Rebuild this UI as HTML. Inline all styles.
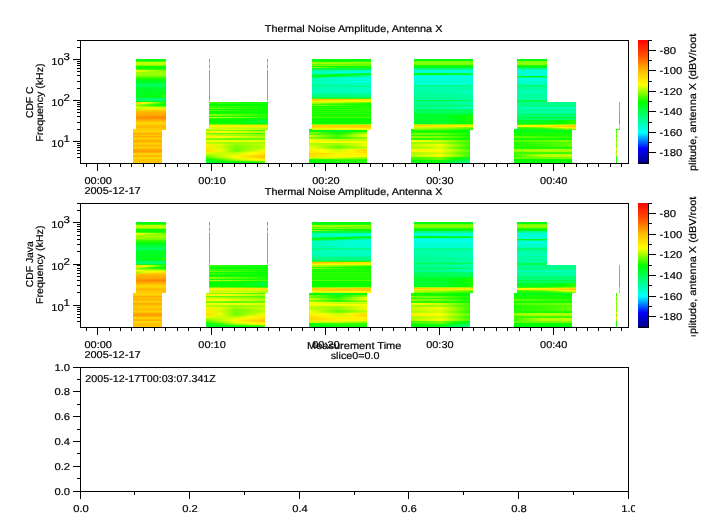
<!DOCTYPE html>
<html><head><meta charset="utf-8"><title>Thermal Noise Amplitude</title>
<style>
html,body{margin:0;padding:0;background:#fff;}
body{width:718px;height:532px;overflow:hidden;}
svg{display:block;}
text{font-family:"Liberation Sans",sans-serif;font-size:10px;fill:#000;stroke:#000;stroke-width:0.2px;}
</style></head><body>
<svg width="718" height="532" viewBox="0 0 718 532">
<defs>
<linearGradient id="a1"><stop offset="0" stop-color="#50ff00"/><stop offset="0.25" stop-color="#46ff00"/><stop offset="0.5" stop-color="#3cff00"/><stop offset="0.75" stop-color="#32ff00"/><stop offset="1" stop-color="#28ff00"/></linearGradient>
<linearGradient id="a2"><stop offset="0" stop-color="#fffa00"/><stop offset="0.25" stop-color="#dcff00"/><stop offset="0.5" stop-color="#aaff00"/><stop offset="0.75" stop-color="#91ff00"/><stop offset="1" stop-color="#78ff00"/></linearGradient>
<linearGradient id="a3"><stop offset="0" stop-color="#e6ff00"/><stop offset="0.25" stop-color="#c3ff00"/><stop offset="0.5" stop-color="#a0ff00"/><stop offset="0.75" stop-color="#91ff00"/><stop offset="1" stop-color="#82ff00"/></linearGradient>
<linearGradient id="a4"><stop offset="0" stop-color="#00ff1e"/><stop offset="0.25" stop-color="#00ff19"/><stop offset="0.5" stop-color="#00ff14"/><stop offset="0.75" stop-color="#0dff00"/><stop offset="1" stop-color="#3cff00"/></linearGradient>
<linearGradient id="a5"><stop offset="0" stop-color="#00ff1e"/><stop offset="0.25" stop-color="#00ff19"/><stop offset="0.5" stop-color="#00ff14"/><stop offset="0.75" stop-color="#08ff00"/><stop offset="1" stop-color="#32ff00"/></linearGradient>
<linearGradient id="a6"><stop offset="0" stop-color="#ffc800"/><stop offset="0.25" stop-color="#ffed00"/><stop offset="0.5" stop-color="#c8ff00"/><stop offset="0.75" stop-color="#6eff00"/><stop offset="1" stop-color="#14ff00"/></linearGradient>
<linearGradient id="a7"><stop offset="0" stop-color="#ffd200"/><stop offset="0.25" stop-color="#fffa00"/><stop offset="0.5" stop-color="#96ff00"/><stop offset="0.75" stop-color="#4bff00"/><stop offset="1" stop-color="#00ff00"/></linearGradient>
<linearGradient id="a8"><stop offset="0" stop-color="#c8ff00"/><stop offset="0.25" stop-color="#82ff00"/><stop offset="0.5" stop-color="#3cff00"/><stop offset="0.75" stop-color="#1eff00"/><stop offset="1" stop-color="#00ff00"/></linearGradient>
<linearGradient id="a9"><stop offset="0" stop-color="#96ff00"/><stop offset="0.25" stop-color="#5fff00"/><stop offset="0.5" stop-color="#28ff00"/><stop offset="0.75" stop-color="#14ff00"/><stop offset="1" stop-color="#00ff00"/></linearGradient>
<linearGradient id="a10"><stop offset="0" stop-color="#aaff00"/><stop offset="0.25" stop-color="#9bff00"/><stop offset="0.5" stop-color="#8cff00"/><stop offset="0.75" stop-color="#78ff00"/><stop offset="1" stop-color="#64ff00"/></linearGradient>
<linearGradient id="a11"><stop offset="0" stop-color="#f0ff00"/><stop offset="0.25" stop-color="#e1ff00"/><stop offset="0.5" stop-color="#d2ff00"/><stop offset="0.75" stop-color="#c8ff00"/><stop offset="1" stop-color="#beff00"/></linearGradient>
<linearGradient id="a12"><stop offset="0" stop-color="#c8ff00"/><stop offset="0.25" stop-color="#dcff00"/><stop offset="0.5" stop-color="#f0ff00"/><stop offset="0.75" stop-color="#ebff00"/><stop offset="1" stop-color="#e6ff00"/></linearGradient>
<linearGradient id="a13"><stop offset="0" stop-color="#78ff00"/><stop offset="0.25" stop-color="#daff00"/><stop offset="0.5" stop-color="#ffeb00"/><stop offset="0.75" stop-color="#ffe600"/><stop offset="1" stop-color="#ffe100"/></linearGradient>
<linearGradient id="a14"><stop offset="0" stop-color="#ff9b00"/><stop offset="0.25" stop-color="#ff9800"/><stop offset="0.5" stop-color="#ff9600"/><stop offset="0.75" stop-color="#ff9100"/><stop offset="1" stop-color="#ff8c00"/></linearGradient>
<linearGradient id="a15"><stop offset="0" stop-color="#ff8c00"/><stop offset="0.25" stop-color="#ff8900"/><stop offset="0.5" stop-color="#ff8700"/><stop offset="0.75" stop-color="#ff8400"/><stop offset="1" stop-color="#ff8200"/></linearGradient>
<linearGradient id="a16"><stop offset="0" stop-color="#96ff00"/><stop offset="0.25" stop-color="#7dff00"/><stop offset="0.5" stop-color="#64ff00"/><stop offset="0.75" stop-color="#50ff00"/><stop offset="1" stop-color="#3cff00"/></linearGradient>
<linearGradient id="a17"><stop offset="0" stop-color="#a0ff00"/><stop offset="0.25" stop-color="#87ff00"/><stop offset="0.5" stop-color="#6eff00"/><stop offset="0.75" stop-color="#55ff00"/><stop offset="1" stop-color="#3cff00"/></linearGradient>
<linearGradient id="a18"><stop offset="0" stop-color="#ffeb00"/><stop offset="0.25" stop-color="#fff900"/><stop offset="0.5" stop-color="#e6ff00"/><stop offset="0.75" stop-color="#c8ff00"/><stop offset="1" stop-color="#aaff00"/></linearGradient>
<linearGradient id="a19"><stop offset="0" stop-color="#fff000"/><stop offset="0.25" stop-color="#fffd00"/><stop offset="0.5" stop-color="#dcff00"/><stop offset="0.75" stop-color="#beff00"/><stop offset="1" stop-color="#a0ff00"/></linearGradient>
<linearGradient id="a20"><stop offset="0" stop-color="#64ff00"/><stop offset="0.25" stop-color="#5fff00"/><stop offset="0.5" stop-color="#5aff00"/><stop offset="0.75" stop-color="#55ff00"/><stop offset="1" stop-color="#50ff00"/></linearGradient>
<linearGradient id="a21"><stop offset="0" stop-color="#beff00"/><stop offset="0.25" stop-color="#afff00"/><stop offset="0.5" stop-color="#a0ff00"/><stop offset="0.75" stop-color="#8cff00"/><stop offset="1" stop-color="#78ff00"/></linearGradient>
<linearGradient id="a22"><stop offset="0" stop-color="#c8ff00"/><stop offset="0.25" stop-color="#b9ff00"/><stop offset="0.5" stop-color="#aaff00"/><stop offset="0.75" stop-color="#96ff00"/><stop offset="1" stop-color="#82ff00"/></linearGradient>
<linearGradient id="a23"><stop offset="0" stop-color="#fff000"/><stop offset="0.25" stop-color="#fffc00"/><stop offset="0.5" stop-color="#e6ff00"/><stop offset="0.75" stop-color="#c8ff00"/><stop offset="1" stop-color="#aaff00"/></linearGradient>
<linearGradient id="a24"><stop offset="0" stop-color="#fff000"/><stop offset="0.25" stop-color="#fffd00"/><stop offset="0.5" stop-color="#dcff00"/><stop offset="0.75" stop-color="#c3ff00"/><stop offset="1" stop-color="#aaff00"/></linearGradient>
<linearGradient id="a25"><stop offset="0" stop-color="#8cff00"/><stop offset="0.25" stop-color="#78ff00"/><stop offset="0.5" stop-color="#64ff00"/><stop offset="0.75" stop-color="#64ff00"/><stop offset="1" stop-color="#64ff00"/></linearGradient>
<linearGradient id="a26"><stop offset="0" stop-color="#78ff00"/><stop offset="0.25" stop-color="#69ff00"/><stop offset="0.5" stop-color="#5aff00"/><stop offset="0.75" stop-color="#64ff00"/><stop offset="1" stop-color="#6eff00"/></linearGradient>
<linearGradient id="a27"><stop offset="0" stop-color="#f0ff00"/><stop offset="0.25" stop-color="#eeff00"/><stop offset="0.5" stop-color="#ebff00"/><stop offset="0.75" stop-color="#e4ff00"/><stop offset="1" stop-color="#dcff00"/></linearGradient>
<linearGradient id="a28"><stop offset="0" stop-color="#f0ff00"/><stop offset="0.25" stop-color="#eeff00"/><stop offset="0.5" stop-color="#ebff00"/><stop offset="0.75" stop-color="#e4ff00"/><stop offset="1" stop-color="#dcff00"/></linearGradient>
<linearGradient id="a29"><stop offset="0" stop-color="#b4ff00"/><stop offset="0.25" stop-color="#aaff00"/><stop offset="0.5" stop-color="#a0ff00"/><stop offset="0.75" stop-color="#a5ff00"/><stop offset="1" stop-color="#aaff00"/></linearGradient>
<linearGradient id="a30"><stop offset="0" stop-color="#beff00"/><stop offset="0.25" stop-color="#aaff00"/><stop offset="0.5" stop-color="#96ff00"/><stop offset="0.75" stop-color="#a0ff00"/><stop offset="1" stop-color="#aaff00"/></linearGradient>
<linearGradient id="a31"><stop offset="0" stop-color="#fff000"/><stop offset="0.25" stop-color="#e1ff00"/><stop offset="0.5" stop-color="#96ff00"/><stop offset="0.75" stop-color="#afff00"/><stop offset="1" stop-color="#c8ff00"/></linearGradient>
<linearGradient id="a32"><stop offset="0" stop-color="#fff000"/><stop offset="0.25" stop-color="#d7ff00"/><stop offset="0.5" stop-color="#82ff00"/><stop offset="0.75" stop-color="#a0ff00"/><stop offset="1" stop-color="#beff00"/></linearGradient>
<linearGradient id="a33"><stop offset="0" stop-color="#ffeb00"/><stop offset="0.25" stop-color="#daff00"/><stop offset="0.5" stop-color="#78ff00"/><stop offset="0.75" stop-color="#96ff00"/><stop offset="1" stop-color="#b4ff00"/></linearGradient>
<linearGradient id="a34"><stop offset="0" stop-color="#fff000"/><stop offset="0.25" stop-color="#d2ff00"/><stop offset="0.5" stop-color="#78ff00"/><stop offset="0.75" stop-color="#9bff00"/><stop offset="1" stop-color="#beff00"/></linearGradient>
<linearGradient id="a35"><stop offset="0" stop-color="#ffeb00"/><stop offset="0.25" stop-color="#daff00"/><stop offset="0.5" stop-color="#78ff00"/><stop offset="0.75" stop-color="#a0ff00"/><stop offset="1" stop-color="#c8ff00"/></linearGradient>
<linearGradient id="a36"><stop offset="0" stop-color="#ffdc00"/><stop offset="0.25" stop-color="#ecff00"/><stop offset="0.5" stop-color="#6eff00"/><stop offset="0.75" stop-color="#aaff00"/><stop offset="1" stop-color="#e6ff00"/></linearGradient>
<linearGradient id="a37"><stop offset="0" stop-color="#ffdc00"/><stop offset="0.25" stop-color="#ecff00"/><stop offset="0.5" stop-color="#6eff00"/><stop offset="0.75" stop-color="#afff00"/><stop offset="1" stop-color="#f0ff00"/></linearGradient>
<linearGradient id="a38"><stop offset="0" stop-color="#ffe100"/><stop offset="0.25" stop-color="#e9ff00"/><stop offset="0.5" stop-color="#78ff00"/><stop offset="0.75" stop-color="#cbff00"/><stop offset="1" stop-color="#fff500"/></linearGradient>
<linearGradient id="a39"><stop offset="0" stop-color="#ebff00"/><stop offset="0.25" stop-color="#cbff00"/><stop offset="0.5" stop-color="#aaff00"/><stop offset="0.75" stop-color="#f3ff00"/><stop offset="1" stop-color="#ffeb00"/></linearGradient>
<linearGradient id="a40"><stop offset="0" stop-color="#d2ff00"/><stop offset="0.25" stop-color="#cdff00"/><stop offset="0.5" stop-color="#c8ff00"/><stop offset="0.75" stop-color="#fffc00"/><stop offset="1" stop-color="#ffe600"/></linearGradient>
<linearGradient id="a41"><stop offset="0" stop-color="#beff00"/><stop offset="0.25" stop-color="#cdff00"/><stop offset="0.5" stop-color="#dcff00"/><stop offset="0.75" stop-color="#fff600"/><stop offset="1" stop-color="#ffe100"/></linearGradient>
<linearGradient id="a42"><stop offset="0" stop-color="#82ff00"/><stop offset="0.25" stop-color="#bbff00"/><stop offset="0.5" stop-color="#f5ff00"/><stop offset="0.75" stop-color="#ffe800"/><stop offset="1" stop-color="#ffcd00"/></linearGradient>
<linearGradient id="a43"><stop offset="0" stop-color="#64ff00"/><stop offset="0.25" stop-color="#b9ff00"/><stop offset="0.5" stop-color="#fffa00"/><stop offset="0.75" stop-color="#ffdc00"/><stop offset="1" stop-color="#ffbe00"/></linearGradient>
<linearGradient id="a44"><stop offset="0" stop-color="#5aff00"/><stop offset="0.25" stop-color="#a8ff00"/><stop offset="0.5" stop-color="#f5ff00"/><stop offset="0.75" stop-color="#ffe300"/><stop offset="1" stop-color="#ffc300"/></linearGradient>
<linearGradient id="a45"><stop offset="0" stop-color="#14ff00"/><stop offset="0.25" stop-color="#78ff00"/><stop offset="0.5" stop-color="#dcff00"/><stop offset="0.75" stop-color="#fff600"/><stop offset="1" stop-color="#ffe100"/></linearGradient>
<linearGradient id="a46"><stop offset="0" stop-color="#00ff14"/><stop offset="0.25" stop-color="#49ff00"/><stop offset="0.5" stop-color="#b4ff00"/><stop offset="0.75" stop-color="#f0ff00"/><stop offset="1" stop-color="#fff000"/></linearGradient>
<linearGradient id="a47"><stop offset="0" stop-color="#00ff1e"/><stop offset="0.25" stop-color="#27ff00"/><stop offset="0.5" stop-color="#82ff00"/><stop offset="0.75" stop-color="#b9ff00"/><stop offset="1" stop-color="#f0ff00"/></linearGradient>
<linearGradient id="a48"><stop offset="0" stop-color="#00ff28"/><stop offset="0.25" stop-color="#00ff09"/><stop offset="0.5" stop-color="#28ff00"/><stop offset="0.75" stop-color="#46ff00"/><stop offset="1" stop-color="#64ff00"/></linearGradient>
<linearGradient id="a49"><stop offset="0" stop-color="#00ff28"/><stop offset="0.25" stop-color="#00ff1e"/><stop offset="0.5" stop-color="#00ff14"/><stop offset="0.75" stop-color="#0dff00"/><stop offset="1" stop-color="#3cff00"/></linearGradient>
<linearGradient id="a50"><stop offset="0" stop-color="#3cff00"/><stop offset="0.25" stop-color="#32ff00"/><stop offset="0.5" stop-color="#28ff00"/><stop offset="0.75" stop-color="#1eff00"/><stop offset="1" stop-color="#14ff00"/></linearGradient>
<linearGradient id="a51"><stop offset="0" stop-color="#32ff00"/><stop offset="0.25" stop-color="#28ff00"/><stop offset="0.5" stop-color="#1eff00"/><stop offset="0.75" stop-color="#19ff00"/><stop offset="1" stop-color="#14ff00"/></linearGradient>
<linearGradient id="a52"><stop offset="0" stop-color="#3cff00"/><stop offset="0.25" stop-color="#32ff00"/><stop offset="0.5" stop-color="#28ff00"/><stop offset="0.75" stop-color="#1eff00"/><stop offset="1" stop-color="#14ff00"/></linearGradient>
<linearGradient id="a53"><stop offset="0" stop-color="#3cff00"/><stop offset="0.25" stop-color="#32ff00"/><stop offset="0.5" stop-color="#28ff00"/><stop offset="0.75" stop-color="#19ff00"/><stop offset="1" stop-color="#0aff00"/></linearGradient>
<linearGradient id="a54"><stop offset="0" stop-color="#6eff00"/><stop offset="0.25" stop-color="#55ff00"/><stop offset="0.5" stop-color="#3cff00"/><stop offset="0.75" stop-color="#28ff00"/><stop offset="1" stop-color="#14ff00"/></linearGradient>
<linearGradient id="a55"><stop offset="0" stop-color="#5aff00"/><stop offset="0.25" stop-color="#41ff00"/><stop offset="0.5" stop-color="#28ff00"/><stop offset="0.75" stop-color="#19ff00"/><stop offset="1" stop-color="#0aff00"/></linearGradient>
<linearGradient id="a56"><stop offset="0" stop-color="#96ff00"/><stop offset="0.25" stop-color="#78ff00"/><stop offset="0.5" stop-color="#5aff00"/><stop offset="0.75" stop-color="#3cff00"/><stop offset="1" stop-color="#1eff00"/></linearGradient>
<linearGradient id="a57"><stop offset="0" stop-color="#82ff00"/><stop offset="0.25" stop-color="#69ff00"/><stop offset="0.5" stop-color="#50ff00"/><stop offset="0.75" stop-color="#37ff00"/><stop offset="1" stop-color="#1eff00"/></linearGradient>
<linearGradient id="a58"><stop offset="0" stop-color="#c8ff00"/><stop offset="0.25" stop-color="#aaff00"/><stop offset="0.5" stop-color="#8cff00"/><stop offset="0.75" stop-color="#64ff00"/><stop offset="1" stop-color="#3cff00"/></linearGradient>
<linearGradient id="a59"><stop offset="0" stop-color="#28ff00"/><stop offset="0.25" stop-color="#1eff00"/><stop offset="0.5" stop-color="#14ff00"/><stop offset="0.75" stop-color="#00ff04"/><stop offset="1" stop-color="#00ff14"/></linearGradient>
<linearGradient id="a60"><stop offset="0" stop-color="#00ff00"/><stop offset="0.25" stop-color="#00ff00"/><stop offset="0.5" stop-color="#00ff00"/><stop offset="0.75" stop-color="#00ff14"/><stop offset="1" stop-color="#00ff28"/></linearGradient>
<linearGradient id="a61"><stop offset="0" stop-color="#00ff00"/><stop offset="0.25" stop-color="#00ff00"/><stop offset="0.5" stop-color="#00ff00"/><stop offset="0.75" stop-color="#00ff1e"/><stop offset="1" stop-color="#00ff3c"/></linearGradient>
<linearGradient id="a62"><stop offset="0" stop-color="#00ff00"/><stop offset="0.25" stop-color="#00ff05"/><stop offset="0.5" stop-color="#00ff0a"/><stop offset="0.75" stop-color="#00ff28"/><stop offset="1" stop-color="#00ff46"/></linearGradient>
<linearGradient id="a63"><stop offset="0" stop-color="#00ff00"/><stop offset="0.25" stop-color="#00ff05"/><stop offset="0.5" stop-color="#00ff0a"/><stop offset="0.75" stop-color="#00ff23"/><stop offset="1" stop-color="#00ff3c"/></linearGradient>
<linearGradient id="a64"><stop offset="0" stop-color="#14ff00"/><stop offset="0.25" stop-color="#0fff00"/><stop offset="0.5" stop-color="#0aff00"/><stop offset="0.75" stop-color="#00ff07"/><stop offset="1" stop-color="#00ff14"/></linearGradient>
<linearGradient id="a65"><stop offset="0" stop-color="#78ff00"/><stop offset="0.25" stop-color="#6eff00"/><stop offset="0.5" stop-color="#64ff00"/><stop offset="0.75" stop-color="#5aff00"/><stop offset="1" stop-color="#50ff00"/></linearGradient>
<linearGradient id="a66"><stop offset="0" stop-color="#fff000"/><stop offset="0.25" stop-color="#ffee00"/><stop offset="0.5" stop-color="#ffeb00"/><stop offset="0.75" stop-color="#ffe700"/><stop offset="1" stop-color="#ffe400"/></linearGradient>
<linearGradient id="a67"><stop offset="0" stop-color="#fff500"/><stop offset="0.25" stop-color="#fff300"/><stop offset="0.5" stop-color="#fff000"/><stop offset="0.75" stop-color="#ffeb00"/><stop offset="1" stop-color="#ffe600"/></linearGradient>
<linearGradient id="a68"><stop offset="0" stop-color="#e1ff00"/><stop offset="0.25" stop-color="#d9ff00"/><stop offset="0.5" stop-color="#d2ff00"/><stop offset="0.75" stop-color="#d4ff00"/><stop offset="1" stop-color="#d7ff00"/></linearGradient>
<linearGradient id="a69"><stop offset="0" stop-color="#dcff00"/><stop offset="0.25" stop-color="#cdff00"/><stop offset="0.5" stop-color="#beff00"/><stop offset="0.75" stop-color="#b9ff00"/><stop offset="1" stop-color="#b4ff00"/></linearGradient>
<linearGradient id="a70"><stop offset="0" stop-color="#c8ff00"/><stop offset="0.25" stop-color="#d7ff00"/><stop offset="0.5" stop-color="#e6ff00"/><stop offset="0.75" stop-color="#c8ff00"/><stop offset="1" stop-color="#aaff00"/></linearGradient>
<linearGradient id="a71"><stop offset="0" stop-color="#00ff0a"/><stop offset="0.25" stop-color="#00ff23"/><stop offset="0.5" stop-color="#00ff3c"/><stop offset="0.75" stop-color="#00ff0d"/><stop offset="1" stop-color="#3cff00"/></linearGradient>
<linearGradient id="a72"><stop offset="0" stop-color="#00ff0a"/><stop offset="0.25" stop-color="#00ff23"/><stop offset="0.5" stop-color="#00ff3c"/><stop offset="0.75" stop-color="#00ff18"/><stop offset="1" stop-color="#14ff00"/></linearGradient>
<linearGradient id="a73"><stop offset="0" stop-color="#14ff00"/><stop offset="0.25" stop-color="#00ff13"/><stop offset="0.5" stop-color="#00ff32"/><stop offset="0.75" stop-color="#00ff10"/><stop offset="1" stop-color="#1eff00"/></linearGradient>
<linearGradient id="a74"><stop offset="0" stop-color="#82ff00"/><stop offset="0.25" stop-color="#46ff00"/><stop offset="0.5" stop-color="#0aff00"/><stop offset="0.75" stop-color="#46ff00"/><stop offset="1" stop-color="#82ff00"/></linearGradient>
<linearGradient id="a75"><stop offset="0" stop-color="#82ff00"/><stop offset="0.25" stop-color="#4bff00"/><stop offset="0.5" stop-color="#14ff00"/><stop offset="0.75" stop-color="#55ff00"/><stop offset="1" stop-color="#96ff00"/></linearGradient>
<linearGradient id="a76"><stop offset="0" stop-color="#64ff00"/><stop offset="0.25" stop-color="#41ff00"/><stop offset="0.5" stop-color="#1eff00"/><stop offset="0.75" stop-color="#87ff00"/><stop offset="1" stop-color="#f0ff00"/></linearGradient>
<linearGradient id="a77"><stop offset="0" stop-color="#c8ff00"/><stop offset="0.25" stop-color="#82ff00"/><stop offset="0.5" stop-color="#3cff00"/><stop offset="0.75" stop-color="#9bff00"/><stop offset="1" stop-color="#faff00"/></linearGradient>
<linearGradient id="a78"><stop offset="0" stop-color="#c8ff00"/><stop offset="0.25" stop-color="#82ff00"/><stop offset="0.5" stop-color="#3cff00"/><stop offset="0.75" stop-color="#9bff00"/><stop offset="1" stop-color="#faff00"/></linearGradient>
<linearGradient id="a79"><stop offset="0" stop-color="#8cff00"/><stop offset="0.25" stop-color="#5aff00"/><stop offset="0.5" stop-color="#28ff00"/><stop offset="0.75" stop-color="#5fff00"/><stop offset="1" stop-color="#96ff00"/></linearGradient>
<linearGradient id="a80"><stop offset="0" stop-color="#8cff00"/><stop offset="0.25" stop-color="#5fff00"/><stop offset="0.5" stop-color="#32ff00"/><stop offset="0.75" stop-color="#5fff00"/><stop offset="1" stop-color="#8cff00"/></linearGradient>
<linearGradient id="a81"><stop offset="0" stop-color="#faff00"/><stop offset="0.25" stop-color="#e1ff00"/><stop offset="0.5" stop-color="#c8ff00"/><stop offset="0.75" stop-color="#c8ff00"/><stop offset="1" stop-color="#c8ff00"/></linearGradient>
<linearGradient id="a82"><stop offset="0" stop-color="#faff00"/><stop offset="0.25" stop-color="#e1ff00"/><stop offset="0.5" stop-color="#c8ff00"/><stop offset="0.75" stop-color="#c3ff00"/><stop offset="1" stop-color="#beff00"/></linearGradient>
<linearGradient id="a83"><stop offset="0" stop-color="#beff00"/><stop offset="0.25" stop-color="#aaff00"/><stop offset="0.5" stop-color="#96ff00"/><stop offset="0.75" stop-color="#c3ff00"/><stop offset="1" stop-color="#f0ff00"/></linearGradient>
<linearGradient id="a84"><stop offset="0" stop-color="#beff00"/><stop offset="0.25" stop-color="#aaff00"/><stop offset="0.5" stop-color="#96ff00"/><stop offset="0.75" stop-color="#c3ff00"/><stop offset="1" stop-color="#f0ff00"/></linearGradient>
<linearGradient id="a85"><stop offset="0" stop-color="#c8ff00"/><stop offset="0.25" stop-color="#aaff00"/><stop offset="0.5" stop-color="#8cff00"/><stop offset="0.75" stop-color="#beff00"/><stop offset="1" stop-color="#f0ff00"/></linearGradient>
<linearGradient id="a86"><stop offset="0" stop-color="#f0ff00"/><stop offset="0.25" stop-color="#aaff00"/><stop offset="0.5" stop-color="#64ff00"/><stop offset="0.75" stop-color="#96ff00"/><stop offset="1" stop-color="#c8ff00"/></linearGradient>
<linearGradient id="a87"><stop offset="0" stop-color="#f0ff00"/><stop offset="0.25" stop-color="#aaff00"/><stop offset="0.5" stop-color="#64ff00"/><stop offset="0.75" stop-color="#91ff00"/><stop offset="1" stop-color="#beff00"/></linearGradient>
<linearGradient id="a88"><stop offset="0" stop-color="#f5ff00"/><stop offset="0.25" stop-color="#b6ff00"/><stop offset="0.5" stop-color="#78ff00"/><stop offset="0.75" stop-color="#a5ff00"/><stop offset="1" stop-color="#d2ff00"/></linearGradient>
<linearGradient id="a89"><stop offset="0" stop-color="#fff000"/><stop offset="0.25" stop-color="#faff00"/><stop offset="0.5" stop-color="#c8ff00"/><stop offset="0.75" stop-color="#fff700"/><stop offset="1" stop-color="#ffdc00"/></linearGradient>
<linearGradient id="a90"><stop offset="0" stop-color="#fff000"/><stop offset="0.25" stop-color="#faff00"/><stop offset="0.5" stop-color="#c8ff00"/><stop offset="0.75" stop-color="#fff400"/><stop offset="1" stop-color="#ffd700"/></linearGradient>
<linearGradient id="a91"><stop offset="0" stop-color="#ffeb00"/><stop offset="0.25" stop-color="#fffc00"/><stop offset="0.5" stop-color="#d2ff00"/><stop offset="0.75" stop-color="#fff200"/><stop offset="1" stop-color="#ffd700"/></linearGradient>
<linearGradient id="a92"><stop offset="0" stop-color="#ffe600"/><stop offset="0.25" stop-color="#fff700"/><stop offset="0.5" stop-color="#e6ff00"/><stop offset="0.75" stop-color="#fff200"/><stop offset="1" stop-color="#ffdc00"/></linearGradient>
<linearGradient id="a93"><stop offset="0" stop-color="#ffd700"/><stop offset="0.25" stop-color="#ffe600"/><stop offset="0.5" stop-color="#fff500"/><stop offset="0.75" stop-color="#fff300"/><stop offset="1" stop-color="#fff000"/></linearGradient>
<linearGradient id="a94"><stop offset="0" stop-color="#ffd700"/><stop offset="0.25" stop-color="#ffe600"/><stop offset="0.5" stop-color="#fff500"/><stop offset="0.75" stop-color="#fff300"/><stop offset="1" stop-color="#fff000"/></linearGradient>
<linearGradient id="a95"><stop offset="0" stop-color="#ffd700"/><stop offset="0.25" stop-color="#ffe600"/><stop offset="0.5" stop-color="#fff500"/><stop offset="0.75" stop-color="#fff300"/><stop offset="1" stop-color="#fff000"/></linearGradient>
<linearGradient id="a96"><stop offset="0" stop-color="#ffe100"/><stop offset="0.25" stop-color="#ffee00"/><stop offset="0.5" stop-color="#fffa00"/><stop offset="0.75" stop-color="#fffe00"/><stop offset="1" stop-color="#f5ff00"/></linearGradient>
<linearGradient id="a97"><stop offset="0" stop-color="#c8ff00"/><stop offset="0.25" stop-color="#d2ff00"/><stop offset="0.5" stop-color="#dcff00"/><stop offset="0.75" stop-color="#b9ff00"/><stop offset="1" stop-color="#96ff00"/></linearGradient>
<linearGradient id="a98"><stop offset="0" stop-color="#beff00"/><stop offset="0.25" stop-color="#b9ff00"/><stop offset="0.5" stop-color="#b4ff00"/><stop offset="0.75" stop-color="#a0ff00"/><stop offset="1" stop-color="#8cff00"/></linearGradient>
<linearGradient id="a99"><stop offset="0" stop-color="#14ff00"/><stop offset="0.25" stop-color="#28ff00"/><stop offset="0.5" stop-color="#3cff00"/><stop offset="0.75" stop-color="#37ff00"/><stop offset="1" stop-color="#32ff00"/></linearGradient>
<linearGradient id="a100"><stop offset="0" stop-color="#00ff00"/><stop offset="0.25" stop-color="#14ff00"/><stop offset="0.5" stop-color="#28ff00"/><stop offset="0.75" stop-color="#28ff00"/><stop offset="1" stop-color="#28ff00"/></linearGradient>
<linearGradient id="a101"><stop offset="0" stop-color="#00ff0a"/><stop offset="0.25" stop-color="#06ff00"/><stop offset="0.5" stop-color="#1eff00"/><stop offset="0.75" stop-color="#1eff00"/><stop offset="1" stop-color="#1eff00"/></linearGradient>
<linearGradient id="a102"><stop offset="0" stop-color="#00ff0a"/><stop offset="0.25" stop-color="#01ff00"/><stop offset="0.5" stop-color="#14ff00"/><stop offset="0.75" stop-color="#19ff00"/><stop offset="1" stop-color="#1eff00"/></linearGradient>
<linearGradient id="a103"><stop offset="0" stop-color="#a0ff00"/><stop offset="0.25" stop-color="#9bff00"/><stop offset="0.5" stop-color="#96ff00"/><stop offset="0.75" stop-color="#8cff00"/><stop offset="1" stop-color="#82ff00"/></linearGradient>
<linearGradient id="a104"><stop offset="0" stop-color="#82ff00"/><stop offset="0.25" stop-color="#7dff00"/><stop offset="0.5" stop-color="#78ff00"/><stop offset="0.75" stop-color="#73ff00"/><stop offset="1" stop-color="#6eff00"/></linearGradient>
<linearGradient id="a105"><stop offset="0" stop-color="#aaff00"/><stop offset="0.25" stop-color="#64ff00"/><stop offset="0.5" stop-color="#1eff00"/><stop offset="0.75" stop-color="#14ff00"/><stop offset="1" stop-color="#0aff00"/></linearGradient>
<linearGradient id="a106"><stop offset="0" stop-color="#00ff32"/><stop offset="0.25" stop-color="#00ff37"/><stop offset="0.5" stop-color="#00ff3c"/><stop offset="0.75" stop-color="#00ff3c"/><stop offset="1" stop-color="#00ff3c"/></linearGradient>
<linearGradient id="a107"><stop offset="0" stop-color="#00ffa0"/><stop offset="0.25" stop-color="#00ffa7"/><stop offset="0.5" stop-color="#00ffaf"/><stop offset="0.75" stop-color="#00ffb6"/><stop offset="1" stop-color="#00ffbe"/></linearGradient>
<linearGradient id="a108"><stop offset="0" stop-color="#00ffb4"/><stop offset="0.25" stop-color="#00ffbe"/><stop offset="0.5" stop-color="#00ffc8"/><stop offset="0.75" stop-color="#00ffd2"/><stop offset="1" stop-color="#00ffdc"/></linearGradient>
<linearGradient id="a109"><stop offset="0" stop-color="#00ffbe"/><stop offset="0.25" stop-color="#00ffcd"/><stop offset="0.5" stop-color="#00ffdc"/><stop offset="0.75" stop-color="#00ffe4"/><stop offset="1" stop-color="#00ffeb"/></linearGradient>
<linearGradient id="a110"><stop offset="0" stop-color="#00ffb4"/><stop offset="0.25" stop-color="#00ffaf"/><stop offset="0.5" stop-color="#00ffaa"/><stop offset="0.75" stop-color="#00ff5f"/><stop offset="1" stop-color="#00ff14"/></linearGradient>
<linearGradient id="a111"><stop offset="0" stop-color="#00ff82"/><stop offset="0.25" stop-color="#00ff4b"/><stop offset="0.5" stop-color="#00ff14"/><stop offset="0.75" stop-color="#00ff19"/><stop offset="1" stop-color="#00ff1e"/></linearGradient>
<linearGradient id="a112"><stop offset="0" stop-color="#00ff28"/><stop offset="0.25" stop-color="#00ff19"/><stop offset="0.5" stop-color="#00ff0a"/><stop offset="0.75" stop-color="#00ff50"/><stop offset="1" stop-color="#00ff96"/></linearGradient>
<linearGradient id="a113"><stop offset="0" stop-color="#00ff0a"/><stop offset="0.25" stop-color="#00ff32"/><stop offset="0.5" stop-color="#00ff5a"/><stop offset="0.75" stop-color="#00ff87"/><stop offset="1" stop-color="#00ffb4"/></linearGradient>
<linearGradient id="a114"><stop offset="0" stop-color="#00ff64"/><stop offset="0.25" stop-color="#00ff91"/><stop offset="0.5" stop-color="#00ffbe"/><stop offset="0.75" stop-color="#00ffcd"/><stop offset="1" stop-color="#00ffdc"/></linearGradient>
<linearGradient id="a115"><stop offset="0" stop-color="#00ffb4"/><stop offset="0.25" stop-color="#00ffc6"/><stop offset="0.5" stop-color="#00ffd7"/><stop offset="0.75" stop-color="#00ffdc"/><stop offset="1" stop-color="#00ffe1"/></linearGradient>
<linearGradient id="a116"><stop offset="0" stop-color="#00ffbe"/><stop offset="0.25" stop-color="#00ffca"/><stop offset="0.5" stop-color="#00ffd7"/><stop offset="0.75" stop-color="#00ffdc"/><stop offset="1" stop-color="#00ffe1"/></linearGradient>
<linearGradient id="a117"><stop offset="0" stop-color="#00ffaa"/><stop offset="0.25" stop-color="#00ffb4"/><stop offset="0.5" stop-color="#00ffbe"/><stop offset="0.75" stop-color="#00ffc3"/><stop offset="1" stop-color="#00ffc8"/></linearGradient>
<linearGradient id="a118"><stop offset="0" stop-color="#00ffbe"/><stop offset="0.25" stop-color="#00ffca"/><stop offset="0.5" stop-color="#00ffd7"/><stop offset="0.75" stop-color="#00ffdc"/><stop offset="1" stop-color="#00ffe1"/></linearGradient>
<linearGradient id="a119"><stop offset="0" stop-color="#00ffb9"/><stop offset="0.25" stop-color="#00ffc5"/><stop offset="0.5" stop-color="#00ffd2"/><stop offset="0.75" stop-color="#00ffd4"/><stop offset="1" stop-color="#00ffd7"/></linearGradient>
<linearGradient id="a120"><stop offset="0" stop-color="#00ffaa"/><stop offset="0.25" stop-color="#00ffb4"/><stop offset="0.5" stop-color="#00ffbe"/><stop offset="0.75" stop-color="#00ffc0"/><stop offset="1" stop-color="#00ffc3"/></linearGradient>
<linearGradient id="a121"><stop offset="0" stop-color="#00ffb4"/><stop offset="0.25" stop-color="#00ffbe"/><stop offset="0.5" stop-color="#00ffc8"/><stop offset="0.75" stop-color="#00ffca"/><stop offset="1" stop-color="#00ffcd"/></linearGradient>
<linearGradient id="a122"><stop offset="0" stop-color="#00ff82"/><stop offset="0.25" stop-color="#00ff87"/><stop offset="0.5" stop-color="#00ff8c"/><stop offset="0.75" stop-color="#00ff91"/><stop offset="1" stop-color="#00ff96"/></linearGradient>
<linearGradient id="a123"><stop offset="0" stop-color="#00ffb4"/><stop offset="0.25" stop-color="#00ffb9"/><stop offset="0.5" stop-color="#00ffbe"/><stop offset="0.75" stop-color="#00ffc0"/><stop offset="1" stop-color="#00ffc3"/></linearGradient>
<linearGradient id="a124"><stop offset="0" stop-color="#00ffb4"/><stop offset="0.25" stop-color="#00ffb9"/><stop offset="0.5" stop-color="#00ffbe"/><stop offset="0.75" stop-color="#00ffc0"/><stop offset="1" stop-color="#00ffc3"/></linearGradient>
<linearGradient id="a125"><stop offset="0" stop-color="#00ffb4"/><stop offset="0.25" stop-color="#00ffb9"/><stop offset="0.5" stop-color="#00ffbe"/><stop offset="0.75" stop-color="#00ffc0"/><stop offset="1" stop-color="#00ffc3"/></linearGradient>
<linearGradient id="a126"><stop offset="0" stop-color="#00ffb4"/><stop offset="0.25" stop-color="#00ffb9"/><stop offset="0.5" stop-color="#00ffbe"/><stop offset="0.75" stop-color="#00ffc0"/><stop offset="1" stop-color="#00ffc3"/></linearGradient>
<linearGradient id="a127"><stop offset="0" stop-color="#00ffb4"/><stop offset="0.25" stop-color="#00ffb9"/><stop offset="0.5" stop-color="#00ffbe"/><stop offset="0.75" stop-color="#00ffc0"/><stop offset="1" stop-color="#00ffc3"/></linearGradient>
<linearGradient id="a128"><stop offset="0" stop-color="#00ffb4"/><stop offset="0.25" stop-color="#00ffb9"/><stop offset="0.5" stop-color="#00ffbe"/><stop offset="0.75" stop-color="#00ffc0"/><stop offset="1" stop-color="#00ffc3"/></linearGradient>
<linearGradient id="a129"><stop offset="0" stop-color="#3cff00"/><stop offset="0.25" stop-color="#32ff00"/><stop offset="0.5" stop-color="#28ff00"/><stop offset="0.75" stop-color="#28ff00"/><stop offset="1" stop-color="#28ff00"/></linearGradient>
<linearGradient id="a130"><stop offset="0" stop-color="#ffbe00"/><stop offset="0.25" stop-color="#ffc500"/><stop offset="0.5" stop-color="#ffcd00"/><stop offset="0.75" stop-color="#ffd400"/><stop offset="1" stop-color="#ffdc00"/></linearGradient>
<linearGradient id="a131"><stop offset="0" stop-color="#ffd700"/><stop offset="0.25" stop-color="#ffde00"/><stop offset="0.5" stop-color="#ffe600"/><stop offset="0.75" stop-color="#ffeb00"/><stop offset="1" stop-color="#fff000"/></linearGradient>
<linearGradient id="a132"><stop offset="0" stop-color="#c8ff00"/><stop offset="0.25" stop-color="#b4ff00"/><stop offset="0.5" stop-color="#a0ff00"/><stop offset="0.75" stop-color="#82ff00"/><stop offset="1" stop-color="#64ff00"/></linearGradient>
<linearGradient id="a133"><stop offset="0" stop-color="#96ff00"/><stop offset="0.25" stop-color="#73ff00"/><stop offset="0.5" stop-color="#50ff00"/><stop offset="0.75" stop-color="#37ff00"/><stop offset="1" stop-color="#1eff00"/></linearGradient>
<linearGradient id="a134"><stop offset="0" stop-color="#3cff00"/><stop offset="0.25" stop-color="#2dff00"/><stop offset="0.5" stop-color="#1eff00"/><stop offset="0.75" stop-color="#14ff00"/><stop offset="1" stop-color="#0aff00"/></linearGradient>
<linearGradient id="a135"><stop offset="0" stop-color="#96ff00"/><stop offset="0.25" stop-color="#73ff00"/><stop offset="0.5" stop-color="#50ff00"/><stop offset="0.75" stop-color="#2dff00"/><stop offset="1" stop-color="#0aff00"/></linearGradient>
<linearGradient id="a136"><stop offset="0" stop-color="#78ff00"/><stop offset="0.25" stop-color="#82ff00"/><stop offset="0.5" stop-color="#8cff00"/><stop offset="0.75" stop-color="#96ff00"/><stop offset="1" stop-color="#a0ff00"/></linearGradient>
<linearGradient id="a137"><stop offset="0" stop-color="#ffd700"/><stop offset="0.25" stop-color="#ffd400"/><stop offset="0.5" stop-color="#ffd200"/><stop offset="0.75" stop-color="#ffcd00"/><stop offset="1" stop-color="#ffc800"/></linearGradient>
<linearGradient id="a138"><stop offset="0" stop-color="#ffd200"/><stop offset="0.25" stop-color="#ffd000"/><stop offset="0.5" stop-color="#ffcd00"/><stop offset="0.75" stop-color="#ffca00"/><stop offset="1" stop-color="#ffc800"/></linearGradient>
<linearGradient id="a139"><stop offset="0" stop-color="#ffe100"/><stop offset="0.25" stop-color="#ffdc00"/><stop offset="0.5" stop-color="#ffd700"/><stop offset="0.75" stop-color="#ffd400"/><stop offset="1" stop-color="#ffd200"/></linearGradient>
<linearGradient id="a140"><stop offset="0" stop-color="#ebff00"/><stop offset="0.25" stop-color="#eeff00"/><stop offset="0.5" stop-color="#f0ff00"/><stop offset="0.75" stop-color="#fffa00"/><stop offset="1" stop-color="#fff000"/></linearGradient>
<linearGradient id="a141"><stop offset="0" stop-color="#c8ff00"/><stop offset="0.25" stop-color="#d2ff00"/><stop offset="0.5" stop-color="#dcff00"/><stop offset="0.75" stop-color="#e1ff00"/><stop offset="1" stop-color="#e6ff00"/></linearGradient>
<linearGradient id="a142"><stop offset="0" stop-color="#14ff00"/><stop offset="0.25" stop-color="#14ff00"/><stop offset="0.5" stop-color="#14ff00"/><stop offset="0.75" stop-color="#0aff00"/><stop offset="1" stop-color="#00ff00"/></linearGradient>
<linearGradient id="a143"><stop offset="0" stop-color="#14ff00"/><stop offset="0.25" stop-color="#14ff00"/><stop offset="0.5" stop-color="#14ff00"/><stop offset="0.75" stop-color="#0aff00"/><stop offset="1" stop-color="#00ff00"/></linearGradient>
<linearGradient id="a144"><stop offset="0" stop-color="#14ff00"/><stop offset="0.25" stop-color="#14ff00"/><stop offset="0.5" stop-color="#14ff00"/><stop offset="0.75" stop-color="#01ff00"/><stop offset="1" stop-color="#00ff0a"/></linearGradient>
<linearGradient id="a145"><stop offset="0" stop-color="#1eff00"/><stop offset="0.25" stop-color="#1eff00"/><stop offset="0.5" stop-color="#1eff00"/><stop offset="0.75" stop-color="#06ff00"/><stop offset="1" stop-color="#00ff0a"/></linearGradient>
<linearGradient id="a146"><stop offset="0" stop-color="#78ff00"/><stop offset="0.25" stop-color="#73ff00"/><stop offset="0.5" stop-color="#6eff00"/><stop offset="0.75" stop-color="#41ff00"/><stop offset="1" stop-color="#14ff00"/></linearGradient>
<linearGradient id="a147"><stop offset="0" stop-color="#78ff00"/><stop offset="0.25" stop-color="#73ff00"/><stop offset="0.5" stop-color="#6eff00"/><stop offset="0.75" stop-color="#41ff00"/><stop offset="1" stop-color="#14ff00"/></linearGradient>
<linearGradient id="a148"><stop offset="0" stop-color="#28ff00"/><stop offset="0.25" stop-color="#23ff00"/><stop offset="0.5" stop-color="#1eff00"/><stop offset="0.75" stop-color="#0fff00"/><stop offset="1" stop-color="#00ff00"/></linearGradient>
<linearGradient id="a149"><stop offset="0" stop-color="#8cff00"/><stop offset="0.25" stop-color="#87ff00"/><stop offset="0.5" stop-color="#82ff00"/><stop offset="0.75" stop-color="#50ff00"/><stop offset="1" stop-color="#1eff00"/></linearGradient>
<linearGradient id="a150"><stop offset="0" stop-color="#8cff00"/><stop offset="0.25" stop-color="#82ff00"/><stop offset="0.5" stop-color="#78ff00"/><stop offset="0.75" stop-color="#4bff00"/><stop offset="1" stop-color="#1eff00"/></linearGradient>
<linearGradient id="a151"><stop offset="0" stop-color="#28ff00"/><stop offset="0.25" stop-color="#28ff00"/><stop offset="0.5" stop-color="#28ff00"/><stop offset="0.75" stop-color="#19ff00"/><stop offset="1" stop-color="#0aff00"/></linearGradient>
<linearGradient id="a152"><stop offset="0" stop-color="#32ff00"/><stop offset="0.25" stop-color="#2dff00"/><stop offset="0.5" stop-color="#28ff00"/><stop offset="0.75" stop-color="#19ff00"/><stop offset="1" stop-color="#0aff00"/></linearGradient>
<linearGradient id="a153"><stop offset="0" stop-color="#faff00"/><stop offset="0.25" stop-color="#e1ff00"/><stop offset="0.5" stop-color="#c8ff00"/><stop offset="0.75" stop-color="#87ff00"/><stop offset="1" stop-color="#46ff00"/></linearGradient>
<linearGradient id="a154"><stop offset="0" stop-color="#f5ff00"/><stop offset="0.25" stop-color="#dfff00"/><stop offset="0.5" stop-color="#c8ff00"/><stop offset="0.75" stop-color="#87ff00"/><stop offset="1" stop-color="#46ff00"/></linearGradient>
<linearGradient id="a155"><stop offset="0" stop-color="#96ff00"/><stop offset="0.25" stop-color="#9bff00"/><stop offset="0.5" stop-color="#a0ff00"/><stop offset="0.75" stop-color="#69ff00"/><stop offset="1" stop-color="#32ff00"/></linearGradient>
<linearGradient id="a156"><stop offset="0" stop-color="#96ff00"/><stop offset="0.25" stop-color="#a0ff00"/><stop offset="0.5" stop-color="#aaff00"/><stop offset="0.75" stop-color="#6eff00"/><stop offset="1" stop-color="#32ff00"/></linearGradient>
<linearGradient id="a157"><stop offset="0" stop-color="#beff00"/><stop offset="0.25" stop-color="#d7ff00"/><stop offset="0.5" stop-color="#f0ff00"/><stop offset="0.75" stop-color="#96ff00"/><stop offset="1" stop-color="#3cff00"/></linearGradient>
<linearGradient id="a158"><stop offset="0" stop-color="#beff00"/><stop offset="0.25" stop-color="#d9ff00"/><stop offset="0.5" stop-color="#f5ff00"/><stop offset="0.75" stop-color="#99ff00"/><stop offset="1" stop-color="#3cff00"/></linearGradient>
<linearGradient id="a159"><stop offset="0" stop-color="#b4ff00"/><stop offset="0.25" stop-color="#cdff00"/><stop offset="0.5" stop-color="#e6ff00"/><stop offset="0.75" stop-color="#8cff00"/><stop offset="1" stop-color="#32ff00"/></linearGradient>
<linearGradient id="a160"><stop offset="0" stop-color="#a0ff00"/><stop offset="0.25" stop-color="#b9ff00"/><stop offset="0.5" stop-color="#d2ff00"/><stop offset="0.75" stop-color="#78ff00"/><stop offset="1" stop-color="#1eff00"/></linearGradient>
<linearGradient id="a161"><stop offset="0" stop-color="#aaff00"/><stop offset="0.25" stop-color="#beff00"/><stop offset="0.5" stop-color="#d2ff00"/><stop offset="0.75" stop-color="#78ff00"/><stop offset="1" stop-color="#1eff00"/></linearGradient>
<linearGradient id="a162"><stop offset="0" stop-color="#fff500"/><stop offset="0.25" stop-color="#fffb00"/><stop offset="0.5" stop-color="#faff00"/><stop offset="0.75" stop-color="#a5ff00"/><stop offset="1" stop-color="#50ff00"/></linearGradient>
<linearGradient id="a163"><stop offset="0" stop-color="#fff000"/><stop offset="0.25" stop-color="#fff500"/><stop offset="0.5" stop-color="#fffa00"/><stop offset="0.75" stop-color="#b4ff00"/><stop offset="1" stop-color="#5aff00"/></linearGradient>
<linearGradient id="a164"><stop offset="0" stop-color="#fff500"/><stop offset="0.25" stop-color="#fffc00"/><stop offset="0.5" stop-color="#f5ff00"/><stop offset="0.75" stop-color="#a2ff00"/><stop offset="1" stop-color="#50ff00"/></linearGradient>
<linearGradient id="a165"><stop offset="0" stop-color="#aaff00"/><stop offset="0.25" stop-color="#c1ff00"/><stop offset="0.5" stop-color="#d7ff00"/><stop offset="0.75" stop-color="#84ff00"/><stop offset="1" stop-color="#32ff00"/></linearGradient>
<linearGradient id="a166"><stop offset="0" stop-color="#aaff00"/><stop offset="0.25" stop-color="#c1ff00"/><stop offset="0.5" stop-color="#d7ff00"/><stop offset="0.75" stop-color="#84ff00"/><stop offset="1" stop-color="#32ff00"/></linearGradient>
<linearGradient id="a167"><stop offset="0" stop-color="#aaff00"/><stop offset="0.25" stop-color="#cdff00"/><stop offset="0.5" stop-color="#f0ff00"/><stop offset="0.75" stop-color="#96ff00"/><stop offset="1" stop-color="#3cff00"/></linearGradient>
<linearGradient id="a168"><stop offset="0" stop-color="#b4ff00"/><stop offset="0.25" stop-color="#d4ff00"/><stop offset="0.5" stop-color="#f5ff00"/><stop offset="0.75" stop-color="#9eff00"/><stop offset="1" stop-color="#46ff00"/></linearGradient>
<linearGradient id="a169"><stop offset="0" stop-color="#aaff00"/><stop offset="0.25" stop-color="#cbff00"/><stop offset="0.5" stop-color="#ebff00"/><stop offset="0.75" stop-color="#93ff00"/><stop offset="1" stop-color="#3cff00"/></linearGradient>
<linearGradient id="a170"><stop offset="0" stop-color="#3cff00"/><stop offset="0.25" stop-color="#5aff00"/><stop offset="0.5" stop-color="#78ff00"/><stop offset="0.75" stop-color="#19ff00"/><stop offset="1" stop-color="#00ff28"/></linearGradient>
<linearGradient id="a171"><stop offset="0" stop-color="#3cff00"/><stop offset="0.25" stop-color="#5aff00"/><stop offset="0.5" stop-color="#78ff00"/><stop offset="0.75" stop-color="#19ff00"/><stop offset="1" stop-color="#00ff28"/></linearGradient>
<linearGradient id="a172"><stop offset="0" stop-color="#28ff00"/><stop offset="0.25" stop-color="#41ff00"/><stop offset="0.5" stop-color="#5aff00"/><stop offset="0.75" stop-color="#00ff04"/><stop offset="1" stop-color="#00ff3c"/></linearGradient>
<linearGradient id="a173"><stop offset="0" stop-color="#00ff00"/><stop offset="0.25" stop-color="#0aff00"/><stop offset="0.5" stop-color="#14ff00"/><stop offset="0.75" stop-color="#00ff2c"/><stop offset="1" stop-color="#00ff64"/></linearGradient>
<linearGradient id="a174"><stop offset="0" stop-color="#00ff00"/><stop offset="0.25" stop-color="#00ff05"/><stop offset="0.5" stop-color="#00ff0a"/><stop offset="0.75" stop-color="#00ff41"/><stop offset="1" stop-color="#00ff78"/></linearGradient>
<linearGradient id="a175"><stop offset="0" stop-color="#00ff00"/><stop offset="0.25" stop-color="#00ff0a"/><stop offset="0.5" stop-color="#00ff14"/><stop offset="0.75" stop-color="#00ff4b"/><stop offset="1" stop-color="#00ff82"/></linearGradient>
<linearGradient id="a176"><stop offset="0" stop-color="#00ff0a"/><stop offset="0.25" stop-color="#00ff0f"/><stop offset="0.5" stop-color="#00ff14"/><stop offset="0.75" stop-color="#00ff3c"/><stop offset="1" stop-color="#00ff64"/></linearGradient>
<linearGradient id="a177"><stop offset="0" stop-color="#00ff14"/><stop offset="0.25" stop-color="#00ff19"/><stop offset="0.5" stop-color="#00ff1e"/><stop offset="0.75" stop-color="#00ff23"/><stop offset="1" stop-color="#00ff28"/></linearGradient>
<linearGradient id="a178"><stop offset="0" stop-color="#00ffa0"/><stop offset="0.25" stop-color="#00ffa4"/><stop offset="0.5" stop-color="#00ffa8"/><stop offset="0.75" stop-color="#00ffb0"/><stop offset="1" stop-color="#00ffb9"/></linearGradient>
<linearGradient id="a179"><stop offset="0" stop-color="#00ffa0"/><stop offset="0.25" stop-color="#00ffa4"/><stop offset="0.5" stop-color="#00ffa8"/><stop offset="0.75" stop-color="#00ffb0"/><stop offset="1" stop-color="#00ffb9"/></linearGradient>
<linearGradient id="a180"><stop offset="0" stop-color="#00ffa0"/><stop offset="0.25" stop-color="#00ffa4"/><stop offset="0.5" stop-color="#00ffa8"/><stop offset="0.75" stop-color="#00ffb0"/><stop offset="1" stop-color="#00ffb9"/></linearGradient>
<linearGradient id="a181"><stop offset="0" stop-color="#00ffa0"/><stop offset="0.25" stop-color="#00ffa4"/><stop offset="0.5" stop-color="#00ffa8"/><stop offset="0.75" stop-color="#00ffb0"/><stop offset="1" stop-color="#00ffb9"/></linearGradient>
<linearGradient id="a182"><stop offset="0" stop-color="#00ff96"/><stop offset="0.25" stop-color="#00ff96"/><stop offset="0.5" stop-color="#00ff96"/><stop offset="0.75" stop-color="#00ff9d"/><stop offset="1" stop-color="#00ffa5"/></linearGradient>
<linearGradient id="a183"><stop offset="0" stop-color="#00ff96"/><stop offset="0.25" stop-color="#00ff96"/><stop offset="0.5" stop-color="#00ff96"/><stop offset="0.75" stop-color="#00ff9d"/><stop offset="1" stop-color="#00ffa5"/></linearGradient>
<linearGradient id="a184"><stop offset="0" stop-color="#00ff96"/><stop offset="0.25" stop-color="#00ff96"/><stop offset="0.5" stop-color="#00ff96"/><stop offset="0.75" stop-color="#00ff9d"/><stop offset="1" stop-color="#00ffa5"/></linearGradient>
<linearGradient id="a185"><stop offset="0" stop-color="#00ff96"/><stop offset="0.25" stop-color="#00ff96"/><stop offset="0.5" stop-color="#00ff96"/><stop offset="0.75" stop-color="#00ff9d"/><stop offset="1" stop-color="#00ffa5"/></linearGradient>
<linearGradient id="a186"><stop offset="0" stop-color="#00ff96"/><stop offset="0.25" stop-color="#00ff96"/><stop offset="0.5" stop-color="#00ff96"/><stop offset="0.75" stop-color="#00ff9d"/><stop offset="1" stop-color="#00ffa5"/></linearGradient>
<linearGradient id="a187"><stop offset="0" stop-color="#00ff96"/><stop offset="0.25" stop-color="#00ff96"/><stop offset="0.5" stop-color="#00ff96"/><stop offset="0.75" stop-color="#00ff9d"/><stop offset="1" stop-color="#00ffa5"/></linearGradient>
<linearGradient id="a188"><stop offset="0" stop-color="#00ff82"/><stop offset="0.25" stop-color="#00ff84"/><stop offset="0.5" stop-color="#00ff87"/><stop offset="0.75" stop-color="#00ff94"/><stop offset="1" stop-color="#00ffa0"/></linearGradient>
<linearGradient id="a189"><stop offset="0" stop-color="#00ff8c"/><stop offset="0.25" stop-color="#00ff8e"/><stop offset="0.5" stop-color="#00ff91"/><stop offset="0.75" stop-color="#00ff9d"/><stop offset="1" stop-color="#00ffaa"/></linearGradient>
<linearGradient id="a190"><stop offset="0" stop-color="#00ff8c"/><stop offset="0.25" stop-color="#00ff8e"/><stop offset="0.5" stop-color="#00ff91"/><stop offset="0.75" stop-color="#00ff9d"/><stop offset="1" stop-color="#00ffaa"/></linearGradient>
<linearGradient id="a191"><stop offset="0" stop-color="#00ff87"/><stop offset="0.25" stop-color="#00ff8a"/><stop offset="0.5" stop-color="#00ff8c"/><stop offset="0.75" stop-color="#00ff99"/><stop offset="1" stop-color="#00ffa5"/></linearGradient>
<linearGradient id="a192"><stop offset="0" stop-color="#00ff87"/><stop offset="0.25" stop-color="#00ff8c"/><stop offset="0.5" stop-color="#00ff91"/><stop offset="0.75" stop-color="#00ffa5"/><stop offset="1" stop-color="#00ffb9"/></linearGradient>
<linearGradient id="a193"><stop offset="0" stop-color="#00ff8c"/><stop offset="0.25" stop-color="#00ff91"/><stop offset="0.5" stop-color="#00ff96"/><stop offset="0.75" stop-color="#00ffaa"/><stop offset="1" stop-color="#00ffbe"/></linearGradient>
<linearGradient id="a194"><stop offset="0" stop-color="#00ff87"/><stop offset="0.25" stop-color="#00ff8c"/><stop offset="0.5" stop-color="#00ff91"/><stop offset="0.75" stop-color="#00ffa2"/><stop offset="1" stop-color="#00ffb4"/></linearGradient>
<linearGradient id="a195"><stop offset="0" stop-color="#00ff5a"/><stop offset="0.25" stop-color="#00ff5c"/><stop offset="0.5" stop-color="#00ff5f"/><stop offset="0.75" stop-color="#00ff66"/><stop offset="1" stop-color="#00ff6e"/></linearGradient>
<linearGradient id="a196"><stop offset="0" stop-color="#00ff50"/><stop offset="0.25" stop-color="#00ff55"/><stop offset="0.5" stop-color="#00ff5a"/><stop offset="0.75" stop-color="#00ff5f"/><stop offset="1" stop-color="#00ff64"/></linearGradient>
<linearGradient id="a197"><stop offset="0" stop-color="#00ff32"/><stop offset="0.25" stop-color="#00ff30"/><stop offset="0.5" stop-color="#00ff2d"/><stop offset="0.75" stop-color="#00ff11"/><stop offset="1" stop-color="#14ff00"/></linearGradient>
<linearGradient id="a198"><stop offset="0" stop-color="#00ff2d"/><stop offset="0.25" stop-color="#00ff2a"/><stop offset="0.5" stop-color="#00ff28"/><stop offset="0.75" stop-color="#00ff0b"/><stop offset="1" stop-color="#1eff00"/></linearGradient>
<linearGradient id="a199"><stop offset="0" stop-color="#00ff32"/><stop offset="0.25" stop-color="#00ff30"/><stop offset="0.5" stop-color="#00ff2d"/><stop offset="0.75" stop-color="#00ff11"/><stop offset="1" stop-color="#14ff00"/></linearGradient>
<linearGradient id="a200"><stop offset="0" stop-color="#00ff2d"/><stop offset="0.25" stop-color="#00ff2a"/><stop offset="0.5" stop-color="#00ff28"/><stop offset="0.75" stop-color="#00ff0b"/><stop offset="1" stop-color="#1eff00"/></linearGradient>
<linearGradient id="a201"><stop offset="0" stop-color="#00ff32"/><stop offset="0.25" stop-color="#00ff30"/><stop offset="0.5" stop-color="#00ff2d"/><stop offset="0.75" stop-color="#00ff11"/><stop offset="1" stop-color="#14ff00"/></linearGradient>
<linearGradient id="a202"><stop offset="0" stop-color="#00ff2d"/><stop offset="0.25" stop-color="#00ff2a"/><stop offset="0.5" stop-color="#00ff28"/><stop offset="0.75" stop-color="#00ff0b"/><stop offset="1" stop-color="#1eff00"/></linearGradient>
<linearGradient id="a203"><stop offset="0" stop-color="#00ff32"/><stop offset="0.25" stop-color="#00ff30"/><stop offset="0.5" stop-color="#00ff2d"/><stop offset="0.75" stop-color="#00ff11"/><stop offset="1" stop-color="#14ff00"/></linearGradient>
<linearGradient id="a204"><stop offset="0" stop-color="#00ff2d"/><stop offset="0.25" stop-color="#00ff2a"/><stop offset="0.5" stop-color="#00ff28"/><stop offset="0.75" stop-color="#00ff0b"/><stop offset="1" stop-color="#1eff00"/></linearGradient>
<linearGradient id="a205"><stop offset="0" stop-color="#00ff32"/><stop offset="0.25" stop-color="#00ff30"/><stop offset="0.5" stop-color="#00ff2d"/><stop offset="0.75" stop-color="#00ff11"/><stop offset="1" stop-color="#14ff00"/></linearGradient>
<linearGradient id="a206"><stop offset="0" stop-color="#ffcd00"/><stop offset="0.25" stop-color="#ffd400"/><stop offset="0.5" stop-color="#ffdc00"/><stop offset="0.75" stop-color="#ffe400"/><stop offset="1" stop-color="#ffeb00"/></linearGradient>
<linearGradient id="a207"><stop offset="0" stop-color="#ffe600"/><stop offset="0.25" stop-color="#ffe800"/><stop offset="0.5" stop-color="#ffeb00"/><stop offset="0.75" stop-color="#fff000"/><stop offset="1" stop-color="#fff500"/></linearGradient>
<linearGradient id="a208"><stop offset="0" stop-color="#c8ff00"/><stop offset="0.25" stop-color="#beff00"/><stop offset="0.5" stop-color="#b4ff00"/><stop offset="0.75" stop-color="#96ff00"/><stop offset="1" stop-color="#78ff00"/></linearGradient>
<linearGradient id="a209"><stop offset="0" stop-color="#aaff00"/><stop offset="0.25" stop-color="#9bff00"/><stop offset="0.5" stop-color="#8cff00"/><stop offset="0.75" stop-color="#69ff00"/><stop offset="1" stop-color="#46ff00"/></linearGradient>
<linearGradient id="a210"><stop offset="0" stop-color="#8cff00"/><stop offset="0.25" stop-color="#78ff00"/><stop offset="0.5" stop-color="#64ff00"/><stop offset="0.75" stop-color="#46ff00"/><stop offset="1" stop-color="#28ff00"/></linearGradient>
<linearGradient id="a211"><stop offset="0" stop-color="#00ff1e"/><stop offset="0.25" stop-color="#00ff1e"/><stop offset="0.5" stop-color="#00ff1e"/><stop offset="0.75" stop-color="#18ff00"/><stop offset="1" stop-color="#64ff00"/></linearGradient>
<linearGradient id="a212"><stop offset="0" stop-color="#00ff1e"/><stop offset="0.25" stop-color="#00ff1e"/><stop offset="0.5" stop-color="#00ff1e"/><stop offset="0.75" stop-color="#00ff14"/><stop offset="1" stop-color="#00ff0a"/></linearGradient>
<linearGradient id="a213"><stop offset="0" stop-color="#64ff00"/><stop offset="0.25" stop-color="#55ff00"/><stop offset="0.5" stop-color="#46ff00"/><stop offset="0.75" stop-color="#37ff00"/><stop offset="1" stop-color="#28ff00"/></linearGradient>
<linearGradient id="a214"><stop offset="0" stop-color="#64ff00"/><stop offset="0.25" stop-color="#55ff00"/><stop offset="0.5" stop-color="#46ff00"/><stop offset="0.75" stop-color="#37ff00"/><stop offset="1" stop-color="#28ff00"/></linearGradient>
<linearGradient id="a215"><stop offset="0" stop-color="#50ff00"/><stop offset="0.25" stop-color="#5aff00"/><stop offset="0.5" stop-color="#64ff00"/><stop offset="0.75" stop-color="#73ff00"/><stop offset="1" stop-color="#82ff00"/></linearGradient>
<linearGradient id="a216"><stop offset="0" stop-color="#50ff00"/><stop offset="0.25" stop-color="#5aff00"/><stop offset="0.5" stop-color="#64ff00"/><stop offset="0.75" stop-color="#73ff00"/><stop offset="1" stop-color="#82ff00"/></linearGradient>
<linearGradient id="a217"><stop offset="0" stop-color="#1eff00"/><stop offset="0.25" stop-color="#2dff00"/><stop offset="0.5" stop-color="#3cff00"/><stop offset="0.75" stop-color="#46ff00"/><stop offset="1" stop-color="#50ff00"/></linearGradient>
<linearGradient id="a218"><stop offset="0" stop-color="#1eff00"/><stop offset="0.25" stop-color="#32ff00"/><stop offset="0.5" stop-color="#46ff00"/><stop offset="0.75" stop-color="#50ff00"/><stop offset="1" stop-color="#5aff00"/></linearGradient>
<linearGradient id="a219"><stop offset="0" stop-color="#1eff00"/><stop offset="0.25" stop-color="#28ff00"/><stop offset="0.5" stop-color="#32ff00"/><stop offset="0.75" stop-color="#4bff00"/><stop offset="1" stop-color="#64ff00"/></linearGradient>
<linearGradient id="a220"><stop offset="0" stop-color="#28ff00"/><stop offset="0.25" stop-color="#32ff00"/><stop offset="0.5" stop-color="#3cff00"/><stop offset="0.75" stop-color="#55ff00"/><stop offset="1" stop-color="#6eff00"/></linearGradient>
<linearGradient id="a221"><stop offset="0" stop-color="#1eff00"/><stop offset="0.25" stop-color="#28ff00"/><stop offset="0.5" stop-color="#32ff00"/><stop offset="0.75" stop-color="#46ff00"/><stop offset="1" stop-color="#5aff00"/></linearGradient>
<linearGradient id="a222"><stop offset="0" stop-color="#96ff00"/><stop offset="0.25" stop-color="#a5ff00"/><stop offset="0.5" stop-color="#b4ff00"/><stop offset="0.75" stop-color="#afff00"/><stop offset="1" stop-color="#aaff00"/></linearGradient>
<linearGradient id="a223"><stop offset="0" stop-color="#96ff00"/><stop offset="0.25" stop-color="#a8ff00"/><stop offset="0.5" stop-color="#b9ff00"/><stop offset="0.75" stop-color="#b2ff00"/><stop offset="1" stop-color="#aaff00"/></linearGradient>
<linearGradient id="a224"><stop offset="0" stop-color="#8cff00"/><stop offset="0.25" stop-color="#9bff00"/><stop offset="0.5" stop-color="#aaff00"/><stop offset="0.75" stop-color="#a5ff00"/><stop offset="1" stop-color="#a0ff00"/></linearGradient>
<linearGradient id="a225"><stop offset="0" stop-color="#3cff00"/><stop offset="0.25" stop-color="#73ff00"/><stop offset="0.5" stop-color="#aaff00"/><stop offset="0.75" stop-color="#b4ff00"/><stop offset="1" stop-color="#beff00"/></linearGradient>
<linearGradient id="a226"><stop offset="0" stop-color="#3cff00"/><stop offset="0.25" stop-color="#7dff00"/><stop offset="0.5" stop-color="#beff00"/><stop offset="0.75" stop-color="#c3ff00"/><stop offset="1" stop-color="#c8ff00"/></linearGradient>
<linearGradient id="a227"><stop offset="0" stop-color="#32ff00"/><stop offset="0.25" stop-color="#73ff00"/><stop offset="0.5" stop-color="#b4ff00"/><stop offset="0.75" stop-color="#b9ff00"/><stop offset="1" stop-color="#beff00"/></linearGradient>
<linearGradient id="a228"><stop offset="0" stop-color="#64ff00"/><stop offset="0.25" stop-color="#69ff00"/><stop offset="0.5" stop-color="#6eff00"/><stop offset="0.75" stop-color="#78ff00"/><stop offset="1" stop-color="#82ff00"/></linearGradient>
<linearGradient id="a229"><stop offset="0" stop-color="#5aff00"/><stop offset="0.25" stop-color="#5fff00"/><stop offset="0.5" stop-color="#64ff00"/><stop offset="0.75" stop-color="#69ff00"/><stop offset="1" stop-color="#6eff00"/></linearGradient>
<linearGradient id="a230"><stop offset="0" stop-color="#00ff00"/><stop offset="0.25" stop-color="#05ff00"/><stop offset="0.5" stop-color="#0aff00"/><stop offset="0.75" stop-color="#14ff00"/><stop offset="1" stop-color="#1eff00"/></linearGradient>
<linearGradient id="a231"><stop offset="0" stop-color="#00ff96"/><stop offset="0.25" stop-color="#00ff98"/><stop offset="0.5" stop-color="#00ff9b"/><stop offset="0.75" stop-color="#00ffa0"/><stop offset="1" stop-color="#00ffa5"/></linearGradient>
<linearGradient id="a232"><stop offset="0" stop-color="#00ff96"/><stop offset="0.25" stop-color="#00ff98"/><stop offset="0.5" stop-color="#00ff9b"/><stop offset="0.75" stop-color="#00ffa0"/><stop offset="1" stop-color="#00ffa5"/></linearGradient>
<linearGradient id="a233"><stop offset="0" stop-color="#00ff96"/><stop offset="0.25" stop-color="#00ff98"/><stop offset="0.5" stop-color="#00ff9b"/><stop offset="0.75" stop-color="#00ffa0"/><stop offset="1" stop-color="#00ffa5"/></linearGradient>
<linearGradient id="a234"><stop offset="0" stop-color="#00ff96"/><stop offset="0.25" stop-color="#00ff98"/><stop offset="0.5" stop-color="#00ff9b"/><stop offset="0.75" stop-color="#00ffa0"/><stop offset="1" stop-color="#00ffa5"/></linearGradient>
<linearGradient id="a235"><stop offset="0" stop-color="#00ff28"/><stop offset="0.25" stop-color="#00ff26"/><stop offset="0.5" stop-color="#00ff23"/><stop offset="0.75" stop-color="#00ff09"/><stop offset="1" stop-color="#1eff00"/></linearGradient>
<linearGradient id="a236"><stop offset="0" stop-color="#00ff28"/><stop offset="0.25" stop-color="#00ff23"/><stop offset="0.5" stop-color="#00ff1e"/><stop offset="0.75" stop-color="#00ff01"/><stop offset="1" stop-color="#32ff00"/></linearGradient>
<linearGradient id="a237"><stop offset="0" stop-color="#00ff28"/><stop offset="0.25" stop-color="#00ff23"/><stop offset="0.5" stop-color="#00ff1e"/><stop offset="0.75" stop-color="#00ff04"/><stop offset="1" stop-color="#28ff00"/></linearGradient>
<linearGradient id="a238"><stop offset="0" stop-color="#00ff1e"/><stop offset="0.25" stop-color="#00ff14"/><stop offset="0.5" stop-color="#00ff0a"/><stop offset="0.75" stop-color="#10ff00"/><stop offset="1" stop-color="#32ff00"/></linearGradient>
<linearGradient id="a239"><stop offset="0" stop-color="#3cff00"/><stop offset="0.25" stop-color="#46ff00"/><stop offset="0.5" stop-color="#50ff00"/><stop offset="0.75" stop-color="#6eff00"/><stop offset="1" stop-color="#8cff00"/></linearGradient>
<linearGradient id="a240"><stop offset="0" stop-color="#faff00"/><stop offset="0.25" stop-color="#fff800"/><stop offset="0.5" stop-color="#fff000"/><stop offset="0.75" stop-color="#ffe100"/><stop offset="1" stop-color="#ffd200"/></linearGradient>
<linearGradient id="a241"><stop offset="0" stop-color="#fff500"/><stop offset="0.25" stop-color="#ffee00"/><stop offset="0.5" stop-color="#ffe600"/><stop offset="0.75" stop-color="#ffd400"/><stop offset="1" stop-color="#ffc300"/></linearGradient>
<linearGradient id="a242"><stop offset="0" stop-color="#3cff00"/><stop offset="0.25" stop-color="#69ff00"/><stop offset="0.5" stop-color="#96ff00"/><stop offset="0.75" stop-color="#f0ff00"/><stop offset="1" stop-color="#ffe600"/></linearGradient>
<linearGradient id="a243"><stop offset="0" stop-color="#1eff00"/><stop offset="0.25" stop-color="#2dff00"/><stop offset="0.5" stop-color="#3cff00"/><stop offset="0.75" stop-color="#8cff00"/><stop offset="1" stop-color="#dcff00"/></linearGradient>
<linearGradient id="a244"><stop offset="0" stop-color="#14ff00"/><stop offset="0.25" stop-color="#19ff00"/><stop offset="0.5" stop-color="#1eff00"/><stop offset="0.75" stop-color="#4bff00"/><stop offset="1" stop-color="#78ff00"/></linearGradient>
<linearGradient id="b245"><stop offset="0" stop-color="#50ff00"/><stop offset="0.25" stop-color="#46ff00"/><stop offset="0.5" stop-color="#3cff00"/><stop offset="0.75" stop-color="#32ff00"/><stop offset="1" stop-color="#28ff00"/></linearGradient>
<linearGradient id="b246"><stop offset="0" stop-color="#fffa00"/><stop offset="0.25" stop-color="#dcff00"/><stop offset="0.5" stop-color="#aaff00"/><stop offset="0.75" stop-color="#91ff00"/><stop offset="1" stop-color="#78ff00"/></linearGradient>
<linearGradient id="b247"><stop offset="0" stop-color="#e6ff00"/><stop offset="0.25" stop-color="#c3ff00"/><stop offset="0.5" stop-color="#a0ff00"/><stop offset="0.75" stop-color="#91ff00"/><stop offset="1" stop-color="#82ff00"/></linearGradient>
<linearGradient id="b248"><stop offset="0" stop-color="#00ff1e"/><stop offset="0.25" stop-color="#00ff19"/><stop offset="0.5" stop-color="#00ff14"/><stop offset="0.75" stop-color="#0dff00"/><stop offset="1" stop-color="#3cff00"/></linearGradient>
<linearGradient id="b249"><stop offset="0" stop-color="#00ff1e"/><stop offset="0.25" stop-color="#00ff19"/><stop offset="0.5" stop-color="#00ff14"/><stop offset="0.75" stop-color="#08ff00"/><stop offset="1" stop-color="#32ff00"/></linearGradient>
<linearGradient id="b250"><stop offset="0" stop-color="#ffc800"/><stop offset="0.25" stop-color="#ffed00"/><stop offset="0.5" stop-color="#c8ff00"/><stop offset="0.75" stop-color="#6eff00"/><stop offset="1" stop-color="#14ff00"/></linearGradient>
<linearGradient id="b251"><stop offset="0" stop-color="#ffd200"/><stop offset="0.25" stop-color="#fffa00"/><stop offset="0.5" stop-color="#96ff00"/><stop offset="0.75" stop-color="#4bff00"/><stop offset="1" stop-color="#00ff00"/></linearGradient>
<linearGradient id="b252"><stop offset="0" stop-color="#c8ff00"/><stop offset="0.25" stop-color="#82ff00"/><stop offset="0.5" stop-color="#3cff00"/><stop offset="0.75" stop-color="#1eff00"/><stop offset="1" stop-color="#00ff00"/></linearGradient>
<linearGradient id="b253"><stop offset="0" stop-color="#96ff00"/><stop offset="0.25" stop-color="#5fff00"/><stop offset="0.5" stop-color="#28ff00"/><stop offset="0.75" stop-color="#14ff00"/><stop offset="1" stop-color="#00ff00"/></linearGradient>
<linearGradient id="b254"><stop offset="0" stop-color="#aaff00"/><stop offset="0.25" stop-color="#9bff00"/><stop offset="0.5" stop-color="#8cff00"/><stop offset="0.75" stop-color="#78ff00"/><stop offset="1" stop-color="#64ff00"/></linearGradient>
<linearGradient id="b255"><stop offset="0" stop-color="#f0ff00"/><stop offset="0.25" stop-color="#e1ff00"/><stop offset="0.5" stop-color="#d2ff00"/><stop offset="0.75" stop-color="#c8ff00"/><stop offset="1" stop-color="#beff00"/></linearGradient>
<linearGradient id="b256"><stop offset="0" stop-color="#c8ff00"/><stop offset="0.25" stop-color="#dcff00"/><stop offset="0.5" stop-color="#f0ff00"/><stop offset="0.75" stop-color="#ebff00"/><stop offset="1" stop-color="#e6ff00"/></linearGradient>
<linearGradient id="b257"><stop offset="0" stop-color="#78ff00"/><stop offset="0.25" stop-color="#daff00"/><stop offset="0.5" stop-color="#ffeb00"/><stop offset="0.75" stop-color="#ffe600"/><stop offset="1" stop-color="#ffe100"/></linearGradient>
<linearGradient id="b258"><stop offset="0" stop-color="#ff9b00"/><stop offset="0.25" stop-color="#ff9800"/><stop offset="0.5" stop-color="#ff9600"/><stop offset="0.75" stop-color="#ff9100"/><stop offset="1" stop-color="#ff8c00"/></linearGradient>
<linearGradient id="b259"><stop offset="0" stop-color="#ff8c00"/><stop offset="0.25" stop-color="#ff8900"/><stop offset="0.5" stop-color="#ff8700"/><stop offset="0.75" stop-color="#ff8400"/><stop offset="1" stop-color="#ff8200"/></linearGradient>
<linearGradient id="b260"><stop offset="0" stop-color="#a0ff00"/><stop offset="0.25" stop-color="#87ff00"/><stop offset="0.5" stop-color="#6eff00"/><stop offset="0.75" stop-color="#55ff00"/><stop offset="1" stop-color="#3cff00"/></linearGradient>
<linearGradient id="b261"><stop offset="0" stop-color="#ffeb00"/><stop offset="0.25" stop-color="#fff900"/><stop offset="0.5" stop-color="#e6ff00"/><stop offset="0.75" stop-color="#c8ff00"/><stop offset="1" stop-color="#aaff00"/></linearGradient>
<linearGradient id="b262"><stop offset="0" stop-color="#fff000"/><stop offset="0.25" stop-color="#fffd00"/><stop offset="0.5" stop-color="#dcff00"/><stop offset="0.75" stop-color="#beff00"/><stop offset="1" stop-color="#a0ff00"/></linearGradient>
<linearGradient id="b263"><stop offset="0" stop-color="#64ff00"/><stop offset="0.25" stop-color="#5fff00"/><stop offset="0.5" stop-color="#5aff00"/><stop offset="0.75" stop-color="#55ff00"/><stop offset="1" stop-color="#50ff00"/></linearGradient>
<linearGradient id="b264"><stop offset="0" stop-color="#beff00"/><stop offset="0.25" stop-color="#afff00"/><stop offset="0.5" stop-color="#a0ff00"/><stop offset="0.75" stop-color="#8cff00"/><stop offset="1" stop-color="#78ff00"/></linearGradient>
<linearGradient id="b265"><stop offset="0" stop-color="#c8ff00"/><stop offset="0.25" stop-color="#b9ff00"/><stop offset="0.5" stop-color="#aaff00"/><stop offset="0.75" stop-color="#96ff00"/><stop offset="1" stop-color="#82ff00"/></linearGradient>
<linearGradient id="b266"><stop offset="0" stop-color="#fff000"/><stop offset="0.25" stop-color="#fffc00"/><stop offset="0.5" stop-color="#e6ff00"/><stop offset="0.75" stop-color="#c8ff00"/><stop offset="1" stop-color="#aaff00"/></linearGradient>
<linearGradient id="b267"><stop offset="0" stop-color="#fff000"/><stop offset="0.25" stop-color="#fffd00"/><stop offset="0.5" stop-color="#dcff00"/><stop offset="0.75" stop-color="#c3ff00"/><stop offset="1" stop-color="#aaff00"/></linearGradient>
<linearGradient id="b268"><stop offset="0" stop-color="#8cff00"/><stop offset="0.25" stop-color="#78ff00"/><stop offset="0.5" stop-color="#64ff00"/><stop offset="0.75" stop-color="#64ff00"/><stop offset="1" stop-color="#64ff00"/></linearGradient>
<linearGradient id="b269"><stop offset="0" stop-color="#78ff00"/><stop offset="0.25" stop-color="#69ff00"/><stop offset="0.5" stop-color="#5aff00"/><stop offset="0.75" stop-color="#64ff00"/><stop offset="1" stop-color="#6eff00"/></linearGradient>
<linearGradient id="b270"><stop offset="0" stop-color="#f0ff00"/><stop offset="0.25" stop-color="#eeff00"/><stop offset="0.5" stop-color="#ebff00"/><stop offset="0.75" stop-color="#e4ff00"/><stop offset="1" stop-color="#dcff00"/></linearGradient>
<linearGradient id="b271"><stop offset="0" stop-color="#f0ff00"/><stop offset="0.25" stop-color="#eeff00"/><stop offset="0.5" stop-color="#ebff00"/><stop offset="0.75" stop-color="#e4ff00"/><stop offset="1" stop-color="#dcff00"/></linearGradient>
<linearGradient id="b272"><stop offset="0" stop-color="#b4ff00"/><stop offset="0.25" stop-color="#aaff00"/><stop offset="0.5" stop-color="#a0ff00"/><stop offset="0.75" stop-color="#a5ff00"/><stop offset="1" stop-color="#aaff00"/></linearGradient>
<linearGradient id="b273"><stop offset="0" stop-color="#beff00"/><stop offset="0.25" stop-color="#aaff00"/><stop offset="0.5" stop-color="#96ff00"/><stop offset="0.75" stop-color="#a0ff00"/><stop offset="1" stop-color="#aaff00"/></linearGradient>
<linearGradient id="b274"><stop offset="0" stop-color="#fff000"/><stop offset="0.25" stop-color="#e1ff00"/><stop offset="0.5" stop-color="#96ff00"/><stop offset="0.75" stop-color="#afff00"/><stop offset="1" stop-color="#c8ff00"/></linearGradient>
<linearGradient id="b275"><stop offset="0" stop-color="#fff000"/><stop offset="0.25" stop-color="#e1ff00"/><stop offset="0.5" stop-color="#96ff00"/><stop offset="0.75" stop-color="#afff00"/><stop offset="1" stop-color="#c8ff00"/></linearGradient>
<linearGradient id="b276"><stop offset="0" stop-color="#fff000"/><stop offset="0.25" stop-color="#d7ff00"/><stop offset="0.5" stop-color="#82ff00"/><stop offset="0.75" stop-color="#a0ff00"/><stop offset="1" stop-color="#beff00"/></linearGradient>
<linearGradient id="b277"><stop offset="0" stop-color="#ffeb00"/><stop offset="0.25" stop-color="#daff00"/><stop offset="0.5" stop-color="#78ff00"/><stop offset="0.75" stop-color="#96ff00"/><stop offset="1" stop-color="#b4ff00"/></linearGradient>
<linearGradient id="b278"><stop offset="0" stop-color="#fff000"/><stop offset="0.25" stop-color="#d2ff00"/><stop offset="0.5" stop-color="#78ff00"/><stop offset="0.75" stop-color="#9bff00"/><stop offset="1" stop-color="#beff00"/></linearGradient>
<linearGradient id="b279"><stop offset="0" stop-color="#ffeb00"/><stop offset="0.25" stop-color="#daff00"/><stop offset="0.5" stop-color="#78ff00"/><stop offset="0.75" stop-color="#a0ff00"/><stop offset="1" stop-color="#c8ff00"/></linearGradient>
<linearGradient id="b280"><stop offset="0" stop-color="#ffdc00"/><stop offset="0.25" stop-color="#ecff00"/><stop offset="0.5" stop-color="#6eff00"/><stop offset="0.75" stop-color="#aaff00"/><stop offset="1" stop-color="#e6ff00"/></linearGradient>
<linearGradient id="b281"><stop offset="0" stop-color="#ffdc00"/><stop offset="0.25" stop-color="#ecff00"/><stop offset="0.5" stop-color="#6eff00"/><stop offset="0.75" stop-color="#afff00"/><stop offset="1" stop-color="#f0ff00"/></linearGradient>
<linearGradient id="b282"><stop offset="0" stop-color="#ffe100"/><stop offset="0.25" stop-color="#e9ff00"/><stop offset="0.5" stop-color="#78ff00"/><stop offset="0.75" stop-color="#cbff00"/><stop offset="1" stop-color="#fff500"/></linearGradient>
<linearGradient id="b283"><stop offset="0" stop-color="#ebff00"/><stop offset="0.25" stop-color="#cbff00"/><stop offset="0.5" stop-color="#aaff00"/><stop offset="0.75" stop-color="#f3ff00"/><stop offset="1" stop-color="#ffeb00"/></linearGradient>
<linearGradient id="b284"><stop offset="0" stop-color="#d2ff00"/><stop offset="0.25" stop-color="#cdff00"/><stop offset="0.5" stop-color="#c8ff00"/><stop offset="0.75" stop-color="#fffc00"/><stop offset="1" stop-color="#ffe600"/></linearGradient>
<linearGradient id="b285"><stop offset="0" stop-color="#beff00"/><stop offset="0.25" stop-color="#cdff00"/><stop offset="0.5" stop-color="#dcff00"/><stop offset="0.75" stop-color="#fff600"/><stop offset="1" stop-color="#ffe100"/></linearGradient>
<linearGradient id="b286"><stop offset="0" stop-color="#82ff00"/><stop offset="0.25" stop-color="#bbff00"/><stop offset="0.5" stop-color="#f5ff00"/><stop offset="0.75" stop-color="#ffe800"/><stop offset="1" stop-color="#ffcd00"/></linearGradient>
<linearGradient id="b287"><stop offset="0" stop-color="#64ff00"/><stop offset="0.25" stop-color="#b9ff00"/><stop offset="0.5" stop-color="#fffa00"/><stop offset="0.75" stop-color="#ffdc00"/><stop offset="1" stop-color="#ffbe00"/></linearGradient>
<linearGradient id="b288"><stop offset="0" stop-color="#5aff00"/><stop offset="0.25" stop-color="#a8ff00"/><stop offset="0.5" stop-color="#f5ff00"/><stop offset="0.75" stop-color="#ffe300"/><stop offset="1" stop-color="#ffc300"/></linearGradient>
<linearGradient id="b289"><stop offset="0" stop-color="#14ff00"/><stop offset="0.25" stop-color="#78ff00"/><stop offset="0.5" stop-color="#dcff00"/><stop offset="0.75" stop-color="#fff600"/><stop offset="1" stop-color="#ffe100"/></linearGradient>
<linearGradient id="b290"><stop offset="0" stop-color="#00ff14"/><stop offset="0.25" stop-color="#49ff00"/><stop offset="0.5" stop-color="#b4ff00"/><stop offset="0.75" stop-color="#f0ff00"/><stop offset="1" stop-color="#fff000"/></linearGradient>
<linearGradient id="b291"><stop offset="0" stop-color="#00ff1e"/><stop offset="0.25" stop-color="#27ff00"/><stop offset="0.5" stop-color="#82ff00"/><stop offset="0.75" stop-color="#b9ff00"/><stop offset="1" stop-color="#f0ff00"/></linearGradient>
<linearGradient id="b292"><stop offset="0" stop-color="#00ff28"/><stop offset="0.25" stop-color="#00ff09"/><stop offset="0.5" stop-color="#28ff00"/><stop offset="0.75" stop-color="#46ff00"/><stop offset="1" stop-color="#64ff00"/></linearGradient>
<linearGradient id="b293"><stop offset="0" stop-color="#00ff28"/><stop offset="0.25" stop-color="#00ff1e"/><stop offset="0.5" stop-color="#00ff14"/><stop offset="0.75" stop-color="#0dff00"/><stop offset="1" stop-color="#3cff00"/></linearGradient>
<linearGradient id="b294"><stop offset="0" stop-color="#3cff00"/><stop offset="0.25" stop-color="#32ff00"/><stop offset="0.5" stop-color="#28ff00"/><stop offset="0.75" stop-color="#1eff00"/><stop offset="1" stop-color="#14ff00"/></linearGradient>
<linearGradient id="b295"><stop offset="0" stop-color="#32ff00"/><stop offset="0.25" stop-color="#28ff00"/><stop offset="0.5" stop-color="#1eff00"/><stop offset="0.75" stop-color="#19ff00"/><stop offset="1" stop-color="#14ff00"/></linearGradient>
<linearGradient id="b296"><stop offset="0" stop-color="#3cff00"/><stop offset="0.25" stop-color="#32ff00"/><stop offset="0.5" stop-color="#28ff00"/><stop offset="0.75" stop-color="#1eff00"/><stop offset="1" stop-color="#14ff00"/></linearGradient>
<linearGradient id="b297"><stop offset="0" stop-color="#3cff00"/><stop offset="0.25" stop-color="#32ff00"/><stop offset="0.5" stop-color="#28ff00"/><stop offset="0.75" stop-color="#19ff00"/><stop offset="1" stop-color="#0aff00"/></linearGradient>
<linearGradient id="b298"><stop offset="0" stop-color="#6eff00"/><stop offset="0.25" stop-color="#55ff00"/><stop offset="0.5" stop-color="#3cff00"/><stop offset="0.75" stop-color="#28ff00"/><stop offset="1" stop-color="#14ff00"/></linearGradient>
<linearGradient id="b299"><stop offset="0" stop-color="#5aff00"/><stop offset="0.25" stop-color="#41ff00"/><stop offset="0.5" stop-color="#28ff00"/><stop offset="0.75" stop-color="#19ff00"/><stop offset="1" stop-color="#0aff00"/></linearGradient>
<linearGradient id="b300"><stop offset="0" stop-color="#96ff00"/><stop offset="0.25" stop-color="#78ff00"/><stop offset="0.5" stop-color="#5aff00"/><stop offset="0.75" stop-color="#3cff00"/><stop offset="1" stop-color="#1eff00"/></linearGradient>
<linearGradient id="b301"><stop offset="0" stop-color="#82ff00"/><stop offset="0.25" stop-color="#69ff00"/><stop offset="0.5" stop-color="#50ff00"/><stop offset="0.75" stop-color="#37ff00"/><stop offset="1" stop-color="#1eff00"/></linearGradient>
<linearGradient id="b302"><stop offset="0" stop-color="#c8ff00"/><stop offset="0.25" stop-color="#aaff00"/><stop offset="0.5" stop-color="#8cff00"/><stop offset="0.75" stop-color="#64ff00"/><stop offset="1" stop-color="#3cff00"/></linearGradient>
<linearGradient id="b303"><stop offset="0" stop-color="#28ff00"/><stop offset="0.25" stop-color="#1eff00"/><stop offset="0.5" stop-color="#14ff00"/><stop offset="0.75" stop-color="#00ff04"/><stop offset="1" stop-color="#00ff14"/></linearGradient>
<linearGradient id="b304"><stop offset="0" stop-color="#00ff00"/><stop offset="0.25" stop-color="#00ff00"/><stop offset="0.5" stop-color="#00ff00"/><stop offset="0.75" stop-color="#00ff14"/><stop offset="1" stop-color="#00ff28"/></linearGradient>
<linearGradient id="b305"><stop offset="0" stop-color="#00ff00"/><stop offset="0.25" stop-color="#00ff00"/><stop offset="0.5" stop-color="#00ff00"/><stop offset="0.75" stop-color="#00ff1e"/><stop offset="1" stop-color="#00ff3c"/></linearGradient>
<linearGradient id="b306"><stop offset="0" stop-color="#00ff00"/><stop offset="0.25" stop-color="#00ff05"/><stop offset="0.5" stop-color="#00ff0a"/><stop offset="0.75" stop-color="#00ff28"/><stop offset="1" stop-color="#00ff46"/></linearGradient>
<linearGradient id="b307"><stop offset="0" stop-color="#00ff00"/><stop offset="0.25" stop-color="#00ff05"/><stop offset="0.5" stop-color="#00ff0a"/><stop offset="0.75" stop-color="#00ff23"/><stop offset="1" stop-color="#00ff3c"/></linearGradient>
<linearGradient id="b308"><stop offset="0" stop-color="#14ff00"/><stop offset="0.25" stop-color="#0fff00"/><stop offset="0.5" stop-color="#0aff00"/><stop offset="0.75" stop-color="#00ff07"/><stop offset="1" stop-color="#00ff14"/></linearGradient>
<linearGradient id="b309"><stop offset="0" stop-color="#78ff00"/><stop offset="0.25" stop-color="#6eff00"/><stop offset="0.5" stop-color="#64ff00"/><stop offset="0.75" stop-color="#5aff00"/><stop offset="1" stop-color="#50ff00"/></linearGradient>
<linearGradient id="b310"><stop offset="0" stop-color="#fff000"/><stop offset="0.25" stop-color="#ffee00"/><stop offset="0.5" stop-color="#ffeb00"/><stop offset="0.75" stop-color="#ffe700"/><stop offset="1" stop-color="#ffe400"/></linearGradient>
<linearGradient id="b311"><stop offset="0" stop-color="#fff500"/><stop offset="0.25" stop-color="#fff300"/><stop offset="0.5" stop-color="#fff000"/><stop offset="0.75" stop-color="#ffeb00"/><stop offset="1" stop-color="#ffe600"/></linearGradient>
<linearGradient id="b312"><stop offset="0" stop-color="#e1ff00"/><stop offset="0.25" stop-color="#d9ff00"/><stop offset="0.5" stop-color="#d2ff00"/><stop offset="0.75" stop-color="#d4ff00"/><stop offset="1" stop-color="#d7ff00"/></linearGradient>
<linearGradient id="b313"><stop offset="0" stop-color="#dcff00"/><stop offset="0.25" stop-color="#cdff00"/><stop offset="0.5" stop-color="#beff00"/><stop offset="0.75" stop-color="#b9ff00"/><stop offset="1" stop-color="#b4ff00"/></linearGradient>
<linearGradient id="b314"><stop offset="0" stop-color="#c8ff00"/><stop offset="0.25" stop-color="#d7ff00"/><stop offset="0.5" stop-color="#e6ff00"/><stop offset="0.75" stop-color="#c8ff00"/><stop offset="1" stop-color="#aaff00"/></linearGradient>
<linearGradient id="b315"><stop offset="0" stop-color="#00ff0a"/><stop offset="0.25" stop-color="#00ff23"/><stop offset="0.5" stop-color="#00ff3c"/><stop offset="0.75" stop-color="#00ff18"/><stop offset="1" stop-color="#14ff00"/></linearGradient>
<linearGradient id="b316"><stop offset="0" stop-color="#14ff00"/><stop offset="0.25" stop-color="#00ff13"/><stop offset="0.5" stop-color="#00ff32"/><stop offset="0.75" stop-color="#00ff10"/><stop offset="1" stop-color="#1eff00"/></linearGradient>
<linearGradient id="b317"><stop offset="0" stop-color="#82ff00"/><stop offset="0.25" stop-color="#46ff00"/><stop offset="0.5" stop-color="#0aff00"/><stop offset="0.75" stop-color="#46ff00"/><stop offset="1" stop-color="#82ff00"/></linearGradient>
<linearGradient id="b318"><stop offset="0" stop-color="#82ff00"/><stop offset="0.25" stop-color="#4bff00"/><stop offset="0.5" stop-color="#14ff00"/><stop offset="0.75" stop-color="#55ff00"/><stop offset="1" stop-color="#96ff00"/></linearGradient>
<linearGradient id="b319"><stop offset="0" stop-color="#64ff00"/><stop offset="0.25" stop-color="#41ff00"/><stop offset="0.5" stop-color="#1eff00"/><stop offset="0.75" stop-color="#87ff00"/><stop offset="1" stop-color="#f0ff00"/></linearGradient>
<linearGradient id="b320"><stop offset="0" stop-color="#c8ff00"/><stop offset="0.25" stop-color="#82ff00"/><stop offset="0.5" stop-color="#3cff00"/><stop offset="0.75" stop-color="#9bff00"/><stop offset="1" stop-color="#faff00"/></linearGradient>
<linearGradient id="b321"><stop offset="0" stop-color="#c8ff00"/><stop offset="0.25" stop-color="#82ff00"/><stop offset="0.5" stop-color="#3cff00"/><stop offset="0.75" stop-color="#9bff00"/><stop offset="1" stop-color="#faff00"/></linearGradient>
<linearGradient id="b322"><stop offset="0" stop-color="#8cff00"/><stop offset="0.25" stop-color="#5aff00"/><stop offset="0.5" stop-color="#28ff00"/><stop offset="0.75" stop-color="#5fff00"/><stop offset="1" stop-color="#96ff00"/></linearGradient>
<linearGradient id="b323"><stop offset="0" stop-color="#8cff00"/><stop offset="0.25" stop-color="#5fff00"/><stop offset="0.5" stop-color="#32ff00"/><stop offset="0.75" stop-color="#5fff00"/><stop offset="1" stop-color="#8cff00"/></linearGradient>
<linearGradient id="b324"><stop offset="0" stop-color="#faff00"/><stop offset="0.25" stop-color="#e1ff00"/><stop offset="0.5" stop-color="#c8ff00"/><stop offset="0.75" stop-color="#c8ff00"/><stop offset="1" stop-color="#c8ff00"/></linearGradient>
<linearGradient id="b325"><stop offset="0" stop-color="#faff00"/><stop offset="0.25" stop-color="#e1ff00"/><stop offset="0.5" stop-color="#c8ff00"/><stop offset="0.75" stop-color="#c3ff00"/><stop offset="1" stop-color="#beff00"/></linearGradient>
<linearGradient id="b326"><stop offset="0" stop-color="#beff00"/><stop offset="0.25" stop-color="#aaff00"/><stop offset="0.5" stop-color="#96ff00"/><stop offset="0.75" stop-color="#c3ff00"/><stop offset="1" stop-color="#f0ff00"/></linearGradient>
<linearGradient id="b327"><stop offset="0" stop-color="#beff00"/><stop offset="0.25" stop-color="#aaff00"/><stop offset="0.5" stop-color="#96ff00"/><stop offset="0.75" stop-color="#c3ff00"/><stop offset="1" stop-color="#f0ff00"/></linearGradient>
<linearGradient id="b328"><stop offset="0" stop-color="#beff00"/><stop offset="0.25" stop-color="#aaff00"/><stop offset="0.5" stop-color="#96ff00"/><stop offset="0.75" stop-color="#c3ff00"/><stop offset="1" stop-color="#f0ff00"/></linearGradient>
<linearGradient id="b329"><stop offset="0" stop-color="#c8ff00"/><stop offset="0.25" stop-color="#aaff00"/><stop offset="0.5" stop-color="#8cff00"/><stop offset="0.75" stop-color="#beff00"/><stop offset="1" stop-color="#f0ff00"/></linearGradient>
<linearGradient id="b330"><stop offset="0" stop-color="#f0ff00"/><stop offset="0.25" stop-color="#aaff00"/><stop offset="0.5" stop-color="#64ff00"/><stop offset="0.75" stop-color="#96ff00"/><stop offset="1" stop-color="#c8ff00"/></linearGradient>
<linearGradient id="b331"><stop offset="0" stop-color="#f0ff00"/><stop offset="0.25" stop-color="#aaff00"/><stop offset="0.5" stop-color="#64ff00"/><stop offset="0.75" stop-color="#91ff00"/><stop offset="1" stop-color="#beff00"/></linearGradient>
<linearGradient id="b332"><stop offset="0" stop-color="#f5ff00"/><stop offset="0.25" stop-color="#b6ff00"/><stop offset="0.5" stop-color="#78ff00"/><stop offset="0.75" stop-color="#a5ff00"/><stop offset="1" stop-color="#d2ff00"/></linearGradient>
<linearGradient id="b333"><stop offset="0" stop-color="#fff000"/><stop offset="0.25" stop-color="#faff00"/><stop offset="0.5" stop-color="#c8ff00"/><stop offset="0.75" stop-color="#fff700"/><stop offset="1" stop-color="#ffdc00"/></linearGradient>
<linearGradient id="b334"><stop offset="0" stop-color="#fff000"/><stop offset="0.25" stop-color="#faff00"/><stop offset="0.5" stop-color="#c8ff00"/><stop offset="0.75" stop-color="#fff400"/><stop offset="1" stop-color="#ffd700"/></linearGradient>
<linearGradient id="b335"><stop offset="0" stop-color="#ffeb00"/><stop offset="0.25" stop-color="#fffc00"/><stop offset="0.5" stop-color="#d2ff00"/><stop offset="0.75" stop-color="#fff200"/><stop offset="1" stop-color="#ffd700"/></linearGradient>
<linearGradient id="b336"><stop offset="0" stop-color="#ffe600"/><stop offset="0.25" stop-color="#fff700"/><stop offset="0.5" stop-color="#e6ff00"/><stop offset="0.75" stop-color="#fff200"/><stop offset="1" stop-color="#ffdc00"/></linearGradient>
<linearGradient id="b337"><stop offset="0" stop-color="#ffd700"/><stop offset="0.25" stop-color="#ffe600"/><stop offset="0.5" stop-color="#fff500"/><stop offset="0.75" stop-color="#fff300"/><stop offset="1" stop-color="#fff000"/></linearGradient>
<linearGradient id="b338"><stop offset="0" stop-color="#ffd700"/><stop offset="0.25" stop-color="#ffe600"/><stop offset="0.5" stop-color="#fff500"/><stop offset="0.75" stop-color="#fff300"/><stop offset="1" stop-color="#fff000"/></linearGradient>
<linearGradient id="b339"><stop offset="0" stop-color="#ffd700"/><stop offset="0.25" stop-color="#ffe600"/><stop offset="0.5" stop-color="#fff500"/><stop offset="0.75" stop-color="#fff300"/><stop offset="1" stop-color="#fff000"/></linearGradient>
<linearGradient id="b340"><stop offset="0" stop-color="#ffe100"/><stop offset="0.25" stop-color="#ffee00"/><stop offset="0.5" stop-color="#fffa00"/><stop offset="0.75" stop-color="#fffe00"/><stop offset="1" stop-color="#f5ff00"/></linearGradient>
<linearGradient id="b341"><stop offset="0" stop-color="#c8ff00"/><stop offset="0.25" stop-color="#d2ff00"/><stop offset="0.5" stop-color="#dcff00"/><stop offset="0.75" stop-color="#b9ff00"/><stop offset="1" stop-color="#96ff00"/></linearGradient>
<linearGradient id="b342"><stop offset="0" stop-color="#beff00"/><stop offset="0.25" stop-color="#b9ff00"/><stop offset="0.5" stop-color="#b4ff00"/><stop offset="0.75" stop-color="#a0ff00"/><stop offset="1" stop-color="#8cff00"/></linearGradient>
<linearGradient id="b343"><stop offset="0" stop-color="#14ff00"/><stop offset="0.25" stop-color="#28ff00"/><stop offset="0.5" stop-color="#3cff00"/><stop offset="0.75" stop-color="#37ff00"/><stop offset="1" stop-color="#32ff00"/></linearGradient>
<linearGradient id="b344"><stop offset="0" stop-color="#00ff00"/><stop offset="0.25" stop-color="#14ff00"/><stop offset="0.5" stop-color="#28ff00"/><stop offset="0.75" stop-color="#28ff00"/><stop offset="1" stop-color="#28ff00"/></linearGradient>
<linearGradient id="b345"><stop offset="0" stop-color="#00ff0a"/><stop offset="0.25" stop-color="#06ff00"/><stop offset="0.5" stop-color="#1eff00"/><stop offset="0.75" stop-color="#1eff00"/><stop offset="1" stop-color="#1eff00"/></linearGradient>
<linearGradient id="b346"><stop offset="0" stop-color="#00ff0a"/><stop offset="0.25" stop-color="#01ff00"/><stop offset="0.5" stop-color="#14ff00"/><stop offset="0.75" stop-color="#19ff00"/><stop offset="1" stop-color="#1eff00"/></linearGradient>
<linearGradient id="b347"><stop offset="0" stop-color="#a0ff00"/><stop offset="0.25" stop-color="#9bff00"/><stop offset="0.5" stop-color="#96ff00"/><stop offset="0.75" stop-color="#8cff00"/><stop offset="1" stop-color="#82ff00"/></linearGradient>
<linearGradient id="b348"><stop offset="0" stop-color="#82ff00"/><stop offset="0.25" stop-color="#7dff00"/><stop offset="0.5" stop-color="#78ff00"/><stop offset="0.75" stop-color="#73ff00"/><stop offset="1" stop-color="#6eff00"/></linearGradient>
<linearGradient id="b349"><stop offset="0" stop-color="#aaff00"/><stop offset="0.25" stop-color="#64ff00"/><stop offset="0.5" stop-color="#1eff00"/><stop offset="0.75" stop-color="#14ff00"/><stop offset="1" stop-color="#0aff00"/></linearGradient>
<linearGradient id="b350"><stop offset="0" stop-color="#00ff32"/><stop offset="0.25" stop-color="#00ff37"/><stop offset="0.5" stop-color="#00ff3c"/><stop offset="0.75" stop-color="#00ff3c"/><stop offset="1" stop-color="#00ff3c"/></linearGradient>
<linearGradient id="b351"><stop offset="0" stop-color="#00ffa0"/><stop offset="0.25" stop-color="#00ffa7"/><stop offset="0.5" stop-color="#00ffaf"/><stop offset="0.75" stop-color="#00ffb6"/><stop offset="1" stop-color="#00ffbe"/></linearGradient>
<linearGradient id="b352"><stop offset="0" stop-color="#00ffb4"/><stop offset="0.25" stop-color="#00ffbe"/><stop offset="0.5" stop-color="#00ffc8"/><stop offset="0.75" stop-color="#00ffd2"/><stop offset="1" stop-color="#00ffdc"/></linearGradient>
<linearGradient id="b353"><stop offset="0" stop-color="#00ffbe"/><stop offset="0.25" stop-color="#00ffcd"/><stop offset="0.5" stop-color="#00ffdc"/><stop offset="0.75" stop-color="#00ffe4"/><stop offset="1" stop-color="#00ffeb"/></linearGradient>
<linearGradient id="b354"><stop offset="0" stop-color="#00ffb4"/><stop offset="0.25" stop-color="#00ffaf"/><stop offset="0.5" stop-color="#00ffaa"/><stop offset="0.75" stop-color="#00ff5f"/><stop offset="1" stop-color="#00ff14"/></linearGradient>
<linearGradient id="b355"><stop offset="0" stop-color="#00ff82"/><stop offset="0.25" stop-color="#00ff4b"/><stop offset="0.5" stop-color="#00ff14"/><stop offset="0.75" stop-color="#00ff19"/><stop offset="1" stop-color="#00ff1e"/></linearGradient>
<linearGradient id="b356"><stop offset="0" stop-color="#00ff28"/><stop offset="0.25" stop-color="#00ff19"/><stop offset="0.5" stop-color="#00ff0a"/><stop offset="0.75" stop-color="#00ff50"/><stop offset="1" stop-color="#00ff96"/></linearGradient>
<linearGradient id="b357"><stop offset="0" stop-color="#00ff0a"/><stop offset="0.25" stop-color="#00ff32"/><stop offset="0.5" stop-color="#00ff5a"/><stop offset="0.75" stop-color="#00ff87"/><stop offset="1" stop-color="#00ffb4"/></linearGradient>
<linearGradient id="b358"><stop offset="0" stop-color="#00ff64"/><stop offset="0.25" stop-color="#00ff91"/><stop offset="0.5" stop-color="#00ffbe"/><stop offset="0.75" stop-color="#00ffcd"/><stop offset="1" stop-color="#00ffdc"/></linearGradient>
<linearGradient id="b359"><stop offset="0" stop-color="#00ffb4"/><stop offset="0.25" stop-color="#00ffc6"/><stop offset="0.5" stop-color="#00ffd7"/><stop offset="0.75" stop-color="#00ffdc"/><stop offset="1" stop-color="#00ffe1"/></linearGradient>
<linearGradient id="b360"><stop offset="0" stop-color="#00ffbe"/><stop offset="0.25" stop-color="#00ffca"/><stop offset="0.5" stop-color="#00ffd7"/><stop offset="0.75" stop-color="#00ffdc"/><stop offset="1" stop-color="#00ffe1"/></linearGradient>
<linearGradient id="b361"><stop offset="0" stop-color="#00ffaa"/><stop offset="0.25" stop-color="#00ffb4"/><stop offset="0.5" stop-color="#00ffbe"/><stop offset="0.75" stop-color="#00ffc3"/><stop offset="1" stop-color="#00ffc8"/></linearGradient>
<linearGradient id="b362"><stop offset="0" stop-color="#00ffbe"/><stop offset="0.25" stop-color="#00ffca"/><stop offset="0.5" stop-color="#00ffd7"/><stop offset="0.75" stop-color="#00ffdc"/><stop offset="1" stop-color="#00ffe1"/></linearGradient>
<linearGradient id="b363"><stop offset="0" stop-color="#00ffb9"/><stop offset="0.25" stop-color="#00ffc5"/><stop offset="0.5" stop-color="#00ffd2"/><stop offset="0.75" stop-color="#00ffd4"/><stop offset="1" stop-color="#00ffd7"/></linearGradient>
<linearGradient id="b364"><stop offset="0" stop-color="#00ffaa"/><stop offset="0.25" stop-color="#00ffb4"/><stop offset="0.5" stop-color="#00ffbe"/><stop offset="0.75" stop-color="#00ffc0"/><stop offset="1" stop-color="#00ffc3"/></linearGradient>
<linearGradient id="b365"><stop offset="0" stop-color="#00ffb4"/><stop offset="0.25" stop-color="#00ffbe"/><stop offset="0.5" stop-color="#00ffc8"/><stop offset="0.75" stop-color="#00ffca"/><stop offset="1" stop-color="#00ffcd"/></linearGradient>
<linearGradient id="b366"><stop offset="0" stop-color="#00ff82"/><stop offset="0.25" stop-color="#00ff87"/><stop offset="0.5" stop-color="#00ff8c"/><stop offset="0.75" stop-color="#00ff91"/><stop offset="1" stop-color="#00ff96"/></linearGradient>
<linearGradient id="b367"><stop offset="0" stop-color="#00ffb4"/><stop offset="0.25" stop-color="#00ffb9"/><stop offset="0.5" stop-color="#00ffbe"/><stop offset="0.75" stop-color="#00ffc0"/><stop offset="1" stop-color="#00ffc3"/></linearGradient>
<linearGradient id="b368"><stop offset="0" stop-color="#00ffb4"/><stop offset="0.25" stop-color="#00ffb9"/><stop offset="0.5" stop-color="#00ffbe"/><stop offset="0.75" stop-color="#00ffc0"/><stop offset="1" stop-color="#00ffc3"/></linearGradient>
<linearGradient id="b369"><stop offset="0" stop-color="#00ffb4"/><stop offset="0.25" stop-color="#00ffb9"/><stop offset="0.5" stop-color="#00ffbe"/><stop offset="0.75" stop-color="#00ffc0"/><stop offset="1" stop-color="#00ffc3"/></linearGradient>
<linearGradient id="b370"><stop offset="0" stop-color="#00ffb4"/><stop offset="0.25" stop-color="#00ffb9"/><stop offset="0.5" stop-color="#00ffbe"/><stop offset="0.75" stop-color="#00ffc0"/><stop offset="1" stop-color="#00ffc3"/></linearGradient>
<linearGradient id="b371"><stop offset="0" stop-color="#00ffb4"/><stop offset="0.25" stop-color="#00ffb9"/><stop offset="0.5" stop-color="#00ffbe"/><stop offset="0.75" stop-color="#00ffc0"/><stop offset="1" stop-color="#00ffc3"/></linearGradient>
<linearGradient id="b372"><stop offset="0" stop-color="#00ffb4"/><stop offset="0.25" stop-color="#00ffb9"/><stop offset="0.5" stop-color="#00ffbe"/><stop offset="0.75" stop-color="#00ffc0"/><stop offset="1" stop-color="#00ffc3"/></linearGradient>
<linearGradient id="b373"><stop offset="0" stop-color="#3cff00"/><stop offset="0.25" stop-color="#32ff00"/><stop offset="0.5" stop-color="#28ff00"/><stop offset="0.75" stop-color="#28ff00"/><stop offset="1" stop-color="#28ff00"/></linearGradient>
<linearGradient id="b374"><stop offset="0" stop-color="#ffbe00"/><stop offset="0.25" stop-color="#ffc500"/><stop offset="0.5" stop-color="#ffcd00"/><stop offset="0.75" stop-color="#ffd400"/><stop offset="1" stop-color="#ffdc00"/></linearGradient>
<linearGradient id="b375"><stop offset="0" stop-color="#ffd700"/><stop offset="0.25" stop-color="#ffde00"/><stop offset="0.5" stop-color="#ffe600"/><stop offset="0.75" stop-color="#ffeb00"/><stop offset="1" stop-color="#fff000"/></linearGradient>
<linearGradient id="b376"><stop offset="0" stop-color="#c8ff00"/><stop offset="0.25" stop-color="#b4ff00"/><stop offset="0.5" stop-color="#a0ff00"/><stop offset="0.75" stop-color="#82ff00"/><stop offset="1" stop-color="#64ff00"/></linearGradient>
<linearGradient id="b377"><stop offset="0" stop-color="#96ff00"/><stop offset="0.25" stop-color="#73ff00"/><stop offset="0.5" stop-color="#50ff00"/><stop offset="0.75" stop-color="#37ff00"/><stop offset="1" stop-color="#1eff00"/></linearGradient>
<linearGradient id="b378"><stop offset="0" stop-color="#3cff00"/><stop offset="0.25" stop-color="#2dff00"/><stop offset="0.5" stop-color="#1eff00"/><stop offset="0.75" stop-color="#14ff00"/><stop offset="1" stop-color="#0aff00"/></linearGradient>
<linearGradient id="b379"><stop offset="0" stop-color="#96ff00"/><stop offset="0.25" stop-color="#73ff00"/><stop offset="0.5" stop-color="#50ff00"/><stop offset="0.75" stop-color="#2dff00"/><stop offset="1" stop-color="#0aff00"/></linearGradient>
<linearGradient id="b380"><stop offset="0" stop-color="#78ff00"/><stop offset="0.25" stop-color="#82ff00"/><stop offset="0.5" stop-color="#8cff00"/><stop offset="0.75" stop-color="#96ff00"/><stop offset="1" stop-color="#a0ff00"/></linearGradient>
<linearGradient id="b381"><stop offset="0" stop-color="#ffd700"/><stop offset="0.25" stop-color="#ffd400"/><stop offset="0.5" stop-color="#ffd200"/><stop offset="0.75" stop-color="#ffcd00"/><stop offset="1" stop-color="#ffc800"/></linearGradient>
<linearGradient id="b382"><stop offset="0" stop-color="#ffd200"/><stop offset="0.25" stop-color="#ffd000"/><stop offset="0.5" stop-color="#ffcd00"/><stop offset="0.75" stop-color="#ffca00"/><stop offset="1" stop-color="#ffc800"/></linearGradient>
<linearGradient id="b383"><stop offset="0" stop-color="#ffe100"/><stop offset="0.25" stop-color="#ffdc00"/><stop offset="0.5" stop-color="#ffd700"/><stop offset="0.75" stop-color="#ffd400"/><stop offset="1" stop-color="#ffd200"/></linearGradient>
<linearGradient id="b384"><stop offset="0" stop-color="#ebff00"/><stop offset="0.25" stop-color="#eeff00"/><stop offset="0.5" stop-color="#f0ff00"/><stop offset="0.75" stop-color="#fffa00"/><stop offset="1" stop-color="#fff000"/></linearGradient>
<linearGradient id="b385"><stop offset="0" stop-color="#c8ff00"/><stop offset="0.25" stop-color="#d2ff00"/><stop offset="0.5" stop-color="#dcff00"/><stop offset="0.75" stop-color="#e1ff00"/><stop offset="1" stop-color="#e6ff00"/></linearGradient>
<linearGradient id="b386"><stop offset="0" stop-color="#14ff00"/><stop offset="0.25" stop-color="#14ff00"/><stop offset="0.5" stop-color="#14ff00"/><stop offset="0.75" stop-color="#0aff00"/><stop offset="1" stop-color="#00ff00"/></linearGradient>
<linearGradient id="b387"><stop offset="0" stop-color="#14ff00"/><stop offset="0.25" stop-color="#14ff00"/><stop offset="0.5" stop-color="#14ff00"/><stop offset="0.75" stop-color="#01ff00"/><stop offset="1" stop-color="#00ff0a"/></linearGradient>
<linearGradient id="b388"><stop offset="0" stop-color="#1eff00"/><stop offset="0.25" stop-color="#1eff00"/><stop offset="0.5" stop-color="#1eff00"/><stop offset="0.75" stop-color="#06ff00"/><stop offset="1" stop-color="#00ff0a"/></linearGradient>
<linearGradient id="b389"><stop offset="0" stop-color="#78ff00"/><stop offset="0.25" stop-color="#73ff00"/><stop offset="0.5" stop-color="#6eff00"/><stop offset="0.75" stop-color="#41ff00"/><stop offset="1" stop-color="#14ff00"/></linearGradient>
<linearGradient id="b390"><stop offset="0" stop-color="#78ff00"/><stop offset="0.25" stop-color="#73ff00"/><stop offset="0.5" stop-color="#6eff00"/><stop offset="0.75" stop-color="#41ff00"/><stop offset="1" stop-color="#14ff00"/></linearGradient>
<linearGradient id="b391"><stop offset="0" stop-color="#28ff00"/><stop offset="0.25" stop-color="#23ff00"/><stop offset="0.5" stop-color="#1eff00"/><stop offset="0.75" stop-color="#0fff00"/><stop offset="1" stop-color="#00ff00"/></linearGradient>
<linearGradient id="b392"><stop offset="0" stop-color="#8cff00"/><stop offset="0.25" stop-color="#87ff00"/><stop offset="0.5" stop-color="#82ff00"/><stop offset="0.75" stop-color="#50ff00"/><stop offset="1" stop-color="#1eff00"/></linearGradient>
<linearGradient id="b393"><stop offset="0" stop-color="#8cff00"/><stop offset="0.25" stop-color="#82ff00"/><stop offset="0.5" stop-color="#78ff00"/><stop offset="0.75" stop-color="#4bff00"/><stop offset="1" stop-color="#1eff00"/></linearGradient>
<linearGradient id="b394"><stop offset="0" stop-color="#28ff00"/><stop offset="0.25" stop-color="#28ff00"/><stop offset="0.5" stop-color="#28ff00"/><stop offset="0.75" stop-color="#19ff00"/><stop offset="1" stop-color="#0aff00"/></linearGradient>
<linearGradient id="b395"><stop offset="0" stop-color="#32ff00"/><stop offset="0.25" stop-color="#2dff00"/><stop offset="0.5" stop-color="#28ff00"/><stop offset="0.75" stop-color="#19ff00"/><stop offset="1" stop-color="#0aff00"/></linearGradient>
<linearGradient id="b396"><stop offset="0" stop-color="#faff00"/><stop offset="0.25" stop-color="#e1ff00"/><stop offset="0.5" stop-color="#c8ff00"/><stop offset="0.75" stop-color="#87ff00"/><stop offset="1" stop-color="#46ff00"/></linearGradient>
<linearGradient id="b397"><stop offset="0" stop-color="#f5ff00"/><stop offset="0.25" stop-color="#dfff00"/><stop offset="0.5" stop-color="#c8ff00"/><stop offset="0.75" stop-color="#87ff00"/><stop offset="1" stop-color="#46ff00"/></linearGradient>
<linearGradient id="b398"><stop offset="0" stop-color="#96ff00"/><stop offset="0.25" stop-color="#9bff00"/><stop offset="0.5" stop-color="#a0ff00"/><stop offset="0.75" stop-color="#69ff00"/><stop offset="1" stop-color="#32ff00"/></linearGradient>
<linearGradient id="b399"><stop offset="0" stop-color="#96ff00"/><stop offset="0.25" stop-color="#a0ff00"/><stop offset="0.5" stop-color="#aaff00"/><stop offset="0.75" stop-color="#6eff00"/><stop offset="1" stop-color="#32ff00"/></linearGradient>
<linearGradient id="b400"><stop offset="0" stop-color="#beff00"/><stop offset="0.25" stop-color="#d7ff00"/><stop offset="0.5" stop-color="#f0ff00"/><stop offset="0.75" stop-color="#96ff00"/><stop offset="1" stop-color="#3cff00"/></linearGradient>
<linearGradient id="b401"><stop offset="0" stop-color="#beff00"/><stop offset="0.25" stop-color="#d7ff00"/><stop offset="0.5" stop-color="#f0ff00"/><stop offset="0.75" stop-color="#96ff00"/><stop offset="1" stop-color="#3cff00"/></linearGradient>
<linearGradient id="b402"><stop offset="0" stop-color="#beff00"/><stop offset="0.25" stop-color="#d9ff00"/><stop offset="0.5" stop-color="#f5ff00"/><stop offset="0.75" stop-color="#99ff00"/><stop offset="1" stop-color="#3cff00"/></linearGradient>
<linearGradient id="b403"><stop offset="0" stop-color="#b4ff00"/><stop offset="0.25" stop-color="#cdff00"/><stop offset="0.5" stop-color="#e6ff00"/><stop offset="0.75" stop-color="#8cff00"/><stop offset="1" stop-color="#32ff00"/></linearGradient>
<linearGradient id="b404"><stop offset="0" stop-color="#a0ff00"/><stop offset="0.25" stop-color="#b9ff00"/><stop offset="0.5" stop-color="#d2ff00"/><stop offset="0.75" stop-color="#78ff00"/><stop offset="1" stop-color="#1eff00"/></linearGradient>
<linearGradient id="b405"><stop offset="0" stop-color="#aaff00"/><stop offset="0.25" stop-color="#beff00"/><stop offset="0.5" stop-color="#d2ff00"/><stop offset="0.75" stop-color="#78ff00"/><stop offset="1" stop-color="#1eff00"/></linearGradient>
<linearGradient id="b406"><stop offset="0" stop-color="#fff500"/><stop offset="0.25" stop-color="#fffb00"/><stop offset="0.5" stop-color="#faff00"/><stop offset="0.75" stop-color="#a5ff00"/><stop offset="1" stop-color="#50ff00"/></linearGradient>
<linearGradient id="b407"><stop offset="0" stop-color="#fff000"/><stop offset="0.25" stop-color="#fff500"/><stop offset="0.5" stop-color="#fffa00"/><stop offset="0.75" stop-color="#b4ff00"/><stop offset="1" stop-color="#5aff00"/></linearGradient>
<linearGradient id="b408"><stop offset="0" stop-color="#fff500"/><stop offset="0.25" stop-color="#fffc00"/><stop offset="0.5" stop-color="#f5ff00"/><stop offset="0.75" stop-color="#a2ff00"/><stop offset="1" stop-color="#50ff00"/></linearGradient>
<linearGradient id="b409"><stop offset="0" stop-color="#aaff00"/><stop offset="0.25" stop-color="#c1ff00"/><stop offset="0.5" stop-color="#d7ff00"/><stop offset="0.75" stop-color="#84ff00"/><stop offset="1" stop-color="#32ff00"/></linearGradient>
<linearGradient id="b410"><stop offset="0" stop-color="#aaff00"/><stop offset="0.25" stop-color="#c1ff00"/><stop offset="0.5" stop-color="#d7ff00"/><stop offset="0.75" stop-color="#84ff00"/><stop offset="1" stop-color="#32ff00"/></linearGradient>
<linearGradient id="b411"><stop offset="0" stop-color="#aaff00"/><stop offset="0.25" stop-color="#cdff00"/><stop offset="0.5" stop-color="#f0ff00"/><stop offset="0.75" stop-color="#96ff00"/><stop offset="1" stop-color="#3cff00"/></linearGradient>
<linearGradient id="b412"><stop offset="0" stop-color="#b4ff00"/><stop offset="0.25" stop-color="#d4ff00"/><stop offset="0.5" stop-color="#f5ff00"/><stop offset="0.75" stop-color="#9eff00"/><stop offset="1" stop-color="#46ff00"/></linearGradient>
<linearGradient id="b413"><stop offset="0" stop-color="#aaff00"/><stop offset="0.25" stop-color="#cbff00"/><stop offset="0.5" stop-color="#ebff00"/><stop offset="0.75" stop-color="#93ff00"/><stop offset="1" stop-color="#3cff00"/></linearGradient>
<linearGradient id="b414"><stop offset="0" stop-color="#3cff00"/><stop offset="0.25" stop-color="#5aff00"/><stop offset="0.5" stop-color="#78ff00"/><stop offset="0.75" stop-color="#19ff00"/><stop offset="1" stop-color="#00ff28"/></linearGradient>
<linearGradient id="b415"><stop offset="0" stop-color="#3cff00"/><stop offset="0.25" stop-color="#5aff00"/><stop offset="0.5" stop-color="#78ff00"/><stop offset="0.75" stop-color="#19ff00"/><stop offset="1" stop-color="#00ff28"/></linearGradient>
<linearGradient id="b416"><stop offset="0" stop-color="#28ff00"/><stop offset="0.25" stop-color="#41ff00"/><stop offset="0.5" stop-color="#5aff00"/><stop offset="0.75" stop-color="#00ff04"/><stop offset="1" stop-color="#00ff3c"/></linearGradient>
<linearGradient id="b417"><stop offset="0" stop-color="#00ff00"/><stop offset="0.25" stop-color="#0aff00"/><stop offset="0.5" stop-color="#14ff00"/><stop offset="0.75" stop-color="#00ff2c"/><stop offset="1" stop-color="#00ff64"/></linearGradient>
<linearGradient id="b418"><stop offset="0" stop-color="#00ff00"/><stop offset="0.25" stop-color="#00ff05"/><stop offset="0.5" stop-color="#00ff0a"/><stop offset="0.75" stop-color="#00ff41"/><stop offset="1" stop-color="#00ff78"/></linearGradient>
<linearGradient id="b419"><stop offset="0" stop-color="#00ff00"/><stop offset="0.25" stop-color="#00ff0a"/><stop offset="0.5" stop-color="#00ff14"/><stop offset="0.75" stop-color="#00ff4b"/><stop offset="1" stop-color="#00ff82"/></linearGradient>
<linearGradient id="b420"><stop offset="0" stop-color="#00ff0a"/><stop offset="0.25" stop-color="#00ff0f"/><stop offset="0.5" stop-color="#00ff14"/><stop offset="0.75" stop-color="#00ff3c"/><stop offset="1" stop-color="#00ff64"/></linearGradient>
<linearGradient id="b421"><stop offset="0" stop-color="#00ff14"/><stop offset="0.25" stop-color="#00ff19"/><stop offset="0.5" stop-color="#00ff1e"/><stop offset="0.75" stop-color="#00ff23"/><stop offset="1" stop-color="#00ff28"/></linearGradient>
<linearGradient id="b422"><stop offset="0" stop-color="#00ffa0"/><stop offset="0.25" stop-color="#00ffa4"/><stop offset="0.5" stop-color="#00ffa8"/><stop offset="0.75" stop-color="#00ffb0"/><stop offset="1" stop-color="#00ffb9"/></linearGradient>
<linearGradient id="b423"><stop offset="0" stop-color="#00ffa0"/><stop offset="0.25" stop-color="#00ffa4"/><stop offset="0.5" stop-color="#00ffa8"/><stop offset="0.75" stop-color="#00ffb0"/><stop offset="1" stop-color="#00ffb9"/></linearGradient>
<linearGradient id="b424"><stop offset="0" stop-color="#00ffa0"/><stop offset="0.25" stop-color="#00ffa4"/><stop offset="0.5" stop-color="#00ffa8"/><stop offset="0.75" stop-color="#00ffb0"/><stop offset="1" stop-color="#00ffb9"/></linearGradient>
<linearGradient id="b425"><stop offset="0" stop-color="#00ffa0"/><stop offset="0.25" stop-color="#00ffa4"/><stop offset="0.5" stop-color="#00ffa8"/><stop offset="0.75" stop-color="#00ffb0"/><stop offset="1" stop-color="#00ffb9"/></linearGradient>
<linearGradient id="b426"><stop offset="0" stop-color="#00ff96"/><stop offset="0.25" stop-color="#00ff96"/><stop offset="0.5" stop-color="#00ff96"/><stop offset="0.75" stop-color="#00ff9d"/><stop offset="1" stop-color="#00ffa5"/></linearGradient>
<linearGradient id="b427"><stop offset="0" stop-color="#00ff96"/><stop offset="0.25" stop-color="#00ff96"/><stop offset="0.5" stop-color="#00ff96"/><stop offset="0.75" stop-color="#00ff9d"/><stop offset="1" stop-color="#00ffa5"/></linearGradient>
<linearGradient id="b428"><stop offset="0" stop-color="#00ff96"/><stop offset="0.25" stop-color="#00ff96"/><stop offset="0.5" stop-color="#00ff96"/><stop offset="0.75" stop-color="#00ff9d"/><stop offset="1" stop-color="#00ffa5"/></linearGradient>
<linearGradient id="b429"><stop offset="0" stop-color="#00ff96"/><stop offset="0.25" stop-color="#00ff96"/><stop offset="0.5" stop-color="#00ff96"/><stop offset="0.75" stop-color="#00ff9d"/><stop offset="1" stop-color="#00ffa5"/></linearGradient>
<linearGradient id="b430"><stop offset="0" stop-color="#00ff96"/><stop offset="0.25" stop-color="#00ff96"/><stop offset="0.5" stop-color="#00ff96"/><stop offset="0.75" stop-color="#00ff9d"/><stop offset="1" stop-color="#00ffa5"/></linearGradient>
<linearGradient id="b431"><stop offset="0" stop-color="#00ff96"/><stop offset="0.25" stop-color="#00ff96"/><stop offset="0.5" stop-color="#00ff96"/><stop offset="0.75" stop-color="#00ff9d"/><stop offset="1" stop-color="#00ffa5"/></linearGradient>
<linearGradient id="b432"><stop offset="0" stop-color="#00ff82"/><stop offset="0.25" stop-color="#00ff84"/><stop offset="0.5" stop-color="#00ff87"/><stop offset="0.75" stop-color="#00ff94"/><stop offset="1" stop-color="#00ffa0"/></linearGradient>
<linearGradient id="b433"><stop offset="0" stop-color="#00ff8c"/><stop offset="0.25" stop-color="#00ff8e"/><stop offset="0.5" stop-color="#00ff91"/><stop offset="0.75" stop-color="#00ff9d"/><stop offset="1" stop-color="#00ffaa"/></linearGradient>
<linearGradient id="b434"><stop offset="0" stop-color="#00ff8c"/><stop offset="0.25" stop-color="#00ff8e"/><stop offset="0.5" stop-color="#00ff91"/><stop offset="0.75" stop-color="#00ff9d"/><stop offset="1" stop-color="#00ffaa"/></linearGradient>
<linearGradient id="b435"><stop offset="0" stop-color="#00ff87"/><stop offset="0.25" stop-color="#00ff8a"/><stop offset="0.5" stop-color="#00ff8c"/><stop offset="0.75" stop-color="#00ff99"/><stop offset="1" stop-color="#00ffa5"/></linearGradient>
<linearGradient id="b436"><stop offset="0" stop-color="#00ff87"/><stop offset="0.25" stop-color="#00ff8c"/><stop offset="0.5" stop-color="#00ff91"/><stop offset="0.75" stop-color="#00ffa5"/><stop offset="1" stop-color="#00ffb9"/></linearGradient>
<linearGradient id="b437"><stop offset="0" stop-color="#00ff8c"/><stop offset="0.25" stop-color="#00ff91"/><stop offset="0.5" stop-color="#00ff96"/><stop offset="0.75" stop-color="#00ffaa"/><stop offset="1" stop-color="#00ffbe"/></linearGradient>
<linearGradient id="b438"><stop offset="0" stop-color="#00ff87"/><stop offset="0.25" stop-color="#00ff8c"/><stop offset="0.5" stop-color="#00ff91"/><stop offset="0.75" stop-color="#00ffa2"/><stop offset="1" stop-color="#00ffb4"/></linearGradient>
<linearGradient id="b439"><stop offset="0" stop-color="#00ff5a"/><stop offset="0.25" stop-color="#00ff5c"/><stop offset="0.5" stop-color="#00ff5f"/><stop offset="0.75" stop-color="#00ff66"/><stop offset="1" stop-color="#00ff6e"/></linearGradient>
<linearGradient id="b440"><stop offset="0" stop-color="#00ff50"/><stop offset="0.25" stop-color="#00ff55"/><stop offset="0.5" stop-color="#00ff5a"/><stop offset="0.75" stop-color="#00ff5f"/><stop offset="1" stop-color="#00ff64"/></linearGradient>
<linearGradient id="b441"><stop offset="0" stop-color="#00ff32"/><stop offset="0.25" stop-color="#00ff30"/><stop offset="0.5" stop-color="#00ff2d"/><stop offset="0.75" stop-color="#00ff11"/><stop offset="1" stop-color="#14ff00"/></linearGradient>
<linearGradient id="b442"><stop offset="0" stop-color="#00ff2d"/><stop offset="0.25" stop-color="#00ff2a"/><stop offset="0.5" stop-color="#00ff28"/><stop offset="0.75" stop-color="#00ff0b"/><stop offset="1" stop-color="#1eff00"/></linearGradient>
<linearGradient id="b443"><stop offset="0" stop-color="#00ff32"/><stop offset="0.25" stop-color="#00ff30"/><stop offset="0.5" stop-color="#00ff2d"/><stop offset="0.75" stop-color="#00ff11"/><stop offset="1" stop-color="#14ff00"/></linearGradient>
<linearGradient id="b444"><stop offset="0" stop-color="#00ff2d"/><stop offset="0.25" stop-color="#00ff2a"/><stop offset="0.5" stop-color="#00ff28"/><stop offset="0.75" stop-color="#00ff0b"/><stop offset="1" stop-color="#1eff00"/></linearGradient>
<linearGradient id="b445"><stop offset="0" stop-color="#00ff32"/><stop offset="0.25" stop-color="#00ff30"/><stop offset="0.5" stop-color="#00ff2d"/><stop offset="0.75" stop-color="#00ff11"/><stop offset="1" stop-color="#14ff00"/></linearGradient>
<linearGradient id="b446"><stop offset="0" stop-color="#00ff2d"/><stop offset="0.25" stop-color="#00ff2a"/><stop offset="0.5" stop-color="#00ff28"/><stop offset="0.75" stop-color="#00ff0b"/><stop offset="1" stop-color="#1eff00"/></linearGradient>
<linearGradient id="b447"><stop offset="0" stop-color="#00ff32"/><stop offset="0.25" stop-color="#00ff30"/><stop offset="0.5" stop-color="#00ff2d"/><stop offset="0.75" stop-color="#00ff11"/><stop offset="1" stop-color="#14ff00"/></linearGradient>
<linearGradient id="b448"><stop offset="0" stop-color="#00ff2d"/><stop offset="0.25" stop-color="#00ff2a"/><stop offset="0.5" stop-color="#00ff28"/><stop offset="0.75" stop-color="#00ff0b"/><stop offset="1" stop-color="#1eff00"/></linearGradient>
<linearGradient id="b449"><stop offset="0" stop-color="#00ff32"/><stop offset="0.25" stop-color="#00ff30"/><stop offset="0.5" stop-color="#00ff2d"/><stop offset="0.75" stop-color="#00ff11"/><stop offset="1" stop-color="#14ff00"/></linearGradient>
<linearGradient id="b450"><stop offset="0" stop-color="#ffcd00"/><stop offset="0.25" stop-color="#ffd400"/><stop offset="0.5" stop-color="#ffdc00"/><stop offset="0.75" stop-color="#ffe400"/><stop offset="1" stop-color="#ffeb00"/></linearGradient>
<linearGradient id="b451"><stop offset="0" stop-color="#ffe600"/><stop offset="0.25" stop-color="#ffe800"/><stop offset="0.5" stop-color="#ffeb00"/><stop offset="0.75" stop-color="#fff000"/><stop offset="1" stop-color="#fff500"/></linearGradient>
<linearGradient id="b452"><stop offset="0" stop-color="#c8ff00"/><stop offset="0.25" stop-color="#beff00"/><stop offset="0.5" stop-color="#b4ff00"/><stop offset="0.75" stop-color="#96ff00"/><stop offset="1" stop-color="#78ff00"/></linearGradient>
<linearGradient id="b453"><stop offset="0" stop-color="#aaff00"/><stop offset="0.25" stop-color="#9bff00"/><stop offset="0.5" stop-color="#8cff00"/><stop offset="0.75" stop-color="#69ff00"/><stop offset="1" stop-color="#46ff00"/></linearGradient>
<linearGradient id="b454"><stop offset="0" stop-color="#8cff00"/><stop offset="0.25" stop-color="#78ff00"/><stop offset="0.5" stop-color="#64ff00"/><stop offset="0.75" stop-color="#46ff00"/><stop offset="1" stop-color="#28ff00"/></linearGradient>
<linearGradient id="b455"><stop offset="0" stop-color="#00ff1e"/><stop offset="0.25" stop-color="#00ff1e"/><stop offset="0.5" stop-color="#00ff1e"/><stop offset="0.75" stop-color="#00ff14"/><stop offset="1" stop-color="#00ff0a"/></linearGradient>
<linearGradient id="b456"><stop offset="0" stop-color="#64ff00"/><stop offset="0.25" stop-color="#55ff00"/><stop offset="0.5" stop-color="#46ff00"/><stop offset="0.75" stop-color="#37ff00"/><stop offset="1" stop-color="#28ff00"/></linearGradient>
<linearGradient id="b457"><stop offset="0" stop-color="#64ff00"/><stop offset="0.25" stop-color="#55ff00"/><stop offset="0.5" stop-color="#46ff00"/><stop offset="0.75" stop-color="#37ff00"/><stop offset="1" stop-color="#28ff00"/></linearGradient>
<linearGradient id="b458"><stop offset="0" stop-color="#50ff00"/><stop offset="0.25" stop-color="#5aff00"/><stop offset="0.5" stop-color="#64ff00"/><stop offset="0.75" stop-color="#73ff00"/><stop offset="1" stop-color="#82ff00"/></linearGradient>
<linearGradient id="b459"><stop offset="0" stop-color="#50ff00"/><stop offset="0.25" stop-color="#5aff00"/><stop offset="0.5" stop-color="#64ff00"/><stop offset="0.75" stop-color="#73ff00"/><stop offset="1" stop-color="#82ff00"/></linearGradient>
<linearGradient id="b460"><stop offset="0" stop-color="#1eff00"/><stop offset="0.25" stop-color="#2dff00"/><stop offset="0.5" stop-color="#3cff00"/><stop offset="0.75" stop-color="#46ff00"/><stop offset="1" stop-color="#50ff00"/></linearGradient>
<linearGradient id="b461"><stop offset="0" stop-color="#1eff00"/><stop offset="0.25" stop-color="#32ff00"/><stop offset="0.5" stop-color="#46ff00"/><stop offset="0.75" stop-color="#50ff00"/><stop offset="1" stop-color="#5aff00"/></linearGradient>
<linearGradient id="b462"><stop offset="0" stop-color="#1eff00"/><stop offset="0.25" stop-color="#28ff00"/><stop offset="0.5" stop-color="#32ff00"/><stop offset="0.75" stop-color="#4bff00"/><stop offset="1" stop-color="#64ff00"/></linearGradient>
<linearGradient id="b463"><stop offset="0" stop-color="#1eff00"/><stop offset="0.25" stop-color="#28ff00"/><stop offset="0.5" stop-color="#32ff00"/><stop offset="0.75" stop-color="#4bff00"/><stop offset="1" stop-color="#64ff00"/></linearGradient>
<linearGradient id="b464"><stop offset="0" stop-color="#28ff00"/><stop offset="0.25" stop-color="#32ff00"/><stop offset="0.5" stop-color="#3cff00"/><stop offset="0.75" stop-color="#55ff00"/><stop offset="1" stop-color="#6eff00"/></linearGradient>
<linearGradient id="b465"><stop offset="0" stop-color="#1eff00"/><stop offset="0.25" stop-color="#28ff00"/><stop offset="0.5" stop-color="#32ff00"/><stop offset="0.75" stop-color="#46ff00"/><stop offset="1" stop-color="#5aff00"/></linearGradient>
<linearGradient id="b466"><stop offset="0" stop-color="#96ff00"/><stop offset="0.25" stop-color="#a5ff00"/><stop offset="0.5" stop-color="#b4ff00"/><stop offset="0.75" stop-color="#afff00"/><stop offset="1" stop-color="#aaff00"/></linearGradient>
<linearGradient id="b467"><stop offset="0" stop-color="#96ff00"/><stop offset="0.25" stop-color="#a8ff00"/><stop offset="0.5" stop-color="#b9ff00"/><stop offset="0.75" stop-color="#b2ff00"/><stop offset="1" stop-color="#aaff00"/></linearGradient>
<linearGradient id="b468"><stop offset="0" stop-color="#8cff00"/><stop offset="0.25" stop-color="#9bff00"/><stop offset="0.5" stop-color="#aaff00"/><stop offset="0.75" stop-color="#a5ff00"/><stop offset="1" stop-color="#a0ff00"/></linearGradient>
<linearGradient id="b469"><stop offset="0" stop-color="#3cff00"/><stop offset="0.25" stop-color="#73ff00"/><stop offset="0.5" stop-color="#aaff00"/><stop offset="0.75" stop-color="#b4ff00"/><stop offset="1" stop-color="#beff00"/></linearGradient>
<linearGradient id="b470"><stop offset="0" stop-color="#3cff00"/><stop offset="0.25" stop-color="#7dff00"/><stop offset="0.5" stop-color="#beff00"/><stop offset="0.75" stop-color="#c3ff00"/><stop offset="1" stop-color="#c8ff00"/></linearGradient>
<linearGradient id="b471"><stop offset="0" stop-color="#32ff00"/><stop offset="0.25" stop-color="#73ff00"/><stop offset="0.5" stop-color="#b4ff00"/><stop offset="0.75" stop-color="#b9ff00"/><stop offset="1" stop-color="#beff00"/></linearGradient>
<linearGradient id="b472"><stop offset="0" stop-color="#64ff00"/><stop offset="0.25" stop-color="#69ff00"/><stop offset="0.5" stop-color="#6eff00"/><stop offset="0.75" stop-color="#78ff00"/><stop offset="1" stop-color="#82ff00"/></linearGradient>
<linearGradient id="b473"><stop offset="0" stop-color="#5aff00"/><stop offset="0.25" stop-color="#5fff00"/><stop offset="0.5" stop-color="#64ff00"/><stop offset="0.75" stop-color="#69ff00"/><stop offset="1" stop-color="#6eff00"/></linearGradient>
<linearGradient id="b474"><stop offset="0" stop-color="#00ff00"/><stop offset="0.25" stop-color="#05ff00"/><stop offset="0.5" stop-color="#0aff00"/><stop offset="0.75" stop-color="#14ff00"/><stop offset="1" stop-color="#1eff00"/></linearGradient>
<linearGradient id="b475"><stop offset="0" stop-color="#00ff96"/><stop offset="0.25" stop-color="#00ff98"/><stop offset="0.5" stop-color="#00ff9b"/><stop offset="0.75" stop-color="#00ffa0"/><stop offset="1" stop-color="#00ffa5"/></linearGradient>
<linearGradient id="b476"><stop offset="0" stop-color="#00ff96"/><stop offset="0.25" stop-color="#00ff98"/><stop offset="0.5" stop-color="#00ff9b"/><stop offset="0.75" stop-color="#00ffa0"/><stop offset="1" stop-color="#00ffa5"/></linearGradient>
<linearGradient id="b477"><stop offset="0" stop-color="#00ff96"/><stop offset="0.25" stop-color="#00ff98"/><stop offset="0.5" stop-color="#00ff9b"/><stop offset="0.75" stop-color="#00ffa0"/><stop offset="1" stop-color="#00ffa5"/></linearGradient>
<linearGradient id="b478"><stop offset="0" stop-color="#00ff96"/><stop offset="0.25" stop-color="#00ff98"/><stop offset="0.5" stop-color="#00ff9b"/><stop offset="0.75" stop-color="#00ffa0"/><stop offset="1" stop-color="#00ffa5"/></linearGradient>
<linearGradient id="b479"><stop offset="0" stop-color="#00ff28"/><stop offset="0.25" stop-color="#00ff26"/><stop offset="0.5" stop-color="#00ff23"/><stop offset="0.75" stop-color="#00ff09"/><stop offset="1" stop-color="#1eff00"/></linearGradient>
<linearGradient id="b480"><stop offset="0" stop-color="#00ff28"/><stop offset="0.25" stop-color="#00ff23"/><stop offset="0.5" stop-color="#00ff1e"/><stop offset="0.75" stop-color="#00ff01"/><stop offset="1" stop-color="#32ff00"/></linearGradient>
<linearGradient id="b481"><stop offset="0" stop-color="#00ff28"/><stop offset="0.25" stop-color="#00ff23"/><stop offset="0.5" stop-color="#00ff1e"/><stop offset="0.75" stop-color="#00ff04"/><stop offset="1" stop-color="#28ff00"/></linearGradient>
<linearGradient id="b482"><stop offset="0" stop-color="#00ff1e"/><stop offset="0.25" stop-color="#00ff14"/><stop offset="0.5" stop-color="#00ff0a"/><stop offset="0.75" stop-color="#10ff00"/><stop offset="1" stop-color="#32ff00"/></linearGradient>
<linearGradient id="b483"><stop offset="0" stop-color="#3cff00"/><stop offset="0.25" stop-color="#46ff00"/><stop offset="0.5" stop-color="#50ff00"/><stop offset="0.75" stop-color="#6eff00"/><stop offset="1" stop-color="#8cff00"/></linearGradient>
<linearGradient id="b484"><stop offset="0" stop-color="#faff00"/><stop offset="0.25" stop-color="#fff800"/><stop offset="0.5" stop-color="#fff000"/><stop offset="0.75" stop-color="#ffe100"/><stop offset="1" stop-color="#ffd200"/></linearGradient>
<linearGradient id="b485"><stop offset="0" stop-color="#fff500"/><stop offset="0.25" stop-color="#ffee00"/><stop offset="0.5" stop-color="#ffe600"/><stop offset="0.75" stop-color="#ffd400"/><stop offset="1" stop-color="#ffc300"/></linearGradient>
<linearGradient id="b486"><stop offset="0" stop-color="#3cff00"/><stop offset="0.25" stop-color="#69ff00"/><stop offset="0.5" stop-color="#96ff00"/><stop offset="0.75" stop-color="#f0ff00"/><stop offset="1" stop-color="#ffe600"/></linearGradient>
<linearGradient id="b487"><stop offset="0" stop-color="#1eff00"/><stop offset="0.25" stop-color="#2dff00"/><stop offset="0.5" stop-color="#3cff00"/><stop offset="0.75" stop-color="#8cff00"/><stop offset="1" stop-color="#dcff00"/></linearGradient>
<linearGradient id="b488"><stop offset="0" stop-color="#14ff00"/><stop offset="0.25" stop-color="#19ff00"/><stop offset="0.5" stop-color="#1eff00"/><stop offset="0.75" stop-color="#4bff00"/><stop offset="1" stop-color="#78ff00"/></linearGradient>
<clipPath id="cl40"><rect x="680" y="33.4" width="38" height="137.5"/></clipPath>
<clipPath id="cl203"><rect x="680" y="196.4" width="38" height="138.5"/></clipPath>
<clipPath id="c3"><rect x="0" y="495" width="635" height="37"/></clipPath>
<linearGradient id="cb" x1="0" y1="0" x2="0" y2="1"><stop offset="0.0000" stop-color="#ff0000"/><stop offset="0.1333" stop-color="#ff5400"/><stop offset="0.2471" stop-color="#ffb900"/><stop offset="0.3647" stop-color="#ffff00"/><stop offset="0.5059" stop-color="#00ff00"/><stop offset="0.7529" stop-color="#00ffff"/><stop offset="0.8824" stop-color="#0000ff"/><stop offset="1.0000" stop-color="#000089"/></linearGradient>
</defs>
<rect width="718" height="532" fill="#fff"/>
<g shape-rendering="crispEdges">
<rect x="133" y="129" width="29" height="1" fill="#ffd700"/>
<rect x="133" y="130" width="29" height="1" fill="#ffd700"/>
<rect x="133" y="131" width="29" height="1" fill="#ffd200"/>
<rect x="133" y="132" width="29" height="1" fill="#ffc800"/>
<rect x="133" y="133" width="29" height="1" fill="#ffaf00"/>
<rect x="133" y="134" width="29" height="1" fill="#ffb400"/>
<rect x="133" y="135" width="29" height="1" fill="#ffc800"/>
<rect x="133" y="136" width="29" height="1" fill="#ffaa00"/>
<rect x="133" y="137" width="29" height="1" fill="#ffc300"/>
<rect x="133" y="138" width="29" height="1" fill="#ffcd00"/>
<rect x="133" y="139" width="29" height="1" fill="#ffc800"/>
<rect x="133" y="140" width="29" height="1" fill="#ffac00"/>
<rect x="133" y="141" width="29" height="1" fill="#ffaf00"/>
<rect x="133" y="142" width="29" height="1" fill="#ffc600"/>
<rect x="133" y="143" width="29" height="1" fill="#ffcd00"/>
<rect x="133" y="144" width="29" height="1" fill="#ffc800"/>
<rect x="133" y="145" width="29" height="1" fill="#ffb600"/>
<rect x="133" y="146" width="29" height="1" fill="#ffc800"/>
<rect x="133" y="147" width="29" height="1" fill="#ffcd00"/>
<rect x="133" y="148" width="29" height="1" fill="#ffc300"/>
<rect x="133" y="149" width="29" height="1" fill="#ffaa00"/>
<rect x="133" y="150" width="29" height="1" fill="#ffa000"/>
<rect x="133" y="151" width="29" height="1" fill="#ffa000"/>
<rect x="133" y="152" width="29" height="1" fill="#ffaf00"/>
<rect x="133" y="153" width="29" height="1" fill="#ffd200"/>
<rect x="133" y="154" width="29" height="1" fill="#ffd400"/>
<rect x="133" y="155" width="29" height="1" fill="#ffb900"/>
<rect x="133" y="156" width="29" height="1" fill="#ffb400"/>
<rect x="133" y="157" width="29" height="1" fill="#ffd400"/>
<rect x="133" y="158" width="29" height="1" fill="#ffd700"/>
<rect x="133" y="159" width="29" height="1" fill="#ffc600"/>
<rect x="133" y="160" width="29" height="1" fill="#ffc300"/>
<rect x="133" y="161" width="29" height="1" fill="#ffc300"/>
<rect x="133" y="162" width="29" height="1" fill="#ffc600"/>
<rect x="136" y="59" width="30" height="1" fill="#00ff14"/>
<rect x="136" y="60" width="30" height="1" fill="#00ff14"/>
<rect x="136" y="61" width="30" height="1" fill="#3cff00"/>
<rect x="136" y="62" width="30" height="1" fill="#beff00"/>
<rect x="136" y="63" width="30" height="1" fill="#c8ff00"/>
<rect x="136" y="64" width="30" height="1" fill="#beff00"/>
<rect x="136" y="65" width="30" height="1" fill="#78ff00"/>
<rect x="136" y="66" width="30" height="1" fill="#14ff00"/>
<rect x="136" y="67" width="30" height="1" fill="#0aff00"/>
<rect x="136" y="68" width="30" height="1" fill="#14ff00"/>
<rect x="136" y="69" width="30" height="1" fill="url(#a1)"/>
<rect x="136" y="70" width="30" height="1" fill="url(#a2)"/>
<rect x="136" y="71" width="30" height="1" fill="url(#a3)"/>
<rect x="136" y="72" width="30" height="1" fill="#96ff00"/>
<rect x="136" y="73" width="30" height="1" fill="#a0ff00"/>
<rect x="136" y="74" width="30" height="1" fill="#96ff00"/>
<rect x="136" y="75" width="30" height="1" fill="#8cff00"/>
<rect x="136" y="76" width="30" height="1" fill="#6eff00"/>
<rect x="136" y="77" width="30" height="1" fill="#3cff00"/>
<rect x="136" y="78" width="30" height="1" fill="#28ff00"/>
<rect x="136" y="79" width="30" height="1" fill="#14ff00"/>
<rect x="136" y="80" width="30" height="1" fill="#00ff14"/>
<rect x="136" y="81" width="30" height="1" fill="#00ff28"/>
<rect x="136" y="82" width="30" height="1" fill="#00ff28"/>
<rect x="136" y="83" width="30" height="1" fill="#00ff32"/>
<rect x="136" y="84" width="30" height="1" fill="#00ff5a"/>
<rect x="136" y="85" width="30" height="1" fill="#00ff64"/>
<rect x="136" y="86" width="30" height="1" fill="#00ff50"/>
<rect x="136" y="87" width="30" height="1" fill="#00ff32"/>
<rect x="136" y="88" width="30" height="1" fill="#00ff28"/>
<rect x="136" y="89" width="30" height="1" fill="#00ff28"/>
<rect x="136" y="90" width="30" height="1" fill="#00ff1e"/>
<rect x="136" y="91" width="30" height="1" fill="#00ff1e"/>
<rect x="136" y="92" width="30" height="1" fill="#00ff1e"/>
<rect x="136" y="93" width="30" height="1" fill="#00ff1e"/>
<rect x="136" y="94" width="30" height="1" fill="#00ff1e"/>
<rect x="136" y="95" width="30" height="1" fill="url(#a4)"/>
<rect x="136" y="96" width="30" height="1" fill="url(#a5)"/>
<rect x="136" y="97" width="30" height="1" fill="#00ff28"/>
<rect x="136" y="98" width="30" height="1" fill="#00ff64"/>
<rect x="136" y="99" width="30" height="1" fill="#00ff6e"/>
<rect x="136" y="100" width="30" height="1" fill="#00ff64"/>
<rect x="136" y="101" width="30" height="1" fill="#00ff1e"/>
<rect x="136" y="102" width="30" height="1" fill="url(#a6)"/>
<rect x="136" y="103" width="30" height="1" fill="url(#a7)"/>
<rect x="136" y="104" width="30" height="1" fill="url(#a8)"/>
<rect x="136" y="105" width="30" height="1" fill="url(#a9)"/>
<rect x="136" y="106" width="30" height="1" fill="url(#a10)"/>
<rect x="136" y="107" width="30" height="1" fill="url(#a11)"/>
<rect x="136" y="108" width="30" height="1" fill="url(#a12)"/>
<rect x="136" y="109" width="30" height="1" fill="url(#a13)"/>
<rect x="136" y="110" width="30" height="1" fill="#ffcd00"/>
<rect x="136" y="111" width="30" height="1" fill="#ffbe00"/>
<rect x="136" y="112" width="30" height="1" fill="#ffb400"/>
<rect x="136" y="113" width="30" height="1" fill="#ffaf00"/>
<rect x="136" y="114" width="30" height="1" fill="#ffaa00"/>
<rect x="136" y="115" width="30" height="1" fill="#ffa500"/>
<rect x="136" y="116" width="30" height="1" fill="url(#a14)"/>
<rect x="136" y="117" width="30" height="1" fill="url(#a15)"/>
<rect x="136" y="118" width="30" height="1" fill="#ff9600"/>
<rect x="136" y="119" width="30" height="1" fill="#ffa500"/>
<rect x="136" y="120" width="30" height="1" fill="#ffb400"/>
<rect x="136" y="121" width="30" height="1" fill="#ffc300"/>
<rect x="136" y="122" width="30" height="1" fill="#ffd200"/>
<rect x="136" y="123" width="30" height="1" fill="#ffd700"/>
<rect x="136" y="124" width="30" height="1" fill="#ffcd00"/>
<rect x="136" y="125" width="30" height="1" fill="#ffbe00"/>
<rect x="136" y="126" width="30" height="1" fill="#ffb900"/>
<rect x="136" y="127" width="30" height="1" fill="#ffbe00"/>
<rect x="136" y="128" width="30" height="1" fill="#ffc800"/>
<rect x="136" y="129" width="30" height="1" fill="#ffc800"/>
<rect x="206" y="129" width="59" height="1" fill="url(#a16)"/>
<rect x="206" y="130" width="59" height="1" fill="url(#a17)"/>
<rect x="206" y="131" width="59" height="1" fill="url(#a18)"/>
<rect x="206" y="132" width="59" height="1" fill="url(#a19)"/>
<rect x="206" y="133" width="59" height="1" fill="url(#a20)"/>
<rect x="206" y="134" width="59" height="1" fill="url(#a21)"/>
<rect x="206" y="135" width="59" height="1" fill="url(#a22)"/>
<rect x="206" y="136" width="59" height="1" fill="url(#a23)"/>
<rect x="206" y="137" width="59" height="1" fill="url(#a24)"/>
<rect x="206" y="138" width="59" height="1" fill="url(#a25)"/>
<rect x="206" y="139" width="59" height="1" fill="url(#a26)"/>
<rect x="206" y="140" width="59" height="1" fill="url(#a27)"/>
<rect x="206" y="141" width="59" height="1" fill="url(#a28)"/>
<rect x="206" y="142" width="59" height="1" fill="url(#a29)"/>
<rect x="206" y="143" width="59" height="1" fill="url(#a30)"/>
<rect x="206" y="144" width="59" height="1" fill="url(#a31)"/>
<rect x="206" y="145" width="59" height="1" fill="url(#a32)"/>
<rect x="206" y="146" width="59" height="1" fill="url(#a33)"/>
<rect x="206" y="147" width="59" height="1" fill="url(#a34)"/>
<rect x="206" y="148" width="59" height="1" fill="url(#a35)"/>
<rect x="206" y="149" width="59" height="1" fill="url(#a36)"/>
<rect x="206" y="150" width="59" height="1" fill="url(#a37)"/>
<rect x="206" y="151" width="59" height="1" fill="url(#a38)"/>
<rect x="206" y="152" width="59" height="1" fill="url(#a39)"/>
<rect x="206" y="153" width="59" height="1" fill="url(#a40)"/>
<rect x="206" y="154" width="59" height="1" fill="url(#a41)"/>
<rect x="206" y="155" width="59" height="1" fill="url(#a42)"/>
<rect x="206" y="156" width="59" height="1" fill="url(#a43)"/>
<rect x="206" y="157" width="59" height="1" fill="url(#a44)"/>
<rect x="206" y="158" width="59" height="1" fill="url(#a45)"/>
<rect x="206" y="159" width="59" height="1" fill="url(#a46)"/>
<rect x="206" y="160" width="59" height="1" fill="url(#a47)"/>
<rect x="206" y="161" width="59" height="1" fill="url(#a48)"/>
<rect x="206" y="162" width="59" height="1" fill="url(#a49)"/>
<rect x="209" y="102" width="59" height="1" fill="url(#a50)"/>
<rect x="209" y="103" width="59" height="1" fill="url(#a51)"/>
<rect x="209" y="104" width="59" height="1" fill="#00ff00"/>
<rect x="209" y="105" width="59" height="1" fill="#00ff00"/>
<rect x="209" y="106" width="59" height="1" fill="url(#a52)"/>
<rect x="209" y="107" width="59" height="1" fill="url(#a53)"/>
<rect x="209" y="108" width="59" height="1" fill="url(#a54)"/>
<rect x="209" y="109" width="59" height="1" fill="#00ff0a"/>
<rect x="209" y="110" width="59" height="1" fill="url(#a55)"/>
<rect x="209" y="111" width="59" height="1" fill="#0aff00"/>
<rect x="209" y="112" width="59" height="1" fill="#00ff00"/>
<rect x="209" y="113" width="59" height="1" fill="#14ff00"/>
<rect x="209" y="114" width="59" height="1" fill="url(#a56)"/>
<rect x="209" y="115" width="59" height="1" fill="url(#a57)"/>
<rect x="209" y="116" width="59" height="1" fill="#14ff00"/>
<rect x="209" y="117" width="59" height="1" fill="url(#a58)"/>
<rect x="209" y="118" width="59" height="1" fill="url(#a59)"/>
<rect x="209" y="119" width="59" height="1" fill="url(#a60)"/>
<rect x="209" y="120" width="59" height="1" fill="url(#a61)"/>
<rect x="209" y="121" width="59" height="1" fill="url(#a62)"/>
<rect x="209" y="122" width="59" height="1" fill="url(#a63)"/>
<rect x="209" y="123" width="59" height="1" fill="url(#a64)"/>
<rect x="209" y="124" width="59" height="1" fill="url(#a65)"/>
<rect x="209" y="125" width="59" height="1" fill="url(#a66)"/>
<rect x="209" y="126" width="59" height="1" fill="url(#a67)"/>
<rect x="209" y="127" width="59" height="1" fill="url(#a68)"/>
<rect x="209" y="128" width="59" height="1" fill="url(#a69)"/>
<rect x="209" y="129" width="59" height="1" fill="url(#a70)"/>
<rect x="209" y="59" width="1" height="1" fill="#00ff0a"/>
<rect x="209" y="60" width="1" height="1" fill="#00ff0a"/>
<rect x="209" y="61" width="1" height="1" fill="#00ff0a"/>
<rect x="209" y="62" width="1" height="1" fill="#aaff00"/>
<rect x="209" y="63" width="1" height="1" fill="#aaff00"/>
<rect x="209" y="64" width="1" height="1" fill="#aaff00"/>
<rect x="209" y="65" width="1" height="1" fill="#00ff0a"/>
<rect x="209" y="66" width="1" height="1" fill="#00ff0a"/>
<rect x="209" y="67" width="1" height="1" fill="#00ff0a"/>
<rect x="209" y="68" width="1" height="1" fill="#f0ff00"/>
<rect x="209" y="69" width="1" height="1" fill="#f0ff00"/>
<rect x="209" y="70" width="1" height="1" fill="#00ff0a"/>
<rect x="209" y="71" width="1" height="1" fill="#00ff0a"/>
<rect x="209" y="72" width="1" height="1" fill="#00ff0a"/>
<rect x="209" y="73" width="1" height="1" fill="#00ff0a"/>
<rect x="209" y="74" width="1" height="1" fill="#00ff0a"/>
<rect x="209" y="75" width="1" height="1" fill="#00ff28"/>
<rect x="209" y="76" width="1" height="1" fill="#00ff28"/>
<rect x="209" y="77" width="1" height="1" fill="#00ff28"/>
<rect x="209" y="78" width="1" height="1" fill="#00ff28"/>
<rect x="209" y="79" width="1" height="1" fill="#00ff28"/>
<rect x="209" y="80" width="1" height="1" fill="#00ff5a"/>
<rect x="209" y="81" width="1" height="1" fill="#00ff5a"/>
<rect x="209" y="82" width="1" height="1" fill="#00ff5a"/>
<rect x="209" y="83" width="1" height="1" fill="#00ff5a"/>
<rect x="209" y="84" width="1" height="1" fill="#00ff5a"/>
<rect x="209" y="85" width="1" height="1" fill="#00ff5a"/>
<rect x="209" y="86" width="1" height="1" fill="#00ff5a"/>
<rect x="209" y="87" width="1" height="1" fill="#00ff5a"/>
<rect x="209" y="88" width="1" height="1" fill="#00ff5a"/>
<rect x="209" y="89" width="1" height="1" fill="#00ff5a"/>
<rect x="209" y="90" width="1" height="1" fill="#00ff5a"/>
<rect x="209" y="91" width="1" height="1" fill="#00ff5a"/>
<rect x="209" y="92" width="1" height="1" fill="#00ff5a"/>
<rect x="209" y="93" width="1" height="1" fill="#00ff5a"/>
<rect x="209" y="94" width="1" height="1" fill="#00ff5a"/>
<rect x="209" y="95" width="1" height="1" fill="#00ff5a"/>
<rect x="209" y="96" width="1" height="1" fill="#00ff0a"/>
<rect x="209" y="97" width="1" height="1" fill="#00ff0a"/>
<rect x="209" y="98" width="1" height="1" fill="#00ff0a"/>
<rect x="209" y="99" width="1" height="1" fill="#00ff0a"/>
<rect x="209" y="100" width="1" height="1" fill="#ffd700"/>
<rect x="209" y="101" width="1" height="1" fill="#ffd700"/>
<rect x="267" y="59" width="1" height="1" fill="#00ff0a"/>
<rect x="267" y="60" width="1" height="1" fill="#00ff0a"/>
<rect x="267" y="61" width="1" height="1" fill="#00ff0a"/>
<rect x="267" y="62" width="1" height="1" fill="#aaff00"/>
<rect x="267" y="63" width="1" height="1" fill="#aaff00"/>
<rect x="267" y="64" width="1" height="1" fill="#aaff00"/>
<rect x="267" y="65" width="1" height="1" fill="#00ff0a"/>
<rect x="267" y="66" width="1" height="1" fill="#00ff0a"/>
<rect x="267" y="67" width="1" height="1" fill="#00ff0a"/>
<rect x="267" y="68" width="1" height="1" fill="#f0ff00"/>
<rect x="267" y="69" width="1" height="1" fill="#f0ff00"/>
<rect x="267" y="70" width="1" height="1" fill="#00ff0a"/>
<rect x="267" y="71" width="1" height="1" fill="#00ff0a"/>
<rect x="267" y="72" width="1" height="1" fill="#00ff0a"/>
<rect x="267" y="73" width="1" height="1" fill="#00ff0a"/>
<rect x="267" y="74" width="1" height="1" fill="#00ff0a"/>
<rect x="267" y="75" width="1" height="1" fill="#00ff28"/>
<rect x="267" y="76" width="1" height="1" fill="#00ff28"/>
<rect x="267" y="77" width="1" height="1" fill="#00ff28"/>
<rect x="267" y="78" width="1" height="1" fill="#00ff28"/>
<rect x="267" y="79" width="1" height="1" fill="#00ff28"/>
<rect x="267" y="80" width="1" height="1" fill="#00ff5a"/>
<rect x="267" y="81" width="1" height="1" fill="#00ff5a"/>
<rect x="267" y="82" width="1" height="1" fill="#00ff5a"/>
<rect x="267" y="83" width="1" height="1" fill="#00ff5a"/>
<rect x="267" y="84" width="1" height="1" fill="#00ff5a"/>
<rect x="267" y="85" width="1" height="1" fill="#00ff5a"/>
<rect x="267" y="86" width="1" height="1" fill="#00ff5a"/>
<rect x="267" y="87" width="1" height="1" fill="#00ff5a"/>
<rect x="267" y="88" width="1" height="1" fill="#00ff5a"/>
<rect x="267" y="89" width="1" height="1" fill="#00ff5a"/>
<rect x="267" y="90" width="1" height="1" fill="#00ff5a"/>
<rect x="267" y="91" width="1" height="1" fill="#00ff5a"/>
<rect x="267" y="92" width="1" height="1" fill="#00ff5a"/>
<rect x="267" y="93" width="1" height="1" fill="#00ff5a"/>
<rect x="267" y="94" width="1" height="1" fill="#00ff5a"/>
<rect x="267" y="95" width="1" height="1" fill="#00ff5a"/>
<rect x="267" y="96" width="1" height="1" fill="#00ff0a"/>
<rect x="267" y="97" width="1" height="1" fill="#00ff0a"/>
<rect x="267" y="98" width="1" height="1" fill="#00ff0a"/>
<rect x="267" y="99" width="1" height="1" fill="#00ff0a"/>
<rect x="267" y="100" width="1" height="1" fill="#ffd700"/>
<rect x="267" y="101" width="1" height="1" fill="#ffd700"/>
<rect x="309" y="129" width="58" height="1" fill="url(#a71)"/>
<rect x="309" y="130" width="58" height="1" fill="url(#a72)"/>
<rect x="309" y="131" width="58" height="1" fill="url(#a73)"/>
<rect x="309" y="132" width="58" height="1" fill="url(#a74)"/>
<rect x="309" y="133" width="58" height="1" fill="url(#a75)"/>
<rect x="309" y="134" width="58" height="1" fill="url(#a76)"/>
<rect x="309" y="135" width="58" height="1" fill="url(#a77)"/>
<rect x="309" y="136" width="58" height="1" fill="url(#a78)"/>
<rect x="309" y="137" width="58" height="1" fill="url(#a79)"/>
<rect x="309" y="138" width="58" height="1" fill="url(#a80)"/>
<rect x="309" y="139" width="58" height="1" fill="url(#a81)"/>
<rect x="309" y="140" width="58" height="1" fill="url(#a82)"/>
<rect x="309" y="141" width="58" height="1" fill="#f5ff00"/>
<rect x="309" y="142" width="58" height="1" fill="#f5ff00"/>
<rect x="309" y="143" width="58" height="1" fill="url(#a83)"/>
<rect x="309" y="144" width="58" height="1" fill="url(#a84)"/>
<rect x="309" y="145" width="58" height="1" fill="url(#a85)"/>
<rect x="309" y="146" width="58" height="1" fill="url(#a86)"/>
<rect x="309" y="147" width="58" height="1" fill="url(#a87)"/>
<rect x="309" y="148" width="58" height="1" fill="url(#a88)"/>
<rect x="309" y="149" width="58" height="1" fill="url(#a89)"/>
<rect x="309" y="150" width="58" height="1" fill="url(#a90)"/>
<rect x="309" y="151" width="58" height="1" fill="url(#a91)"/>
<rect x="309" y="152" width="58" height="1" fill="url(#a92)"/>
<rect x="309" y="153" width="58" height="1" fill="url(#a93)"/>
<rect x="309" y="154" width="58" height="1" fill="url(#a94)"/>
<rect x="309" y="155" width="58" height="1" fill="url(#a95)"/>
<rect x="309" y="156" width="58" height="1" fill="url(#a96)"/>
<rect x="309" y="157" width="58" height="1" fill="url(#a97)"/>
<rect x="309" y="158" width="58" height="1" fill="url(#a98)"/>
<rect x="309" y="159" width="58" height="1" fill="url(#a99)"/>
<rect x="309" y="160" width="58" height="1" fill="url(#a100)"/>
<rect x="309" y="161" width="58" height="1" fill="url(#a101)"/>
<rect x="309" y="162" width="58" height="1" fill="url(#a102)"/>
<rect x="312" y="59" width="59" height="1" fill="#00ff14"/>
<rect x="312" y="60" width="59" height="1" fill="#00ff14"/>
<rect x="312" y="61" width="59" height="1" fill="#1eff00"/>
<rect x="312" y="62" width="59" height="1" fill="#96ff00"/>
<rect x="312" y="63" width="59" height="1" fill="url(#a103)"/>
<rect x="312" y="64" width="59" height="1" fill="#64ff00"/>
<rect x="312" y="65" width="59" height="1" fill="url(#a104)"/>
<rect x="312" y="66" width="59" height="1" fill="#0aff00"/>
<rect x="312" y="67" width="59" height="1" fill="url(#a105)"/>
<rect x="312" y="68" width="59" height="1" fill="url(#a106)"/>
<rect x="312" y="69" width="59" height="1" fill="#00ff46"/>
<rect x="312" y="70" width="59" height="1" fill="url(#a107)"/>
<rect x="312" y="71" width="59" height="1" fill="url(#a108)"/>
<rect x="312" y="72" width="59" height="1" fill="url(#a109)"/>
<rect x="312" y="73" width="59" height="1" fill="url(#a110)"/>
<rect x="312" y="74" width="59" height="1" fill="url(#a111)"/>
<rect x="312" y="75" width="59" height="1" fill="url(#a112)"/>
<rect x="312" y="76" width="59" height="1" fill="url(#a113)"/>
<rect x="312" y="77" width="59" height="1" fill="url(#a114)"/>
<rect x="312" y="78" width="59" height="1" fill="url(#a115)"/>
<rect x="312" y="79" width="59" height="1" fill="url(#a116)"/>
<rect x="312" y="80" width="59" height="1" fill="url(#a117)"/>
<rect x="312" y="81" width="59" height="1" fill="url(#a118)"/>
<rect x="312" y="82" width="59" height="1" fill="url(#a119)"/>
<rect x="312" y="83" width="59" height="1" fill="url(#a120)"/>
<rect x="312" y="84" width="59" height="1" fill="url(#a121)"/>
<rect x="312" y="85" width="59" height="1" fill="url(#a122)"/>
<rect x="312" y="86" width="59" height="1" fill="#00ff96"/>
<rect x="312" y="87" width="59" height="1" fill="url(#a123)"/>
<rect x="312" y="88" width="59" height="1" fill="url(#a124)"/>
<rect x="312" y="89" width="59" height="1" fill="url(#a125)"/>
<rect x="312" y="90" width="59" height="1" fill="url(#a126)"/>
<rect x="312" y="91" width="59" height="1" fill="url(#a127)"/>
<rect x="312" y="92" width="59" height="1" fill="url(#a128)"/>
<rect x="312" y="93" width="59" height="1" fill="#00ff96"/>
<rect x="312" y="94" width="59" height="1" fill="#00ff96"/>
<rect x="312" y="95" width="59" height="1" fill="#00ff87"/>
<rect x="312" y="96" width="59" height="1" fill="#00ff7d"/>
<rect x="312" y="97" width="59" height="1" fill="#00ff64"/>
<rect x="312" y="98" width="59" height="1" fill="url(#a129)"/>
<rect x="312" y="99" width="59" height="1" fill="url(#a130)"/>
<rect x="312" y="100" width="59" height="1" fill="url(#a131)"/>
<rect x="312" y="101" width="59" height="1" fill="#ebff00"/>
<rect x="312" y="102" width="59" height="1" fill="url(#a132)"/>
<rect x="312" y="103" width="59" height="1" fill="url(#a133)"/>
<rect x="312" y="104" width="59" height="1" fill="url(#a134)"/>
<rect x="312" y="105" width="59" height="1" fill="url(#a135)"/>
<rect x="312" y="106" width="59" height="1" fill="#14ff00"/>
<rect x="312" y="107" width="59" height="1" fill="#28ff00"/>
<rect x="312" y="108" width="59" height="1" fill="#14ff00"/>
<rect x="312" y="109" width="59" height="1" fill="#32ff00"/>
<rect x="312" y="110" width="59" height="1" fill="#14ff00"/>
<rect x="312" y="111" width="59" height="1" fill="#28ff00"/>
<rect x="312" y="112" width="59" height="1" fill="#14ff00"/>
<rect x="312" y="113" width="59" height="1" fill="#32ff00"/>
<rect x="312" y="114" width="59" height="1" fill="#14ff00"/>
<rect x="312" y="115" width="59" height="1" fill="#1eff00"/>
<rect x="312" y="116" width="59" height="1" fill="#1eff00"/>
<rect x="312" y="117" width="59" height="1" fill="#50ff00"/>
<rect x="312" y="118" width="59" height="1" fill="#0aff00"/>
<rect x="312" y="119" width="59" height="1" fill="#00ff00"/>
<rect x="312" y="120" width="59" height="1" fill="#0aff00"/>
<rect x="312" y="121" width="59" height="1" fill="#00ff00"/>
<rect x="312" y="122" width="59" height="1" fill="#0aff00"/>
<rect x="312" y="123" width="59" height="1" fill="#0aff00"/>
<rect x="312" y="124" width="59" height="1" fill="url(#a136)"/>
<rect x="312" y="125" width="59" height="1" fill="url(#a137)"/>
<rect x="312" y="126" width="59" height="1" fill="url(#a138)"/>
<rect x="312" y="127" width="59" height="1" fill="url(#a139)"/>
<rect x="312" y="128" width="59" height="1" fill="url(#a140)"/>
<rect x="312" y="129" width="59" height="1" fill="url(#a141)"/>
<rect x="411" y="129" width="59" height="1" fill="url(#a142)"/>
<rect x="411" y="130" width="59" height="1" fill="url(#a143)"/>
<rect x="411" y="131" width="59" height="1" fill="url(#a144)"/>
<rect x="411" y="132" width="59" height="1" fill="url(#a145)"/>
<rect x="411" y="133" width="59" height="1" fill="url(#a146)"/>
<rect x="411" y="134" width="59" height="1" fill="url(#a147)"/>
<rect x="411" y="135" width="59" height="1" fill="url(#a148)"/>
<rect x="411" y="136" width="59" height="1" fill="url(#a149)"/>
<rect x="411" y="137" width="59" height="1" fill="url(#a150)"/>
<rect x="411" y="138" width="59" height="1" fill="url(#a151)"/>
<rect x="411" y="139" width="59" height="1" fill="url(#a152)"/>
<rect x="411" y="140" width="59" height="1" fill="url(#a153)"/>
<rect x="411" y="141" width="59" height="1" fill="url(#a154)"/>
<rect x="411" y="142" width="59" height="1" fill="url(#a155)"/>
<rect x="411" y="143" width="59" height="1" fill="url(#a156)"/>
<rect x="411" y="144" width="59" height="1" fill="url(#a157)"/>
<rect x="411" y="145" width="59" height="1" fill="url(#a158)"/>
<rect x="411" y="146" width="59" height="1" fill="url(#a159)"/>
<rect x="411" y="147" width="59" height="1" fill="url(#a160)"/>
<rect x="411" y="148" width="59" height="1" fill="url(#a161)"/>
<rect x="411" y="149" width="59" height="1" fill="url(#a162)"/>
<rect x="411" y="150" width="59" height="1" fill="url(#a163)"/>
<rect x="411" y="151" width="59" height="1" fill="url(#a164)"/>
<rect x="411" y="152" width="59" height="1" fill="url(#a165)"/>
<rect x="411" y="153" width="59" height="1" fill="url(#a166)"/>
<rect x="411" y="154" width="59" height="1" fill="url(#a167)"/>
<rect x="411" y="155" width="59" height="1" fill="url(#a168)"/>
<rect x="411" y="156" width="59" height="1" fill="url(#a169)"/>
<rect x="411" y="157" width="59" height="1" fill="url(#a170)"/>
<rect x="411" y="158" width="59" height="1" fill="url(#a171)"/>
<rect x="411" y="159" width="59" height="1" fill="url(#a172)"/>
<rect x="411" y="160" width="59" height="1" fill="url(#a173)"/>
<rect x="411" y="161" width="59" height="1" fill="url(#a174)"/>
<rect x="411" y="162" width="59" height="1" fill="url(#a175)"/>
<rect x="414" y="59" width="59" height="1" fill="#00ff14"/>
<rect x="414" y="60" width="59" height="1" fill="#00ff14"/>
<rect x="414" y="61" width="59" height="1" fill="#6eff00"/>
<rect x="414" y="62" width="59" height="1" fill="#82ff00"/>
<rect x="414" y="63" width="59" height="1" fill="#87ff00"/>
<rect x="414" y="64" width="59" height="1" fill="#78ff00"/>
<rect x="414" y="65" width="59" height="1" fill="#1eff00"/>
<rect x="414" y="66" width="59" height="1" fill="#00ff0a"/>
<rect x="414" y="67" width="59" height="1" fill="#00ff14"/>
<rect x="414" y="68" width="59" height="1" fill="#00ff78"/>
<rect x="414" y="69" width="59" height="1" fill="#00ff8c"/>
<rect x="414" y="70" width="59" height="1" fill="#00ffd2"/>
<rect x="414" y="71" width="59" height="1" fill="#00ffdc"/>
<rect x="414" y="72" width="59" height="1" fill="#00ffd7"/>
<rect x="414" y="73" width="59" height="1" fill="url(#a176)"/>
<rect x="414" y="74" width="59" height="1" fill="url(#a177)"/>
<rect x="414" y="75" width="59" height="1" fill="#00ffd2"/>
<rect x="414" y="76" width="59" height="1" fill="#00ffdc"/>
<rect x="414" y="77" width="59" height="1" fill="#00ffeb"/>
<rect x="414" y="78" width="59" height="1" fill="#00ffe6"/>
<rect x="414" y="79" width="59" height="1" fill="#00ffd7"/>
<rect x="414" y="80" width="59" height="1" fill="#00ffd2"/>
<rect x="414" y="81" width="59" height="1" fill="#00ffd2"/>
<rect x="414" y="82" width="59" height="1" fill="#00ffd2"/>
<rect x="414" y="83" width="59" height="1" fill="#00ffd2"/>
<rect x="414" y="84" width="59" height="1" fill="#00ffd2"/>
<rect x="414" y="85" width="59" height="1" fill="#00ff8c"/>
<rect x="414" y="86" width="59" height="1" fill="#00ff96"/>
<rect x="414" y="87" width="59" height="1" fill="#00ffaa"/>
<rect x="414" y="88" width="59" height="1" fill="#00ffa5"/>
<rect x="414" y="89" width="59" height="1" fill="#00ffaf"/>
<rect x="414" y="90" width="59" height="1" fill="url(#a178)"/>
<rect x="414" y="91" width="59" height="1" fill="url(#a179)"/>
<rect x="414" y="92" width="59" height="1" fill="url(#a180)"/>
<rect x="414" y="93" width="59" height="1" fill="url(#a181)"/>
<rect x="414" y="94" width="59" height="1" fill="url(#a182)"/>
<rect x="414" y="95" width="59" height="1" fill="url(#a183)"/>
<rect x="414" y="96" width="59" height="1" fill="url(#a184)"/>
<rect x="414" y="97" width="59" height="1" fill="url(#a185)"/>
<rect x="414" y="98" width="59" height="1" fill="url(#a186)"/>
<rect x="414" y="99" width="59" height="1" fill="url(#a187)"/>
<rect x="414" y="100" width="59" height="1" fill="#00ff46"/>
<rect x="414" y="101" width="59" height="1" fill="url(#a188)"/>
<rect x="414" y="102" width="59" height="1" fill="url(#a189)"/>
<rect x="414" y="103" width="59" height="1" fill="url(#a190)"/>
<rect x="414" y="104" width="59" height="1" fill="url(#a191)"/>
<rect x="414" y="105" width="59" height="1" fill="#00ff5a"/>
<rect x="414" y="106" width="59" height="1" fill="url(#a192)"/>
<rect x="414" y="107" width="59" height="1" fill="url(#a193)"/>
<rect x="414" y="108" width="59" height="1" fill="url(#a194)"/>
<rect x="414" y="109" width="59" height="1" fill="url(#a195)"/>
<rect x="414" y="110" width="59" height="1" fill="url(#a196)"/>
<rect x="414" y="111" width="59" height="1" fill="#00ff5f"/>
<rect x="414" y="112" width="59" height="1" fill="#00ff55"/>
<rect x="414" y="113" width="59" height="1" fill="#00ff5a"/>
<rect x="414" y="114" width="59" height="1" fill="#00ff1e"/>
<rect x="414" y="115" width="59" height="1" fill="url(#a197)"/>
<rect x="414" y="116" width="59" height="1" fill="url(#a198)"/>
<rect x="414" y="117" width="59" height="1" fill="url(#a199)"/>
<rect x="414" y="118" width="59" height="1" fill="url(#a200)"/>
<rect x="414" y="119" width="59" height="1" fill="url(#a201)"/>
<rect x="414" y="120" width="59" height="1" fill="url(#a202)"/>
<rect x="414" y="121" width="59" height="1" fill="url(#a203)"/>
<rect x="414" y="122" width="59" height="1" fill="url(#a204)"/>
<rect x="414" y="123" width="59" height="1" fill="url(#a205)"/>
<rect x="414" y="124" width="59" height="1" fill="#96ff00"/>
<rect x="414" y="125" width="59" height="1" fill="url(#a206)"/>
<rect x="414" y="126" width="59" height="1" fill="url(#a207)"/>
<rect x="414" y="127" width="59" height="1" fill="url(#a208)"/>
<rect x="414" y="128" width="59" height="1" fill="url(#a209)"/>
<rect x="414" y="129" width="59" height="1" fill="url(#a210)"/>
<rect x="514" y="129" width="58" height="1" fill="url(#a211)"/>
<rect x="514" y="130" width="58" height="1" fill="url(#a212)"/>
<rect x="514" y="131" width="58" height="1" fill="#00ff1e"/>
<rect x="514" y="132" width="58" height="1" fill="#14ff00"/>
<rect x="514" y="133" width="58" height="1" fill="#14ff00"/>
<rect x="514" y="134" width="58" height="1" fill="#14ff00"/>
<rect x="514" y="135" width="58" height="1" fill="#19ff00"/>
<rect x="514" y="136" width="58" height="1" fill="url(#a213)"/>
<rect x="514" y="137" width="58" height="1" fill="url(#a214)"/>
<rect x="514" y="138" width="58" height="1" fill="#14ff00"/>
<rect x="514" y="139" width="58" height="1" fill="#14ff00"/>
<rect x="514" y="140" width="58" height="1" fill="url(#a215)"/>
<rect x="514" y="141" width="58" height="1" fill="url(#a216)"/>
<rect x="514" y="142" width="58" height="1" fill="url(#a217)"/>
<rect x="514" y="143" width="58" height="1" fill="url(#a218)"/>
<rect x="514" y="144" width="58" height="1" fill="url(#a219)"/>
<rect x="514" y="145" width="58" height="1" fill="url(#a220)"/>
<rect x="514" y="146" width="58" height="1" fill="url(#a221)"/>
<rect x="514" y="147" width="58" height="1" fill="#1eff00"/>
<rect x="514" y="148" width="58" height="1" fill="#1eff00"/>
<rect x="514" y="149" width="58" height="1" fill="url(#a222)"/>
<rect x="514" y="150" width="58" height="1" fill="url(#a223)"/>
<rect x="514" y="151" width="58" height="1" fill="url(#a224)"/>
<rect x="514" y="152" width="58" height="1" fill="#3cff00"/>
<rect x="514" y="153" width="58" height="1" fill="#3cff00"/>
<rect x="514" y="154" width="58" height="1" fill="url(#a225)"/>
<rect x="514" y="155" width="58" height="1" fill="url(#a226)"/>
<rect x="514" y="156" width="58" height="1" fill="url(#a227)"/>
<rect x="514" y="157" width="58" height="1" fill="url(#a228)"/>
<rect x="514" y="158" width="58" height="1" fill="url(#a229)"/>
<rect x="514" y="159" width="58" height="1" fill="url(#a230)"/>
<rect x="514" y="160" width="58" height="1" fill="#00ff00"/>
<rect x="514" y="161" width="58" height="1" fill="#00ff00"/>
<rect x="514" y="162" width="58" height="1" fill="#00ff00"/>
<rect x="517" y="102" width="59" height="1" fill="#00ff8c"/>
<rect x="517" y="103" width="59" height="1" fill="#00ff8c"/>
<rect x="517" y="104" width="59" height="1" fill="#00ff8c"/>
<rect x="517" y="105" width="59" height="1" fill="#00ff82"/>
<rect x="517" y="106" width="59" height="1" fill="#00ff82"/>
<rect x="517" y="107" width="59" height="1" fill="#00ffb9"/>
<rect x="517" y="108" width="59" height="1" fill="#00ffb9"/>
<rect x="517" y="109" width="59" height="1" fill="url(#a231)"/>
<rect x="517" y="110" width="59" height="1" fill="url(#a232)"/>
<rect x="517" y="111" width="59" height="1" fill="url(#a233)"/>
<rect x="517" y="112" width="59" height="1" fill="url(#a234)"/>
<rect x="517" y="113" width="59" height="1" fill="#00ff8c"/>
<rect x="517" y="114" width="59" height="1" fill="#00ff5a"/>
<rect x="517" y="115" width="59" height="1" fill="#00ff78"/>
<rect x="517" y="116" width="59" height="1" fill="#00ff78"/>
<rect x="517" y="117" width="59" height="1" fill="#00ff3c"/>
<rect x="517" y="118" width="59" height="1" fill="#00ff64"/>
<rect x="517" y="119" width="59" height="1" fill="#00ff64"/>
<rect x="517" y="120" width="59" height="1" fill="url(#a235)"/>
<rect x="517" y="121" width="59" height="1" fill="url(#a236)"/>
<rect x="517" y="122" width="59" height="1" fill="url(#a237)"/>
<rect x="517" y="123" width="59" height="1" fill="url(#a238)"/>
<rect x="517" y="124" width="59" height="1" fill="url(#a239)"/>
<rect x="517" y="125" width="59" height="1" fill="url(#a240)"/>
<rect x="517" y="126" width="59" height="1" fill="url(#a241)"/>
<rect x="517" y="127" width="59" height="1" fill="url(#a242)"/>
<rect x="517" y="128" width="59" height="1" fill="url(#a243)"/>
<rect x="517" y="129" width="59" height="1" fill="url(#a244)"/>
<rect x="517" y="59" width="30" height="1" fill="#00ff14"/>
<rect x="517" y="60" width="30" height="1" fill="#00ff14"/>
<rect x="517" y="61" width="30" height="1" fill="#78ff00"/>
<rect x="517" y="62" width="30" height="1" fill="#8cff00"/>
<rect x="517" y="63" width="30" height="1" fill="#91ff00"/>
<rect x="517" y="64" width="30" height="1" fill="#82ff00"/>
<rect x="517" y="65" width="30" height="1" fill="#1eff00"/>
<rect x="517" y="66" width="30" height="1" fill="#00ff0a"/>
<rect x="517" y="67" width="30" height="1" fill="#00ff14"/>
<rect x="517" y="68" width="30" height="1" fill="#00ff8c"/>
<rect x="517" y="69" width="30" height="1" fill="#00ffa0"/>
<rect x="517" y="70" width="30" height="1" fill="#00ffd7"/>
<rect x="517" y="71" width="30" height="1" fill="#00ffd7"/>
<rect x="517" y="72" width="30" height="1" fill="#00ffd7"/>
<rect x="517" y="73" width="30" height="1" fill="#00ffd7"/>
<rect x="517" y="74" width="30" height="1" fill="#00ffd7"/>
<rect x="517" y="75" width="30" height="1" fill="#00ffd7"/>
<rect x="517" y="76" width="30" height="1" fill="#00ff14"/>
<rect x="517" y="77" width="30" height="1" fill="#00ff78"/>
<rect x="517" y="78" width="30" height="1" fill="#00ffe1"/>
<rect x="517" y="79" width="30" height="1" fill="#00ffe1"/>
<rect x="517" y="80" width="30" height="1" fill="#00ffd7"/>
<rect x="517" y="81" width="30" height="1" fill="#00ffcd"/>
<rect x="517" y="82" width="30" height="1" fill="#00ffc8"/>
<rect x="517" y="83" width="30" height="1" fill="#00ffc3"/>
<rect x="517" y="84" width="30" height="1" fill="#00ffb9"/>
<rect x="517" y="85" width="30" height="1" fill="#00ff6e"/>
<rect x="517" y="86" width="30" height="1" fill="#00ff82"/>
<rect x="517" y="87" width="30" height="1" fill="#00ffa0"/>
<rect x="517" y="88" width="30" height="1" fill="#00ffa0"/>
<rect x="517" y="89" width="30" height="1" fill="#00ffa0"/>
<rect x="517" y="90" width="30" height="1" fill="#00ffb4"/>
<rect x="517" y="91" width="30" height="1" fill="#00ffb4"/>
<rect x="517" y="92" width="30" height="1" fill="#00ffb4"/>
<rect x="517" y="93" width="30" height="1" fill="#00ffa0"/>
<rect x="517" y="94" width="30" height="1" fill="#00ffa0"/>
<rect x="517" y="95" width="30" height="1" fill="#00ffa0"/>
<rect x="517" y="96" width="30" height="1" fill="#00ffa0"/>
<rect x="517" y="97" width="30" height="1" fill="#00ffa0"/>
<rect x="517" y="98" width="30" height="1" fill="#00ffa0"/>
<rect x="517" y="99" width="30" height="1" fill="#00ffa0"/>
<rect x="517" y="100" width="30" height="1" fill="#00ff46"/>
<rect x="517" y="101" width="30" height="1" fill="#00ff4b"/>
<rect x="616" y="129" width="1" height="1" fill="#3cff00"/>
<rect x="616" y="130" width="1" height="1" fill="#3cff00"/>
<rect x="616" y="131" width="1" height="1" fill="#3cff00"/>
<rect x="616" y="132" width="1" height="1" fill="#3cff00"/>
<rect x="616" y="133" width="1" height="1" fill="#a0ff00"/>
<rect x="616" y="134" width="1" height="1" fill="#a0ff00"/>
<rect x="616" y="135" width="1" height="1" fill="#50ff00"/>
<rect x="616" y="136" width="1" height="1" fill="#50ff00"/>
<rect x="616" y="137" width="1" height="1" fill="#50ff00"/>
<rect x="616" y="138" width="1" height="1" fill="#e6ff00"/>
<rect x="616" y="139" width="1" height="1" fill="#64ff00"/>
<rect x="616" y="140" width="1" height="1" fill="#64ff00"/>
<rect x="616" y="141" width="1" height="1" fill="#64ff00"/>
<rect x="616" y="142" width="1" height="1" fill="#f0ff00"/>
<rect x="616" y="143" width="1" height="1" fill="#78ff00"/>
<rect x="616" y="144" width="1" height="1" fill="#78ff00"/>
<rect x="616" y="145" width="1" height="1" fill="#78ff00"/>
<rect x="616" y="146" width="1" height="1" fill="#78ff00"/>
<rect x="616" y="147" width="1" height="1" fill="#78ff00"/>
<rect x="616" y="148" width="1" height="1" fill="#fff500"/>
<rect x="616" y="149" width="1" height="1" fill="#fff500"/>
<rect x="616" y="150" width="1" height="1" fill="#82ff00"/>
<rect x="616" y="151" width="1" height="1" fill="#82ff00"/>
<rect x="616" y="152" width="1" height="1" fill="#82ff00"/>
<rect x="616" y="153" width="1" height="1" fill="#fff000"/>
<rect x="616" y="154" width="1" height="1" fill="#fff000"/>
<rect x="616" y="155" width="1" height="1" fill="#8cff00"/>
<rect x="616" y="156" width="1" height="1" fill="#8cff00"/>
<rect x="616" y="157" width="1" height="1" fill="#1eff00"/>
<rect x="616" y="158" width="1" height="1" fill="#1eff00"/>
<rect x="616" y="159" width="1" height="1" fill="#1eff00"/>
<rect x="616" y="160" width="1" height="1" fill="#1eff00"/>
<rect x="616" y="161" width="1" height="1" fill="#1eff00"/>
<rect x="616" y="162" width="1" height="1" fill="#1eff00"/>
<rect x="616" y="129" width="4" height="1" fill="#3cff00"/>
<rect x="619" y="102" width="1" height="1" fill="#00ff96"/>
<rect x="619" y="103" width="1" height="1" fill="#00ff96"/>
<rect x="619" y="104" width="1" height="1" fill="#00ff96"/>
<rect x="619" y="105" width="1" height="1" fill="#00ff96"/>
<rect x="619" y="106" width="1" height="1" fill="#00ff96"/>
<rect x="619" y="107" width="1" height="1" fill="#00ff96"/>
<rect x="619" y="108" width="1" height="1" fill="#00ff96"/>
<rect x="619" y="109" width="1" height="1" fill="#00ff78"/>
<rect x="619" y="110" width="1" height="1" fill="#00ff78"/>
<rect x="619" y="111" width="1" height="1" fill="#00ff78"/>
<rect x="619" y="112" width="1" height="1" fill="#00ff78"/>
<rect x="619" y="113" width="1" height="1" fill="#00ff1e"/>
<rect x="619" y="114" width="1" height="1" fill="#00ff1e"/>
<rect x="619" y="115" width="1" height="1" fill="#00ff1e"/>
<rect x="619" y="116" width="1" height="1" fill="#00ff1e"/>
<rect x="619" y="117" width="1" height="1" fill="#00ff1e"/>
<rect x="619" y="118" width="1" height="1" fill="#00ff1e"/>
<rect x="619" y="119" width="1" height="1" fill="#00ff1e"/>
<rect x="619" y="120" width="1" height="1" fill="#00ff1e"/>
<rect x="619" y="121" width="1" height="1" fill="#00ff1e"/>
<rect x="619" y="122" width="1" height="1" fill="#00ff1e"/>
<rect x="619" y="123" width="1" height="1" fill="#00ff1e"/>
<rect x="619" y="124" width="1" height="1" fill="#96ff00"/>
<rect x="619" y="125" width="1" height="1" fill="#fff000"/>
<rect x="619" y="126" width="1" height="1" fill="#ffc800"/>
<rect x="619" y="127" width="1" height="1" fill="#c8ff00"/>
<rect x="619" y="128" width="1" height="1" fill="#64ff00"/>
<rect x="619" y="129" width="1" height="1" fill="#3cff00"/>
<rect x="133" y="293" width="29" height="1" fill="#ffd700"/>
<rect x="133" y="294" width="29" height="1" fill="#ffd200"/>
<rect x="133" y="295" width="29" height="1" fill="#ffc800"/>
<rect x="133" y="296" width="29" height="1" fill="#ffaf00"/>
<rect x="133" y="297" width="29" height="1" fill="#ffb400"/>
<rect x="133" y="298" width="29" height="1" fill="#ffc800"/>
<rect x="133" y="299" width="29" height="1" fill="#ffaa00"/>
<rect x="133" y="300" width="29" height="1" fill="#ffc300"/>
<rect x="133" y="301" width="29" height="1" fill="#ffcd00"/>
<rect x="133" y="302" width="29" height="1" fill="#ffc800"/>
<rect x="133" y="303" width="29" height="1" fill="#ffac00"/>
<rect x="133" y="304" width="29" height="1" fill="#ffaf00"/>
<rect x="133" y="305" width="29" height="1" fill="#ffc600"/>
<rect x="133" y="306" width="29" height="1" fill="#ffcd00"/>
<rect x="133" y="307" width="29" height="1" fill="#ffc800"/>
<rect x="133" y="308" width="29" height="1" fill="#ffc800"/>
<rect x="133" y="309" width="29" height="1" fill="#ffb600"/>
<rect x="133" y="310" width="29" height="1" fill="#ffc800"/>
<rect x="133" y="311" width="29" height="1" fill="#ffcd00"/>
<rect x="133" y="312" width="29" height="1" fill="#ffc300"/>
<rect x="133" y="313" width="29" height="1" fill="#ffaa00"/>
<rect x="133" y="314" width="29" height="1" fill="#ffa000"/>
<rect x="133" y="315" width="29" height="1" fill="#ffa000"/>
<rect x="133" y="316" width="29" height="1" fill="#ffaf00"/>
<rect x="133" y="317" width="29" height="1" fill="#ffd200"/>
<rect x="133" y="318" width="29" height="1" fill="#ffd400"/>
<rect x="133" y="319" width="29" height="1" fill="#ffb900"/>
<rect x="133" y="320" width="29" height="1" fill="#ffb400"/>
<rect x="133" y="321" width="29" height="1" fill="#ffd400"/>
<rect x="133" y="322" width="29" height="1" fill="#ffd700"/>
<rect x="133" y="323" width="29" height="1" fill="#ffc600"/>
<rect x="133" y="324" width="29" height="1" fill="#ffc300"/>
<rect x="133" y="325" width="29" height="1" fill="#ffc300"/>
<rect x="133" y="326" width="29" height="1" fill="#ffc600"/>
<rect x="136" y="222" width="30" height="1" fill="#00ff14"/>
<rect x="136" y="223" width="30" height="1" fill="#00ff14"/>
<rect x="136" y="224" width="30" height="1" fill="#3cff00"/>
<rect x="136" y="225" width="30" height="1" fill="#beff00"/>
<rect x="136" y="226" width="30" height="1" fill="#c8ff00"/>
<rect x="136" y="227" width="30" height="1" fill="#beff00"/>
<rect x="136" y="228" width="30" height="1" fill="#78ff00"/>
<rect x="136" y="229" width="30" height="1" fill="#14ff00"/>
<rect x="136" y="230" width="30" height="1" fill="#0aff00"/>
<rect x="136" y="231" width="30" height="1" fill="#14ff00"/>
<rect x="136" y="232" width="30" height="1" fill="url(#b245)"/>
<rect x="136" y="233" width="30" height="1" fill="url(#b246)"/>
<rect x="136" y="234" width="30" height="1" fill="url(#b247)"/>
<rect x="136" y="235" width="30" height="1" fill="#96ff00"/>
<rect x="136" y="236" width="30" height="1" fill="#a0ff00"/>
<rect x="136" y="237" width="30" height="1" fill="#96ff00"/>
<rect x="136" y="238" width="30" height="1" fill="#8cff00"/>
<rect x="136" y="239" width="30" height="1" fill="#6eff00"/>
<rect x="136" y="240" width="30" height="1" fill="#3cff00"/>
<rect x="136" y="241" width="30" height="1" fill="#28ff00"/>
<rect x="136" y="242" width="30" height="1" fill="#14ff00"/>
<rect x="136" y="243" width="30" height="1" fill="#00ff14"/>
<rect x="136" y="244" width="30" height="1" fill="#00ff28"/>
<rect x="136" y="245" width="30" height="1" fill="#00ff28"/>
<rect x="136" y="246" width="30" height="1" fill="#00ff32"/>
<rect x="136" y="247" width="30" height="1" fill="#00ff5a"/>
<rect x="136" y="248" width="30" height="1" fill="#00ff64"/>
<rect x="136" y="249" width="30" height="1" fill="#00ff50"/>
<rect x="136" y="250" width="30" height="1" fill="#00ff32"/>
<rect x="136" y="251" width="30" height="1" fill="#00ff28"/>
<rect x="136" y="252" width="30" height="1" fill="#00ff28"/>
<rect x="136" y="253" width="30" height="1" fill="#00ff1e"/>
<rect x="136" y="254" width="30" height="1" fill="#00ff1e"/>
<rect x="136" y="255" width="30" height="1" fill="#00ff1e"/>
<rect x="136" y="256" width="30" height="1" fill="#00ff1e"/>
<rect x="136" y="257" width="30" height="1" fill="#00ff1e"/>
<rect x="136" y="258" width="30" height="1" fill="url(#b248)"/>
<rect x="136" y="259" width="30" height="1" fill="url(#b249)"/>
<rect x="136" y="260" width="30" height="1" fill="#00ff28"/>
<rect x="136" y="261" width="30" height="1" fill="#00ff64"/>
<rect x="136" y="262" width="30" height="1" fill="#00ff6e"/>
<rect x="136" y="263" width="30" height="1" fill="#00ff64"/>
<rect x="136" y="264" width="30" height="1" fill="#00ff1e"/>
<rect x="136" y="265" width="30" height="1" fill="url(#b250)"/>
<rect x="136" y="266" width="30" height="1" fill="url(#b251)"/>
<rect x="136" y="267" width="30" height="1" fill="url(#b252)"/>
<rect x="136" y="268" width="30" height="1" fill="url(#b253)"/>
<rect x="136" y="269" width="30" height="1" fill="url(#b254)"/>
<rect x="136" y="270" width="30" height="1" fill="url(#b255)"/>
<rect x="136" y="271" width="30" height="1" fill="url(#b256)"/>
<rect x="136" y="272" width="30" height="1" fill="url(#b257)"/>
<rect x="136" y="273" width="30" height="1" fill="#ffcd00"/>
<rect x="136" y="274" width="30" height="1" fill="#ffbe00"/>
<rect x="136" y="275" width="30" height="1" fill="#ffb400"/>
<rect x="136" y="276" width="30" height="1" fill="#ffaf00"/>
<rect x="136" y="277" width="30" height="1" fill="#ffaa00"/>
<rect x="136" y="278" width="30" height="1" fill="#ffa500"/>
<rect x="136" y="279" width="30" height="1" fill="url(#b258)"/>
<rect x="136" y="280" width="30" height="1" fill="url(#b259)"/>
<rect x="136" y="281" width="30" height="1" fill="#ff9600"/>
<rect x="136" y="282" width="30" height="1" fill="#ffa500"/>
<rect x="136" y="283" width="30" height="1" fill="#ffb400"/>
<rect x="136" y="284" width="30" height="1" fill="#ffc300"/>
<rect x="136" y="285" width="30" height="1" fill="#ffd200"/>
<rect x="136" y="286" width="30" height="1" fill="#ffd700"/>
<rect x="136" y="287" width="30" height="1" fill="#ffcd00"/>
<rect x="136" y="288" width="30" height="1" fill="#ffbe00"/>
<rect x="136" y="289" width="30" height="1" fill="#ffb900"/>
<rect x="136" y="290" width="30" height="1" fill="#ffbe00"/>
<rect x="136" y="291" width="30" height="1" fill="#ffc800"/>
<rect x="136" y="292" width="30" height="1" fill="#ffc800"/>
<rect x="206" y="293" width="59" height="1" fill="url(#b260)"/>
<rect x="206" y="294" width="59" height="1" fill="url(#b261)"/>
<rect x="206" y="295" width="59" height="1" fill="url(#b262)"/>
<rect x="206" y="296" width="59" height="1" fill="url(#b263)"/>
<rect x="206" y="297" width="59" height="1" fill="url(#b264)"/>
<rect x="206" y="298" width="59" height="1" fill="url(#b265)"/>
<rect x="206" y="299" width="59" height="1" fill="url(#b266)"/>
<rect x="206" y="300" width="59" height="1" fill="url(#b267)"/>
<rect x="206" y="301" width="59" height="1" fill="url(#b268)"/>
<rect x="206" y="302" width="59" height="1" fill="url(#b269)"/>
<rect x="206" y="303" width="59" height="1" fill="url(#b270)"/>
<rect x="206" y="304" width="59" height="1" fill="url(#b271)"/>
<rect x="206" y="305" width="59" height="1" fill="url(#b272)"/>
<rect x="206" y="306" width="59" height="1" fill="url(#b273)"/>
<rect x="206" y="307" width="59" height="1" fill="url(#b274)"/>
<rect x="206" y="308" width="59" height="1" fill="url(#b275)"/>
<rect x="206" y="309" width="59" height="1" fill="url(#b276)"/>
<rect x="206" y="310" width="59" height="1" fill="url(#b277)"/>
<rect x="206" y="311" width="59" height="1" fill="url(#b278)"/>
<rect x="206" y="312" width="59" height="1" fill="url(#b279)"/>
<rect x="206" y="313" width="59" height="1" fill="url(#b280)"/>
<rect x="206" y="314" width="59" height="1" fill="url(#b281)"/>
<rect x="206" y="315" width="59" height="1" fill="url(#b282)"/>
<rect x="206" y="316" width="59" height="1" fill="url(#b283)"/>
<rect x="206" y="317" width="59" height="1" fill="url(#b284)"/>
<rect x="206" y="318" width="59" height="1" fill="url(#b285)"/>
<rect x="206" y="319" width="59" height="1" fill="url(#b286)"/>
<rect x="206" y="320" width="59" height="1" fill="url(#b287)"/>
<rect x="206" y="321" width="59" height="1" fill="url(#b288)"/>
<rect x="206" y="322" width="59" height="1" fill="url(#b289)"/>
<rect x="206" y="323" width="59" height="1" fill="url(#b290)"/>
<rect x="206" y="324" width="59" height="1" fill="url(#b291)"/>
<rect x="206" y="325" width="59" height="1" fill="url(#b292)"/>
<rect x="206" y="326" width="59" height="1" fill="url(#b293)"/>
<rect x="209" y="265" width="59" height="1" fill="url(#b294)"/>
<rect x="209" y="266" width="59" height="1" fill="url(#b295)"/>
<rect x="209" y="267" width="59" height="1" fill="#00ff00"/>
<rect x="209" y="268" width="59" height="1" fill="#00ff00"/>
<rect x="209" y="269" width="59" height="1" fill="url(#b296)"/>
<rect x="209" y="270" width="59" height="1" fill="url(#b297)"/>
<rect x="209" y="271" width="59" height="1" fill="url(#b298)"/>
<rect x="209" y="272" width="59" height="1" fill="#00ff0a"/>
<rect x="209" y="273" width="59" height="1" fill="url(#b299)"/>
<rect x="209" y="274" width="59" height="1" fill="#0aff00"/>
<rect x="209" y="275" width="59" height="1" fill="#00ff00"/>
<rect x="209" y="276" width="59" height="1" fill="#14ff00"/>
<rect x="209" y="277" width="59" height="1" fill="url(#b300)"/>
<rect x="209" y="278" width="59" height="1" fill="url(#b301)"/>
<rect x="209" y="279" width="59" height="1" fill="#14ff00"/>
<rect x="209" y="280" width="59" height="1" fill="url(#b302)"/>
<rect x="209" y="281" width="59" height="1" fill="url(#b303)"/>
<rect x="209" y="282" width="59" height="1" fill="url(#b304)"/>
<rect x="209" y="283" width="59" height="1" fill="url(#b305)"/>
<rect x="209" y="284" width="59" height="1" fill="url(#b306)"/>
<rect x="209" y="285" width="59" height="1" fill="url(#b307)"/>
<rect x="209" y="286" width="59" height="1" fill="url(#b308)"/>
<rect x="209" y="287" width="59" height="1" fill="url(#b309)"/>
<rect x="209" y="288" width="59" height="1" fill="url(#b310)"/>
<rect x="209" y="289" width="59" height="1" fill="url(#b311)"/>
<rect x="209" y="290" width="59" height="1" fill="url(#b312)"/>
<rect x="209" y="291" width="59" height="1" fill="url(#b313)"/>
<rect x="209" y="292" width="59" height="1" fill="url(#b314)"/>
<rect x="209" y="222" width="1" height="1" fill="#00ff0a"/>
<rect x="209" y="223" width="1" height="1" fill="#00ff0a"/>
<rect x="209" y="224" width="1" height="1" fill="#00ff0a"/>
<rect x="209" y="225" width="1" height="1" fill="#aaff00"/>
<rect x="209" y="226" width="1" height="1" fill="#aaff00"/>
<rect x="209" y="227" width="1" height="1" fill="#aaff00"/>
<rect x="209" y="228" width="1" height="1" fill="#00ff0a"/>
<rect x="209" y="229" width="1" height="1" fill="#00ff0a"/>
<rect x="209" y="230" width="1" height="1" fill="#00ff0a"/>
<rect x="209" y="231" width="1" height="1" fill="#f0ff00"/>
<rect x="209" y="232" width="1" height="1" fill="#f0ff00"/>
<rect x="209" y="233" width="1" height="1" fill="#00ff0a"/>
<rect x="209" y="234" width="1" height="1" fill="#00ff0a"/>
<rect x="209" y="235" width="1" height="1" fill="#00ff0a"/>
<rect x="209" y="236" width="1" height="1" fill="#00ff0a"/>
<rect x="209" y="237" width="1" height="1" fill="#00ff0a"/>
<rect x="209" y="238" width="1" height="1" fill="#00ff28"/>
<rect x="209" y="239" width="1" height="1" fill="#00ff28"/>
<rect x="209" y="240" width="1" height="1" fill="#00ff28"/>
<rect x="209" y="241" width="1" height="1" fill="#00ff28"/>
<rect x="209" y="242" width="1" height="1" fill="#00ff28"/>
<rect x="209" y="243" width="1" height="1" fill="#00ff5a"/>
<rect x="209" y="244" width="1" height="1" fill="#00ff5a"/>
<rect x="209" y="245" width="1" height="1" fill="#00ff5a"/>
<rect x="209" y="246" width="1" height="1" fill="#00ff5a"/>
<rect x="209" y="247" width="1" height="1" fill="#00ff5a"/>
<rect x="209" y="248" width="1" height="1" fill="#00ff5a"/>
<rect x="209" y="249" width="1" height="1" fill="#00ff5a"/>
<rect x="209" y="250" width="1" height="1" fill="#00ff5a"/>
<rect x="209" y="251" width="1" height="1" fill="#00ff5a"/>
<rect x="209" y="252" width="1" height="1" fill="#00ff5a"/>
<rect x="209" y="253" width="1" height="1" fill="#00ff5a"/>
<rect x="209" y="254" width="1" height="1" fill="#00ff5a"/>
<rect x="209" y="255" width="1" height="1" fill="#00ff5a"/>
<rect x="209" y="256" width="1" height="1" fill="#00ff5a"/>
<rect x="209" y="257" width="1" height="1" fill="#00ff5a"/>
<rect x="209" y="258" width="1" height="1" fill="#00ff5a"/>
<rect x="209" y="259" width="1" height="1" fill="#00ff0a"/>
<rect x="209" y="260" width="1" height="1" fill="#00ff0a"/>
<rect x="209" y="261" width="1" height="1" fill="#00ff0a"/>
<rect x="209" y="262" width="1" height="1" fill="#00ff0a"/>
<rect x="209" y="263" width="1" height="1" fill="#ffd700"/>
<rect x="209" y="264" width="1" height="1" fill="#ffd700"/>
<rect x="267" y="222" width="1" height="1" fill="#00ff0a"/>
<rect x="267" y="223" width="1" height="1" fill="#00ff0a"/>
<rect x="267" y="224" width="1" height="1" fill="#00ff0a"/>
<rect x="267" y="225" width="1" height="1" fill="#aaff00"/>
<rect x="267" y="226" width="1" height="1" fill="#aaff00"/>
<rect x="267" y="227" width="1" height="1" fill="#aaff00"/>
<rect x="267" y="228" width="1" height="1" fill="#00ff0a"/>
<rect x="267" y="229" width="1" height="1" fill="#00ff0a"/>
<rect x="267" y="230" width="1" height="1" fill="#00ff0a"/>
<rect x="267" y="231" width="1" height="1" fill="#f0ff00"/>
<rect x="267" y="232" width="1" height="1" fill="#f0ff00"/>
<rect x="267" y="233" width="1" height="1" fill="#00ff0a"/>
<rect x="267" y="234" width="1" height="1" fill="#00ff0a"/>
<rect x="267" y="235" width="1" height="1" fill="#00ff0a"/>
<rect x="267" y="236" width="1" height="1" fill="#00ff0a"/>
<rect x="267" y="237" width="1" height="1" fill="#00ff0a"/>
<rect x="267" y="238" width="1" height="1" fill="#00ff28"/>
<rect x="267" y="239" width="1" height="1" fill="#00ff28"/>
<rect x="267" y="240" width="1" height="1" fill="#00ff28"/>
<rect x="267" y="241" width="1" height="1" fill="#00ff28"/>
<rect x="267" y="242" width="1" height="1" fill="#00ff28"/>
<rect x="267" y="243" width="1" height="1" fill="#00ff5a"/>
<rect x="267" y="244" width="1" height="1" fill="#00ff5a"/>
<rect x="267" y="245" width="1" height="1" fill="#00ff5a"/>
<rect x="267" y="246" width="1" height="1" fill="#00ff5a"/>
<rect x="267" y="247" width="1" height="1" fill="#00ff5a"/>
<rect x="267" y="248" width="1" height="1" fill="#00ff5a"/>
<rect x="267" y="249" width="1" height="1" fill="#00ff5a"/>
<rect x="267" y="250" width="1" height="1" fill="#00ff5a"/>
<rect x="267" y="251" width="1" height="1" fill="#00ff5a"/>
<rect x="267" y="252" width="1" height="1" fill="#00ff5a"/>
<rect x="267" y="253" width="1" height="1" fill="#00ff5a"/>
<rect x="267" y="254" width="1" height="1" fill="#00ff5a"/>
<rect x="267" y="255" width="1" height="1" fill="#00ff5a"/>
<rect x="267" y="256" width="1" height="1" fill="#00ff5a"/>
<rect x="267" y="257" width="1" height="1" fill="#00ff5a"/>
<rect x="267" y="258" width="1" height="1" fill="#00ff5a"/>
<rect x="267" y="259" width="1" height="1" fill="#00ff0a"/>
<rect x="267" y="260" width="1" height="1" fill="#00ff0a"/>
<rect x="267" y="261" width="1" height="1" fill="#00ff0a"/>
<rect x="267" y="262" width="1" height="1" fill="#00ff0a"/>
<rect x="267" y="263" width="1" height="1" fill="#ffd700"/>
<rect x="267" y="264" width="1" height="1" fill="#ffd700"/>
<rect x="309" y="293" width="58" height="1" fill="url(#b315)"/>
<rect x="309" y="294" width="58" height="1" fill="url(#b316)"/>
<rect x="309" y="295" width="58" height="1" fill="url(#b317)"/>
<rect x="309" y="296" width="58" height="1" fill="url(#b318)"/>
<rect x="309" y="297" width="58" height="1" fill="url(#b319)"/>
<rect x="309" y="298" width="58" height="1" fill="url(#b320)"/>
<rect x="309" y="299" width="58" height="1" fill="url(#b321)"/>
<rect x="309" y="300" width="58" height="1" fill="url(#b322)"/>
<rect x="309" y="301" width="58" height="1" fill="url(#b323)"/>
<rect x="309" y="302" width="58" height="1" fill="url(#b324)"/>
<rect x="309" y="303" width="58" height="1" fill="url(#b325)"/>
<rect x="309" y="304" width="58" height="1" fill="#f5ff00"/>
<rect x="309" y="305" width="58" height="1" fill="#f5ff00"/>
<rect x="309" y="306" width="58" height="1" fill="url(#b326)"/>
<rect x="309" y="307" width="58" height="1" fill="url(#b327)"/>
<rect x="309" y="308" width="58" height="1" fill="url(#b328)"/>
<rect x="309" y="309" width="58" height="1" fill="url(#b329)"/>
<rect x="309" y="310" width="58" height="1" fill="url(#b330)"/>
<rect x="309" y="311" width="58" height="1" fill="url(#b331)"/>
<rect x="309" y="312" width="58" height="1" fill="url(#b332)"/>
<rect x="309" y="313" width="58" height="1" fill="url(#b333)"/>
<rect x="309" y="314" width="58" height="1" fill="url(#b334)"/>
<rect x="309" y="315" width="58" height="1" fill="url(#b335)"/>
<rect x="309" y="316" width="58" height="1" fill="url(#b336)"/>
<rect x="309" y="317" width="58" height="1" fill="url(#b337)"/>
<rect x="309" y="318" width="58" height="1" fill="url(#b338)"/>
<rect x="309" y="319" width="58" height="1" fill="url(#b339)"/>
<rect x="309" y="320" width="58" height="1" fill="url(#b340)"/>
<rect x="309" y="321" width="58" height="1" fill="url(#b341)"/>
<rect x="309" y="322" width="58" height="1" fill="url(#b342)"/>
<rect x="309" y="323" width="58" height="1" fill="url(#b343)"/>
<rect x="309" y="324" width="58" height="1" fill="url(#b344)"/>
<rect x="309" y="325" width="58" height="1" fill="url(#b345)"/>
<rect x="309" y="326" width="58" height="1" fill="url(#b346)"/>
<rect x="312" y="222" width="59" height="1" fill="#00ff14"/>
<rect x="312" y="223" width="59" height="1" fill="#00ff14"/>
<rect x="312" y="224" width="59" height="1" fill="#1eff00"/>
<rect x="312" y="225" width="59" height="1" fill="#96ff00"/>
<rect x="312" y="226" width="59" height="1" fill="url(#b347)"/>
<rect x="312" y="227" width="59" height="1" fill="#64ff00"/>
<rect x="312" y="228" width="59" height="1" fill="url(#b348)"/>
<rect x="312" y="229" width="59" height="1" fill="#0aff00"/>
<rect x="312" y="230" width="59" height="1" fill="url(#b349)"/>
<rect x="312" y="231" width="59" height="1" fill="url(#b350)"/>
<rect x="312" y="232" width="59" height="1" fill="#00ff46"/>
<rect x="312" y="233" width="59" height="1" fill="url(#b351)"/>
<rect x="312" y="234" width="59" height="1" fill="url(#b352)"/>
<rect x="312" y="235" width="59" height="1" fill="url(#b353)"/>
<rect x="312" y="236" width="59" height="1" fill="url(#b354)"/>
<rect x="312" y="237" width="59" height="1" fill="url(#b355)"/>
<rect x="312" y="238" width="59" height="1" fill="url(#b356)"/>
<rect x="312" y="239" width="59" height="1" fill="url(#b357)"/>
<rect x="312" y="240" width="59" height="1" fill="url(#b358)"/>
<rect x="312" y="241" width="59" height="1" fill="url(#b359)"/>
<rect x="312" y="242" width="59" height="1" fill="url(#b360)"/>
<rect x="312" y="243" width="59" height="1" fill="url(#b361)"/>
<rect x="312" y="244" width="59" height="1" fill="url(#b362)"/>
<rect x="312" y="245" width="59" height="1" fill="url(#b363)"/>
<rect x="312" y="246" width="59" height="1" fill="url(#b364)"/>
<rect x="312" y="247" width="59" height="1" fill="url(#b365)"/>
<rect x="312" y="248" width="59" height="1" fill="url(#b366)"/>
<rect x="312" y="249" width="59" height="1" fill="#00ff96"/>
<rect x="312" y="250" width="59" height="1" fill="url(#b367)"/>
<rect x="312" y="251" width="59" height="1" fill="url(#b368)"/>
<rect x="312" y="252" width="59" height="1" fill="url(#b369)"/>
<rect x="312" y="253" width="59" height="1" fill="url(#b370)"/>
<rect x="312" y="254" width="59" height="1" fill="url(#b371)"/>
<rect x="312" y="255" width="59" height="1" fill="url(#b372)"/>
<rect x="312" y="256" width="59" height="1" fill="#00ff96"/>
<rect x="312" y="257" width="59" height="1" fill="#00ff96"/>
<rect x="312" y="258" width="59" height="1" fill="#00ff87"/>
<rect x="312" y="259" width="59" height="1" fill="#00ff7d"/>
<rect x="312" y="260" width="59" height="1" fill="#00ff64"/>
<rect x="312" y="261" width="59" height="1" fill="url(#b373)"/>
<rect x="312" y="262" width="59" height="1" fill="url(#b374)"/>
<rect x="312" y="263" width="59" height="1" fill="url(#b375)"/>
<rect x="312" y="264" width="59" height="1" fill="#ebff00"/>
<rect x="312" y="265" width="59" height="1" fill="url(#b376)"/>
<rect x="312" y="266" width="59" height="1" fill="url(#b377)"/>
<rect x="312" y="267" width="59" height="1" fill="url(#b378)"/>
<rect x="312" y="268" width="59" height="1" fill="url(#b379)"/>
<rect x="312" y="269" width="59" height="1" fill="#14ff00"/>
<rect x="312" y="270" width="59" height="1" fill="#28ff00"/>
<rect x="312" y="271" width="59" height="1" fill="#14ff00"/>
<rect x="312" y="272" width="59" height="1" fill="#32ff00"/>
<rect x="312" y="273" width="59" height="1" fill="#14ff00"/>
<rect x="312" y="274" width="59" height="1" fill="#28ff00"/>
<rect x="312" y="275" width="59" height="1" fill="#14ff00"/>
<rect x="312" y="276" width="59" height="1" fill="#32ff00"/>
<rect x="312" y="277" width="59" height="1" fill="#14ff00"/>
<rect x="312" y="278" width="59" height="1" fill="#1eff00"/>
<rect x="312" y="279" width="59" height="1" fill="#1eff00"/>
<rect x="312" y="280" width="59" height="1" fill="#50ff00"/>
<rect x="312" y="281" width="59" height="1" fill="#0aff00"/>
<rect x="312" y="282" width="59" height="1" fill="#00ff00"/>
<rect x="312" y="283" width="59" height="1" fill="#0aff00"/>
<rect x="312" y="284" width="59" height="1" fill="#00ff00"/>
<rect x="312" y="285" width="59" height="1" fill="#0aff00"/>
<rect x="312" y="286" width="59" height="1" fill="#0aff00"/>
<rect x="312" y="287" width="59" height="1" fill="url(#b380)"/>
<rect x="312" y="288" width="59" height="1" fill="url(#b381)"/>
<rect x="312" y="289" width="59" height="1" fill="url(#b382)"/>
<rect x="312" y="290" width="59" height="1" fill="url(#b383)"/>
<rect x="312" y="291" width="59" height="1" fill="url(#b384)"/>
<rect x="312" y="292" width="59" height="1" fill="url(#b385)"/>
<rect x="411" y="293" width="59" height="1" fill="url(#b386)"/>
<rect x="411" y="294" width="59" height="1" fill="url(#b387)"/>
<rect x="411" y="295" width="59" height="1" fill="url(#b388)"/>
<rect x="411" y="296" width="59" height="1" fill="url(#b389)"/>
<rect x="411" y="297" width="59" height="1" fill="url(#b390)"/>
<rect x="411" y="298" width="59" height="1" fill="url(#b391)"/>
<rect x="411" y="299" width="59" height="1" fill="url(#b392)"/>
<rect x="411" y="300" width="59" height="1" fill="url(#b393)"/>
<rect x="411" y="301" width="59" height="1" fill="url(#b394)"/>
<rect x="411" y="302" width="59" height="1" fill="url(#b395)"/>
<rect x="411" y="303" width="59" height="1" fill="url(#b396)"/>
<rect x="411" y="304" width="59" height="1" fill="url(#b397)"/>
<rect x="411" y="305" width="59" height="1" fill="url(#b398)"/>
<rect x="411" y="306" width="59" height="1" fill="url(#b399)"/>
<rect x="411" y="307" width="59" height="1" fill="url(#b400)"/>
<rect x="411" y="308" width="59" height="1" fill="url(#b401)"/>
<rect x="411" y="309" width="59" height="1" fill="url(#b402)"/>
<rect x="411" y="310" width="59" height="1" fill="url(#b403)"/>
<rect x="411" y="311" width="59" height="1" fill="url(#b404)"/>
<rect x="411" y="312" width="59" height="1" fill="url(#b405)"/>
<rect x="411" y="313" width="59" height="1" fill="url(#b406)"/>
<rect x="411" y="314" width="59" height="1" fill="url(#b407)"/>
<rect x="411" y="315" width="59" height="1" fill="url(#b408)"/>
<rect x="411" y="316" width="59" height="1" fill="url(#b409)"/>
<rect x="411" y="317" width="59" height="1" fill="url(#b410)"/>
<rect x="411" y="318" width="59" height="1" fill="url(#b411)"/>
<rect x="411" y="319" width="59" height="1" fill="url(#b412)"/>
<rect x="411" y="320" width="59" height="1" fill="url(#b413)"/>
<rect x="411" y="321" width="59" height="1" fill="url(#b414)"/>
<rect x="411" y="322" width="59" height="1" fill="url(#b415)"/>
<rect x="411" y="323" width="59" height="1" fill="url(#b416)"/>
<rect x="411" y="324" width="59" height="1" fill="url(#b417)"/>
<rect x="411" y="325" width="59" height="1" fill="url(#b418)"/>
<rect x="411" y="326" width="59" height="1" fill="url(#b419)"/>
<rect x="414" y="222" width="59" height="1" fill="#00ff14"/>
<rect x="414" y="223" width="59" height="1" fill="#00ff14"/>
<rect x="414" y="224" width="59" height="1" fill="#6eff00"/>
<rect x="414" y="225" width="59" height="1" fill="#82ff00"/>
<rect x="414" y="226" width="59" height="1" fill="#87ff00"/>
<rect x="414" y="227" width="59" height="1" fill="#78ff00"/>
<rect x="414" y="228" width="59" height="1" fill="#1eff00"/>
<rect x="414" y="229" width="59" height="1" fill="#00ff0a"/>
<rect x="414" y="230" width="59" height="1" fill="#00ff14"/>
<rect x="414" y="231" width="59" height="1" fill="#00ff78"/>
<rect x="414" y="232" width="59" height="1" fill="#00ff8c"/>
<rect x="414" y="233" width="59" height="1" fill="#00ffd2"/>
<rect x="414" y="234" width="59" height="1" fill="#00ffdc"/>
<rect x="414" y="235" width="59" height="1" fill="#00ffd7"/>
<rect x="414" y="236" width="59" height="1" fill="url(#b420)"/>
<rect x="414" y="237" width="59" height="1" fill="url(#b421)"/>
<rect x="414" y="238" width="59" height="1" fill="#00ffd2"/>
<rect x="414" y="239" width="59" height="1" fill="#00ffdc"/>
<rect x="414" y="240" width="59" height="1" fill="#00ffeb"/>
<rect x="414" y="241" width="59" height="1" fill="#00ffe6"/>
<rect x="414" y="242" width="59" height="1" fill="#00ffd7"/>
<rect x="414" y="243" width="59" height="1" fill="#00ffd2"/>
<rect x="414" y="244" width="59" height="1" fill="#00ffd2"/>
<rect x="414" y="245" width="59" height="1" fill="#00ffd2"/>
<rect x="414" y="246" width="59" height="1" fill="#00ffd2"/>
<rect x="414" y="247" width="59" height="1" fill="#00ffd2"/>
<rect x="414" y="248" width="59" height="1" fill="#00ff8c"/>
<rect x="414" y="249" width="59" height="1" fill="#00ff96"/>
<rect x="414" y="250" width="59" height="1" fill="#00ffaa"/>
<rect x="414" y="251" width="59" height="1" fill="#00ffa5"/>
<rect x="414" y="252" width="59" height="1" fill="#00ffaf"/>
<rect x="414" y="253" width="59" height="1" fill="url(#b422)"/>
<rect x="414" y="254" width="59" height="1" fill="url(#b423)"/>
<rect x="414" y="255" width="59" height="1" fill="url(#b424)"/>
<rect x="414" y="256" width="59" height="1" fill="url(#b425)"/>
<rect x="414" y="257" width="59" height="1" fill="url(#b426)"/>
<rect x="414" y="258" width="59" height="1" fill="url(#b427)"/>
<rect x="414" y="259" width="59" height="1" fill="url(#b428)"/>
<rect x="414" y="260" width="59" height="1" fill="url(#b429)"/>
<rect x="414" y="261" width="59" height="1" fill="url(#b430)"/>
<rect x="414" y="262" width="59" height="1" fill="url(#b431)"/>
<rect x="414" y="263" width="59" height="1" fill="#00ff46"/>
<rect x="414" y="264" width="59" height="1" fill="url(#b432)"/>
<rect x="414" y="265" width="59" height="1" fill="url(#b433)"/>
<rect x="414" y="266" width="59" height="1" fill="url(#b434)"/>
<rect x="414" y="267" width="59" height="1" fill="url(#b435)"/>
<rect x="414" y="268" width="59" height="1" fill="#00ff5a"/>
<rect x="414" y="269" width="59" height="1" fill="url(#b436)"/>
<rect x="414" y="270" width="59" height="1" fill="url(#b437)"/>
<rect x="414" y="271" width="59" height="1" fill="url(#b438)"/>
<rect x="414" y="272" width="59" height="1" fill="url(#b439)"/>
<rect x="414" y="273" width="59" height="1" fill="url(#b440)"/>
<rect x="414" y="274" width="59" height="1" fill="#00ff5f"/>
<rect x="414" y="275" width="59" height="1" fill="#00ff55"/>
<rect x="414" y="276" width="59" height="1" fill="#00ff5a"/>
<rect x="414" y="277" width="59" height="1" fill="#00ff1e"/>
<rect x="414" y="278" width="59" height="1" fill="url(#b441)"/>
<rect x="414" y="279" width="59" height="1" fill="url(#b442)"/>
<rect x="414" y="280" width="59" height="1" fill="url(#b443)"/>
<rect x="414" y="281" width="59" height="1" fill="url(#b444)"/>
<rect x="414" y="282" width="59" height="1" fill="url(#b445)"/>
<rect x="414" y="283" width="59" height="1" fill="url(#b446)"/>
<rect x="414" y="284" width="59" height="1" fill="url(#b447)"/>
<rect x="414" y="285" width="59" height="1" fill="url(#b448)"/>
<rect x="414" y="286" width="59" height="1" fill="url(#b449)"/>
<rect x="414" y="287" width="59" height="1" fill="#96ff00"/>
<rect x="414" y="288" width="59" height="1" fill="url(#b450)"/>
<rect x="414" y="289" width="59" height="1" fill="url(#b451)"/>
<rect x="414" y="290" width="59" height="1" fill="url(#b452)"/>
<rect x="414" y="291" width="59" height="1" fill="url(#b453)"/>
<rect x="414" y="292" width="59" height="1" fill="url(#b454)"/>
<rect x="514" y="293" width="58" height="1" fill="url(#b455)"/>
<rect x="514" y="294" width="58" height="1" fill="#00ff1e"/>
<rect x="514" y="295" width="58" height="1" fill="#14ff00"/>
<rect x="514" y="296" width="58" height="1" fill="#14ff00"/>
<rect x="514" y="297" width="58" height="1" fill="#14ff00"/>
<rect x="514" y="298" width="58" height="1" fill="#19ff00"/>
<rect x="514" y="299" width="58" height="1" fill="url(#b456)"/>
<rect x="514" y="300" width="58" height="1" fill="url(#b457)"/>
<rect x="514" y="301" width="58" height="1" fill="#14ff00"/>
<rect x="514" y="302" width="58" height="1" fill="#14ff00"/>
<rect x="514" y="303" width="58" height="1" fill="url(#b458)"/>
<rect x="514" y="304" width="58" height="1" fill="url(#b459)"/>
<rect x="514" y="305" width="58" height="1" fill="url(#b460)"/>
<rect x="514" y="306" width="58" height="1" fill="url(#b461)"/>
<rect x="514" y="307" width="58" height="1" fill="url(#b462)"/>
<rect x="514" y="308" width="58" height="1" fill="url(#b463)"/>
<rect x="514" y="309" width="58" height="1" fill="url(#b464)"/>
<rect x="514" y="310" width="58" height="1" fill="url(#b465)"/>
<rect x="514" y="311" width="58" height="1" fill="#1eff00"/>
<rect x="514" y="312" width="58" height="1" fill="#1eff00"/>
<rect x="514" y="313" width="58" height="1" fill="url(#b466)"/>
<rect x="514" y="314" width="58" height="1" fill="url(#b467)"/>
<rect x="514" y="315" width="58" height="1" fill="url(#b468)"/>
<rect x="514" y="316" width="58" height="1" fill="#3cff00"/>
<rect x="514" y="317" width="58" height="1" fill="#3cff00"/>
<rect x="514" y="318" width="58" height="1" fill="url(#b469)"/>
<rect x="514" y="319" width="58" height="1" fill="url(#b470)"/>
<rect x="514" y="320" width="58" height="1" fill="url(#b471)"/>
<rect x="514" y="321" width="58" height="1" fill="url(#b472)"/>
<rect x="514" y="322" width="58" height="1" fill="url(#b473)"/>
<rect x="514" y="323" width="58" height="1" fill="url(#b474)"/>
<rect x="514" y="324" width="58" height="1" fill="#00ff00"/>
<rect x="514" y="325" width="58" height="1" fill="#00ff00"/>
<rect x="514" y="326" width="58" height="1" fill="#00ff00"/>
<rect x="517" y="265" width="59" height="1" fill="#00ff8c"/>
<rect x="517" y="266" width="59" height="1" fill="#00ff8c"/>
<rect x="517" y="267" width="59" height="1" fill="#00ff8c"/>
<rect x="517" y="268" width="59" height="1" fill="#00ff82"/>
<rect x="517" y="269" width="59" height="1" fill="#00ff82"/>
<rect x="517" y="270" width="59" height="1" fill="#00ffb9"/>
<rect x="517" y="271" width="59" height="1" fill="#00ffb9"/>
<rect x="517" y="272" width="59" height="1" fill="url(#b475)"/>
<rect x="517" y="273" width="59" height="1" fill="url(#b476)"/>
<rect x="517" y="274" width="59" height="1" fill="url(#b477)"/>
<rect x="517" y="275" width="59" height="1" fill="url(#b478)"/>
<rect x="517" y="276" width="59" height="1" fill="#00ff8c"/>
<rect x="517" y="277" width="59" height="1" fill="#00ff5a"/>
<rect x="517" y="278" width="59" height="1" fill="#00ff78"/>
<rect x="517" y="279" width="59" height="1" fill="#00ff78"/>
<rect x="517" y="280" width="59" height="1" fill="#00ff3c"/>
<rect x="517" y="281" width="59" height="1" fill="#00ff64"/>
<rect x="517" y="282" width="59" height="1" fill="#00ff64"/>
<rect x="517" y="283" width="59" height="1" fill="url(#b479)"/>
<rect x="517" y="284" width="59" height="1" fill="url(#b480)"/>
<rect x="517" y="285" width="59" height="1" fill="url(#b481)"/>
<rect x="517" y="286" width="59" height="1" fill="url(#b482)"/>
<rect x="517" y="287" width="59" height="1" fill="url(#b483)"/>
<rect x="517" y="288" width="59" height="1" fill="url(#b484)"/>
<rect x="517" y="289" width="59" height="1" fill="url(#b485)"/>
<rect x="517" y="290" width="59" height="1" fill="url(#b486)"/>
<rect x="517" y="291" width="59" height="1" fill="url(#b487)"/>
<rect x="517" y="292" width="59" height="1" fill="url(#b488)"/>
<rect x="517" y="222" width="30" height="1" fill="#00ff14"/>
<rect x="517" y="223" width="30" height="1" fill="#00ff14"/>
<rect x="517" y="224" width="30" height="1" fill="#78ff00"/>
<rect x="517" y="225" width="30" height="1" fill="#8cff00"/>
<rect x="517" y="226" width="30" height="1" fill="#91ff00"/>
<rect x="517" y="227" width="30" height="1" fill="#82ff00"/>
<rect x="517" y="228" width="30" height="1" fill="#1eff00"/>
<rect x="517" y="229" width="30" height="1" fill="#00ff0a"/>
<rect x="517" y="230" width="30" height="1" fill="#00ff14"/>
<rect x="517" y="231" width="30" height="1" fill="#00ff8c"/>
<rect x="517" y="232" width="30" height="1" fill="#00ffa0"/>
<rect x="517" y="233" width="30" height="1" fill="#00ffd7"/>
<rect x="517" y="234" width="30" height="1" fill="#00ffd7"/>
<rect x="517" y="235" width="30" height="1" fill="#00ffd7"/>
<rect x="517" y="236" width="30" height="1" fill="#00ffd7"/>
<rect x="517" y="237" width="30" height="1" fill="#00ffd7"/>
<rect x="517" y="238" width="30" height="1" fill="#00ffd7"/>
<rect x="517" y="239" width="30" height="1" fill="#00ff14"/>
<rect x="517" y="240" width="30" height="1" fill="#00ff78"/>
<rect x="517" y="241" width="30" height="1" fill="#00ffe1"/>
<rect x="517" y="242" width="30" height="1" fill="#00ffe1"/>
<rect x="517" y="243" width="30" height="1" fill="#00ffd7"/>
<rect x="517" y="244" width="30" height="1" fill="#00ffcd"/>
<rect x="517" y="245" width="30" height="1" fill="#00ffc8"/>
<rect x="517" y="246" width="30" height="1" fill="#00ffc3"/>
<rect x="517" y="247" width="30" height="1" fill="#00ffb9"/>
<rect x="517" y="248" width="30" height="1" fill="#00ff6e"/>
<rect x="517" y="249" width="30" height="1" fill="#00ff82"/>
<rect x="517" y="250" width="30" height="1" fill="#00ffa0"/>
<rect x="517" y="251" width="30" height="1" fill="#00ffa0"/>
<rect x="517" y="252" width="30" height="1" fill="#00ffa0"/>
<rect x="517" y="253" width="30" height="1" fill="#00ffb4"/>
<rect x="517" y="254" width="30" height="1" fill="#00ffb4"/>
<rect x="517" y="255" width="30" height="1" fill="#00ffb4"/>
<rect x="517" y="256" width="30" height="1" fill="#00ffa0"/>
<rect x="517" y="257" width="30" height="1" fill="#00ffa0"/>
<rect x="517" y="258" width="30" height="1" fill="#00ffa0"/>
<rect x="517" y="259" width="30" height="1" fill="#00ffa0"/>
<rect x="517" y="260" width="30" height="1" fill="#00ffa0"/>
<rect x="517" y="261" width="30" height="1" fill="#00ffa0"/>
<rect x="517" y="262" width="30" height="1" fill="#00ffa0"/>
<rect x="517" y="263" width="30" height="1" fill="#00ff46"/>
<rect x="517" y="264" width="30" height="1" fill="#00ff4b"/>
<rect x="616" y="293" width="1" height="1" fill="#3cff00"/>
<rect x="616" y="294" width="1" height="1" fill="#3cff00"/>
<rect x="616" y="295" width="1" height="1" fill="#3cff00"/>
<rect x="616" y="296" width="1" height="1" fill="#a0ff00"/>
<rect x="616" y="297" width="1" height="1" fill="#a0ff00"/>
<rect x="616" y="298" width="1" height="1" fill="#50ff00"/>
<rect x="616" y="299" width="1" height="1" fill="#50ff00"/>
<rect x="616" y="300" width="1" height="1" fill="#50ff00"/>
<rect x="616" y="301" width="1" height="1" fill="#e6ff00"/>
<rect x="616" y="302" width="1" height="1" fill="#64ff00"/>
<rect x="616" y="303" width="1" height="1" fill="#64ff00"/>
<rect x="616" y="304" width="1" height="1" fill="#64ff00"/>
<rect x="616" y="305" width="1" height="1" fill="#f0ff00"/>
<rect x="616" y="306" width="1" height="1" fill="#78ff00"/>
<rect x="616" y="307" width="1" height="1" fill="#78ff00"/>
<rect x="616" y="308" width="1" height="1" fill="#78ff00"/>
<rect x="616" y="309" width="1" height="1" fill="#78ff00"/>
<rect x="616" y="310" width="1" height="1" fill="#78ff00"/>
<rect x="616" y="311" width="1" height="1" fill="#78ff00"/>
<rect x="616" y="312" width="1" height="1" fill="#fff500"/>
<rect x="616" y="313" width="1" height="1" fill="#fff500"/>
<rect x="616" y="314" width="1" height="1" fill="#82ff00"/>
<rect x="616" y="315" width="1" height="1" fill="#82ff00"/>
<rect x="616" y="316" width="1" height="1" fill="#82ff00"/>
<rect x="616" y="317" width="1" height="1" fill="#fff000"/>
<rect x="616" y="318" width="1" height="1" fill="#fff000"/>
<rect x="616" y="319" width="1" height="1" fill="#8cff00"/>
<rect x="616" y="320" width="1" height="1" fill="#8cff00"/>
<rect x="616" y="321" width="1" height="1" fill="#1eff00"/>
<rect x="616" y="322" width="1" height="1" fill="#1eff00"/>
<rect x="616" y="323" width="1" height="1" fill="#1eff00"/>
<rect x="616" y="324" width="1" height="1" fill="#1eff00"/>
<rect x="616" y="325" width="1" height="1" fill="#1eff00"/>
<rect x="616" y="326" width="1" height="1" fill="#1eff00"/>
<rect x="619" y="265" width="1" height="1" fill="#00ff96"/>
<rect x="619" y="266" width="1" height="1" fill="#00ff96"/>
<rect x="619" y="267" width="1" height="1" fill="#00ff96"/>
<rect x="619" y="268" width="1" height="1" fill="#00ff96"/>
<rect x="619" y="269" width="1" height="1" fill="#00ff96"/>
<rect x="619" y="270" width="1" height="1" fill="#00ff96"/>
<rect x="619" y="271" width="1" height="1" fill="#00ff96"/>
<rect x="619" y="272" width="1" height="1" fill="#00ff78"/>
<rect x="619" y="273" width="1" height="1" fill="#00ff78"/>
<rect x="619" y="274" width="1" height="1" fill="#00ff78"/>
<rect x="619" y="275" width="1" height="1" fill="#00ff78"/>
<rect x="619" y="276" width="1" height="1" fill="#00ff1e"/>
<rect x="619" y="277" width="1" height="1" fill="#00ff1e"/>
<rect x="619" y="278" width="1" height="1" fill="#00ff1e"/>
<rect x="619" y="279" width="1" height="1" fill="#00ff1e"/>
<rect x="619" y="280" width="1" height="1" fill="#00ff1e"/>
<rect x="619" y="281" width="1" height="1" fill="#00ff1e"/>
<rect x="619" y="282" width="1" height="1" fill="#00ff1e"/>
<rect x="619" y="283" width="1" height="1" fill="#00ff1e"/>
<rect x="619" y="284" width="1" height="1" fill="#00ff1e"/>
<rect x="619" y="285" width="1" height="1" fill="#00ff1e"/>
<rect x="619" y="286" width="1" height="1" fill="#00ff1e"/>
<rect x="619" y="287" width="1" height="1" fill="#96ff00"/>
<rect x="619" y="288" width="1" height="1" fill="#fff000"/>
<rect x="619" y="289" width="1" height="1" fill="#ffc800"/>
<rect x="619" y="290" width="1" height="1" fill="#c8ff00"/>
<rect x="619" y="291" width="1" height="1" fill="#64ff00"/>
<rect x="619" y="292" width="1" height="1" fill="#3cff00"/>
</g>
<rect x="638" y="40" width="10" height="123" fill="url(#cb)"/>
<rect x="638" y="203" width="10" height="124" fill="url(#cb)"/>
<path d="M80.5 40V164M77 40.5H629M628.5 40V164M80 163.5H629M73 141.5H81M73 100.5H81M73 59.5H81M77 157.5H81M77 153.5H81M77 150.5H81M77 147.5H81M77 145.5H81M77 143.5H81M77 129.5H81M77 122.5H81M77 116.5H81M77 112.5H81M77 109.5H81M77 106.5H81M77 104.5H81M77 102.5H81M77 88.5H81M77 81.5H81M77 75.5H81M77 71.5H81M77 68.5H81M77 65.5H81M77 63.5H81M77 61.5H81M77 47.5H81M86.5 164V167M97.5 164V171M109.5 164V167M120.5 164V167M131.5 164V167M143.5 164V167M154.5 164V167M165.5 164V167M177.5 164V167M188.5 164V167M200.5 164V167M211.5 164V171M222.5 164V167M234.5 164V167M245.5 164V167M257.5 164V167M268.5 164V167M279.5 164V167M291.5 164V167M302.5 164V167M314.5 164V167M325.5 164V171M336.5 164V167M348.5 164V167M359.5 164V167M370.5 164V167M382.5 164V167M393.5 164V167M405.5 164V167M416.5 164V167M427.5 164V167M439.5 164V171M450.5 164V167M462.5 164V167M473.5 164V167M484.5 164V167M496.5 164V167M507.5 164V167M519.5 164V167M530.5 164V167M541.5 164V167M553.5 164V171M564.5 164V167M576.5 164V167M587.5 164V167M598.5 164V167M610.5 164V167M621.5 164V167M648.5 40V164M638 163.5H649M649 152.5H656M649 142.5H652M649 132.5H656M649 122.5H652M649 111.5H656M649 101.5H652M649 91.5H656M649 81.5H652M649 70.5H656M649 60.5H652M649 50.5H656M649 40.5H652M80.5 203V328M77 203.5H629M628.5 203V328M80 327.5H629M73 305.5H81M73 264.5H81M73 222.5H81M77 321.5H81M77 317.5H81M77 314.5H81M77 311.5H81M77 309.5H81M77 307.5H81M77 292.5H81M77 285.5H81M77 280.5H81M77 276.5H81M77 273.5H81M77 270.5H81M77 268.5H81M77 265.5H81M77 251.5H81M77 244.5H81M77 239.5H81M77 235.5H81M77 231.5H81M77 229.5H81M77 226.5H81M77 224.5H81M77 210.5H81M86.5 328V331M97.5 328V335M109.5 328V331M120.5 328V331M131.5 328V331M143.5 328V331M154.5 328V331M165.5 328V331M177.5 328V331M188.5 328V331M200.5 328V331M211.5 328V335M222.5 328V331M234.5 328V331M245.5 328V331M257.5 328V331M268.5 328V331M279.5 328V331M291.5 328V331M302.5 328V331M314.5 328V331M325.5 328V335M336.5 328V331M348.5 328V331M359.5 328V331M370.5 328V331M382.5 328V331M393.5 328V331M405.5 328V331M416.5 328V331M427.5 328V331M439.5 328V335M450.5 328V331M462.5 328V331M473.5 328V331M484.5 328V331M496.5 328V331M507.5 328V331M519.5 328V331M530.5 328V331M541.5 328V331M553.5 328V335M564.5 328V331M576.5 328V331M587.5 328V331M598.5 328V331M610.5 328V331M621.5 328V331M648.5 203V328M638 327.5H649M649 316.5H656M649 306.5H652M649 296.5H656M649 285.5H652M649 275.5H656M649 265.5H652M649 254.5H656M649 244.5H652M649 234.5H656M649 223.5H652M649 213.5H656M649 203.5H652M80.5 367V492M80 367.5H629M628.5 367V492M80 491.5H629M73 491.5H81M80.5 492V499M77 478.5H81M134.5 492V495M73 466.5H81M189.5 492V499M77 453.5H81M244.5 492V495M73 441.5H81M299.5 492V499M77 429.5H81M354.5 492V495M73 416.5H81M408.5 492V499M77 404.5H81M463.5 492V495M73 391.5H81M518.5 492V499M77 379.5H81M573.5 492V495M73 367.5H81M628.5 492V499" stroke="#000" stroke-width="1" fill="none" shape-rendering="crispEdges"/>
<g opacity="0.999">
<text textLength="12.4" lengthAdjust="spacingAndGlyphs" transform="translate(51.3 147) rotate(0.05)">10</text>
<text textLength="6.4" lengthAdjust="spacingAndGlyphs" transform="translate(63.4 142) rotate(0.05)">1</text>
<text textLength="12.4" lengthAdjust="spacingAndGlyphs" transform="translate(51.3 106) rotate(0.05)">10</text>
<text textLength="6.4" lengthAdjust="spacingAndGlyphs" transform="translate(63.4 101) rotate(0.05)">2</text>
<text textLength="12.4" lengthAdjust="spacingAndGlyphs" transform="translate(51.3 65) rotate(0.05)">10</text>
<text textLength="6.4" lengthAdjust="spacingAndGlyphs" transform="translate(63.4 60) rotate(0.05)">3</text>
<text text-anchor="middle" textLength="27.4" lengthAdjust="spacingAndGlyphs" transform="translate(98.15 184) rotate(0.05)">00:00</text>
<text text-anchor="middle" textLength="27.4" lengthAdjust="spacingAndGlyphs" transform="translate(212.05 184) rotate(0.05)">00:10</text>
<text text-anchor="middle" textLength="27.4" lengthAdjust="spacingAndGlyphs" transform="translate(325.95 184) rotate(0.05)">00:20</text>
<text text-anchor="middle" textLength="27.4" lengthAdjust="spacingAndGlyphs" transform="translate(439.85 184) rotate(0.05)">00:30</text>
<text text-anchor="middle" textLength="27.4" lengthAdjust="spacingAndGlyphs" transform="translate(553.75 184) rotate(0.05)">00:40</text>
<text textLength="56.2" lengthAdjust="spacingAndGlyphs" transform="translate(84.4 194) rotate(0.05)">2005-12-17</text>
<text textLength="22.6" lengthAdjust="spacingAndGlyphs" transform="translate(659.6 156) rotate(0.05)">-180</text>
<text textLength="22.6" lengthAdjust="spacingAndGlyphs" transform="translate(659.6 136) rotate(0.05)">-160</text>
<text textLength="22.6" lengthAdjust="spacingAndGlyphs" transform="translate(659.6 115) rotate(0.05)">-140</text>
<text textLength="22.6" lengthAdjust="spacingAndGlyphs" transform="translate(659.6 95) rotate(0.05)">-120</text>
<text textLength="22.6" lengthAdjust="spacingAndGlyphs" transform="translate(659.6 74) rotate(0.05)">-100</text>
<text textLength="16.4" lengthAdjust="spacingAndGlyphs" transform="translate(659.6 54) rotate(0.05)">-80</text>
<text text-anchor="middle" textLength="177.6" lengthAdjust="spacingAndGlyphs" transform="translate(353.6 32) rotate(0.05)">Thermal Noise Amplitude, Antenna X</text>
<text text-anchor="middle" textLength="31.2" lengthAdjust="spacingAndGlyphs" transform="translate(33 102.3) rotate(-89.95)">CDF C</text>
<text text-anchor="middle" textLength="78.4" lengthAdjust="spacingAndGlyphs" transform="translate(43 102.6) rotate(-89.95)">Frequency (kHz)</text>
<g clip-path="url(#cl40)"><text transform="translate(696 171) rotate(-89.95)" textLength="141" lengthAdjust="spacingAndGlyphs">plitude, antenna X (dBV/root(</text></g>
<rect x="694.2" y="33.6" width="1.2" height="1" fill="#000" opacity=".8"/>
<text textLength="12.4" lengthAdjust="spacingAndGlyphs" transform="translate(51.3 311) rotate(0.05)">10</text>
<text textLength="6.4" lengthAdjust="spacingAndGlyphs" transform="translate(63.4 306) rotate(0.05)">1</text>
<text textLength="12.4" lengthAdjust="spacingAndGlyphs" transform="translate(51.3 270) rotate(0.05)">10</text>
<text textLength="6.4" lengthAdjust="spacingAndGlyphs" transform="translate(63.4 265) rotate(0.05)">2</text>
<text textLength="12.4" lengthAdjust="spacingAndGlyphs" transform="translate(51.3 228) rotate(0.05)">10</text>
<text textLength="6.4" lengthAdjust="spacingAndGlyphs" transform="translate(63.4 223) rotate(0.05)">3</text>
<text text-anchor="middle" textLength="27.4" lengthAdjust="spacingAndGlyphs" transform="translate(98.15 348) rotate(0.05)">00:00</text>
<text text-anchor="middle" textLength="27.4" lengthAdjust="spacingAndGlyphs" transform="translate(212.05 348) rotate(0.05)">00:10</text>
<text text-anchor="middle" textLength="27.4" lengthAdjust="spacingAndGlyphs" transform="translate(325.95 348) rotate(0.05)">00:20</text>
<text text-anchor="middle" textLength="27.4" lengthAdjust="spacingAndGlyphs" transform="translate(439.85 348) rotate(0.05)">00:30</text>
<text text-anchor="middle" textLength="27.4" lengthAdjust="spacingAndGlyphs" transform="translate(553.75 348) rotate(0.05)">00:40</text>
<text textLength="56.2" lengthAdjust="spacingAndGlyphs" transform="translate(84.4 358) rotate(0.05)">2005-12-17</text>
<text textLength="22.6" lengthAdjust="spacingAndGlyphs" transform="translate(659.6 320) rotate(0.05)">-180</text>
<text textLength="22.6" lengthAdjust="spacingAndGlyphs" transform="translate(659.6 300) rotate(0.05)">-160</text>
<text textLength="22.6" lengthAdjust="spacingAndGlyphs" transform="translate(659.6 279) rotate(0.05)">-140</text>
<text textLength="22.6" lengthAdjust="spacingAndGlyphs" transform="translate(659.6 258) rotate(0.05)">-120</text>
<text textLength="22.6" lengthAdjust="spacingAndGlyphs" transform="translate(659.6 238) rotate(0.05)">-100</text>
<text textLength="16.4" lengthAdjust="spacingAndGlyphs" transform="translate(659.6 217) rotate(0.05)">-80</text>
<text text-anchor="middle" textLength="177.6" lengthAdjust="spacingAndGlyphs" transform="translate(353.6 195) rotate(0.05)">Thermal Noise Amplitude, Antenna X</text>
<text text-anchor="middle" textLength="46" lengthAdjust="spacingAndGlyphs" transform="translate(33 264.2) rotate(-89.95)">CDF Java</text>
<text text-anchor="middle" textLength="78.4" lengthAdjust="spacingAndGlyphs" transform="translate(43 264.8) rotate(-89.95)">Frequency (kHz)</text>
<g clip-path="url(#cl203)"><text transform="translate(696 334) rotate(-89.95)" textLength="141" lengthAdjust="spacingAndGlyphs">plitude, antenna X (dBV/root(</text></g>
<rect x="694.2" y="196.6" width="1.2" height="1" fill="#000" opacity=".8"/>
<rect x="691.2" y="335.3" width="4.7" height="1" fill="#000" opacity=".9"/>
<text textLength="15.6" lengthAdjust="spacingAndGlyphs" transform="translate(54.4 495) rotate(0.05)">0.0</text>
<text textLength="15.6" lengthAdjust="spacingAndGlyphs" transform="translate(54.4 470) rotate(0.05)">0.2</text>
<text textLength="15.6" lengthAdjust="spacingAndGlyphs" transform="translate(54.4 445) rotate(0.05)">0.4</text>
<text textLength="15.6" lengthAdjust="spacingAndGlyphs" transform="translate(54.4 420) rotate(0.05)">0.6</text>
<text textLength="15.6" lengthAdjust="spacingAndGlyphs" transform="translate(54.4 395) rotate(0.05)">0.8</text>
<text textLength="15.6" lengthAdjust="spacingAndGlyphs" transform="translate(54.4 371) rotate(0.05)">1.0</text>
<g clip-path="url(#c3)">
<text text-anchor="middle" textLength="15.6" lengthAdjust="spacingAndGlyphs" transform="translate(81 512) rotate(0.05)">0.0</text>
<text text-anchor="middle" textLength="15.6" lengthAdjust="spacingAndGlyphs" transform="translate(190 512) rotate(0.05)">0.2</text>
<text text-anchor="middle" textLength="15.6" lengthAdjust="spacingAndGlyphs" transform="translate(300 512) rotate(0.05)">0.4</text>
<text text-anchor="middle" textLength="15.6" lengthAdjust="spacingAndGlyphs" transform="translate(409 512) rotate(0.05)">0.6</text>
<text text-anchor="middle" textLength="15.6" lengthAdjust="spacingAndGlyphs" transform="translate(519 512) rotate(0.05)">0.8</text>
<text text-anchor="middle" textLength="15.6" lengthAdjust="spacingAndGlyphs" transform="translate(629 512) rotate(0.05)">1.0</text>
</g>
<text textLength="130.6" lengthAdjust="spacingAndGlyphs" transform="translate(85.3 382) rotate(0.05)">2005-12-17T00:03:07.341Z</text>
<text text-anchor="middle" textLength="94.4" lengthAdjust="spacingAndGlyphs" transform="translate(354.2 349) rotate(0.05)">Measurement Time</text>
<text text-anchor="middle" textLength="48.8" lengthAdjust="spacingAndGlyphs" transform="translate(355.1 359) rotate(0.05)">slice0=0.0</text>
</g>
</svg>
</body></html>
